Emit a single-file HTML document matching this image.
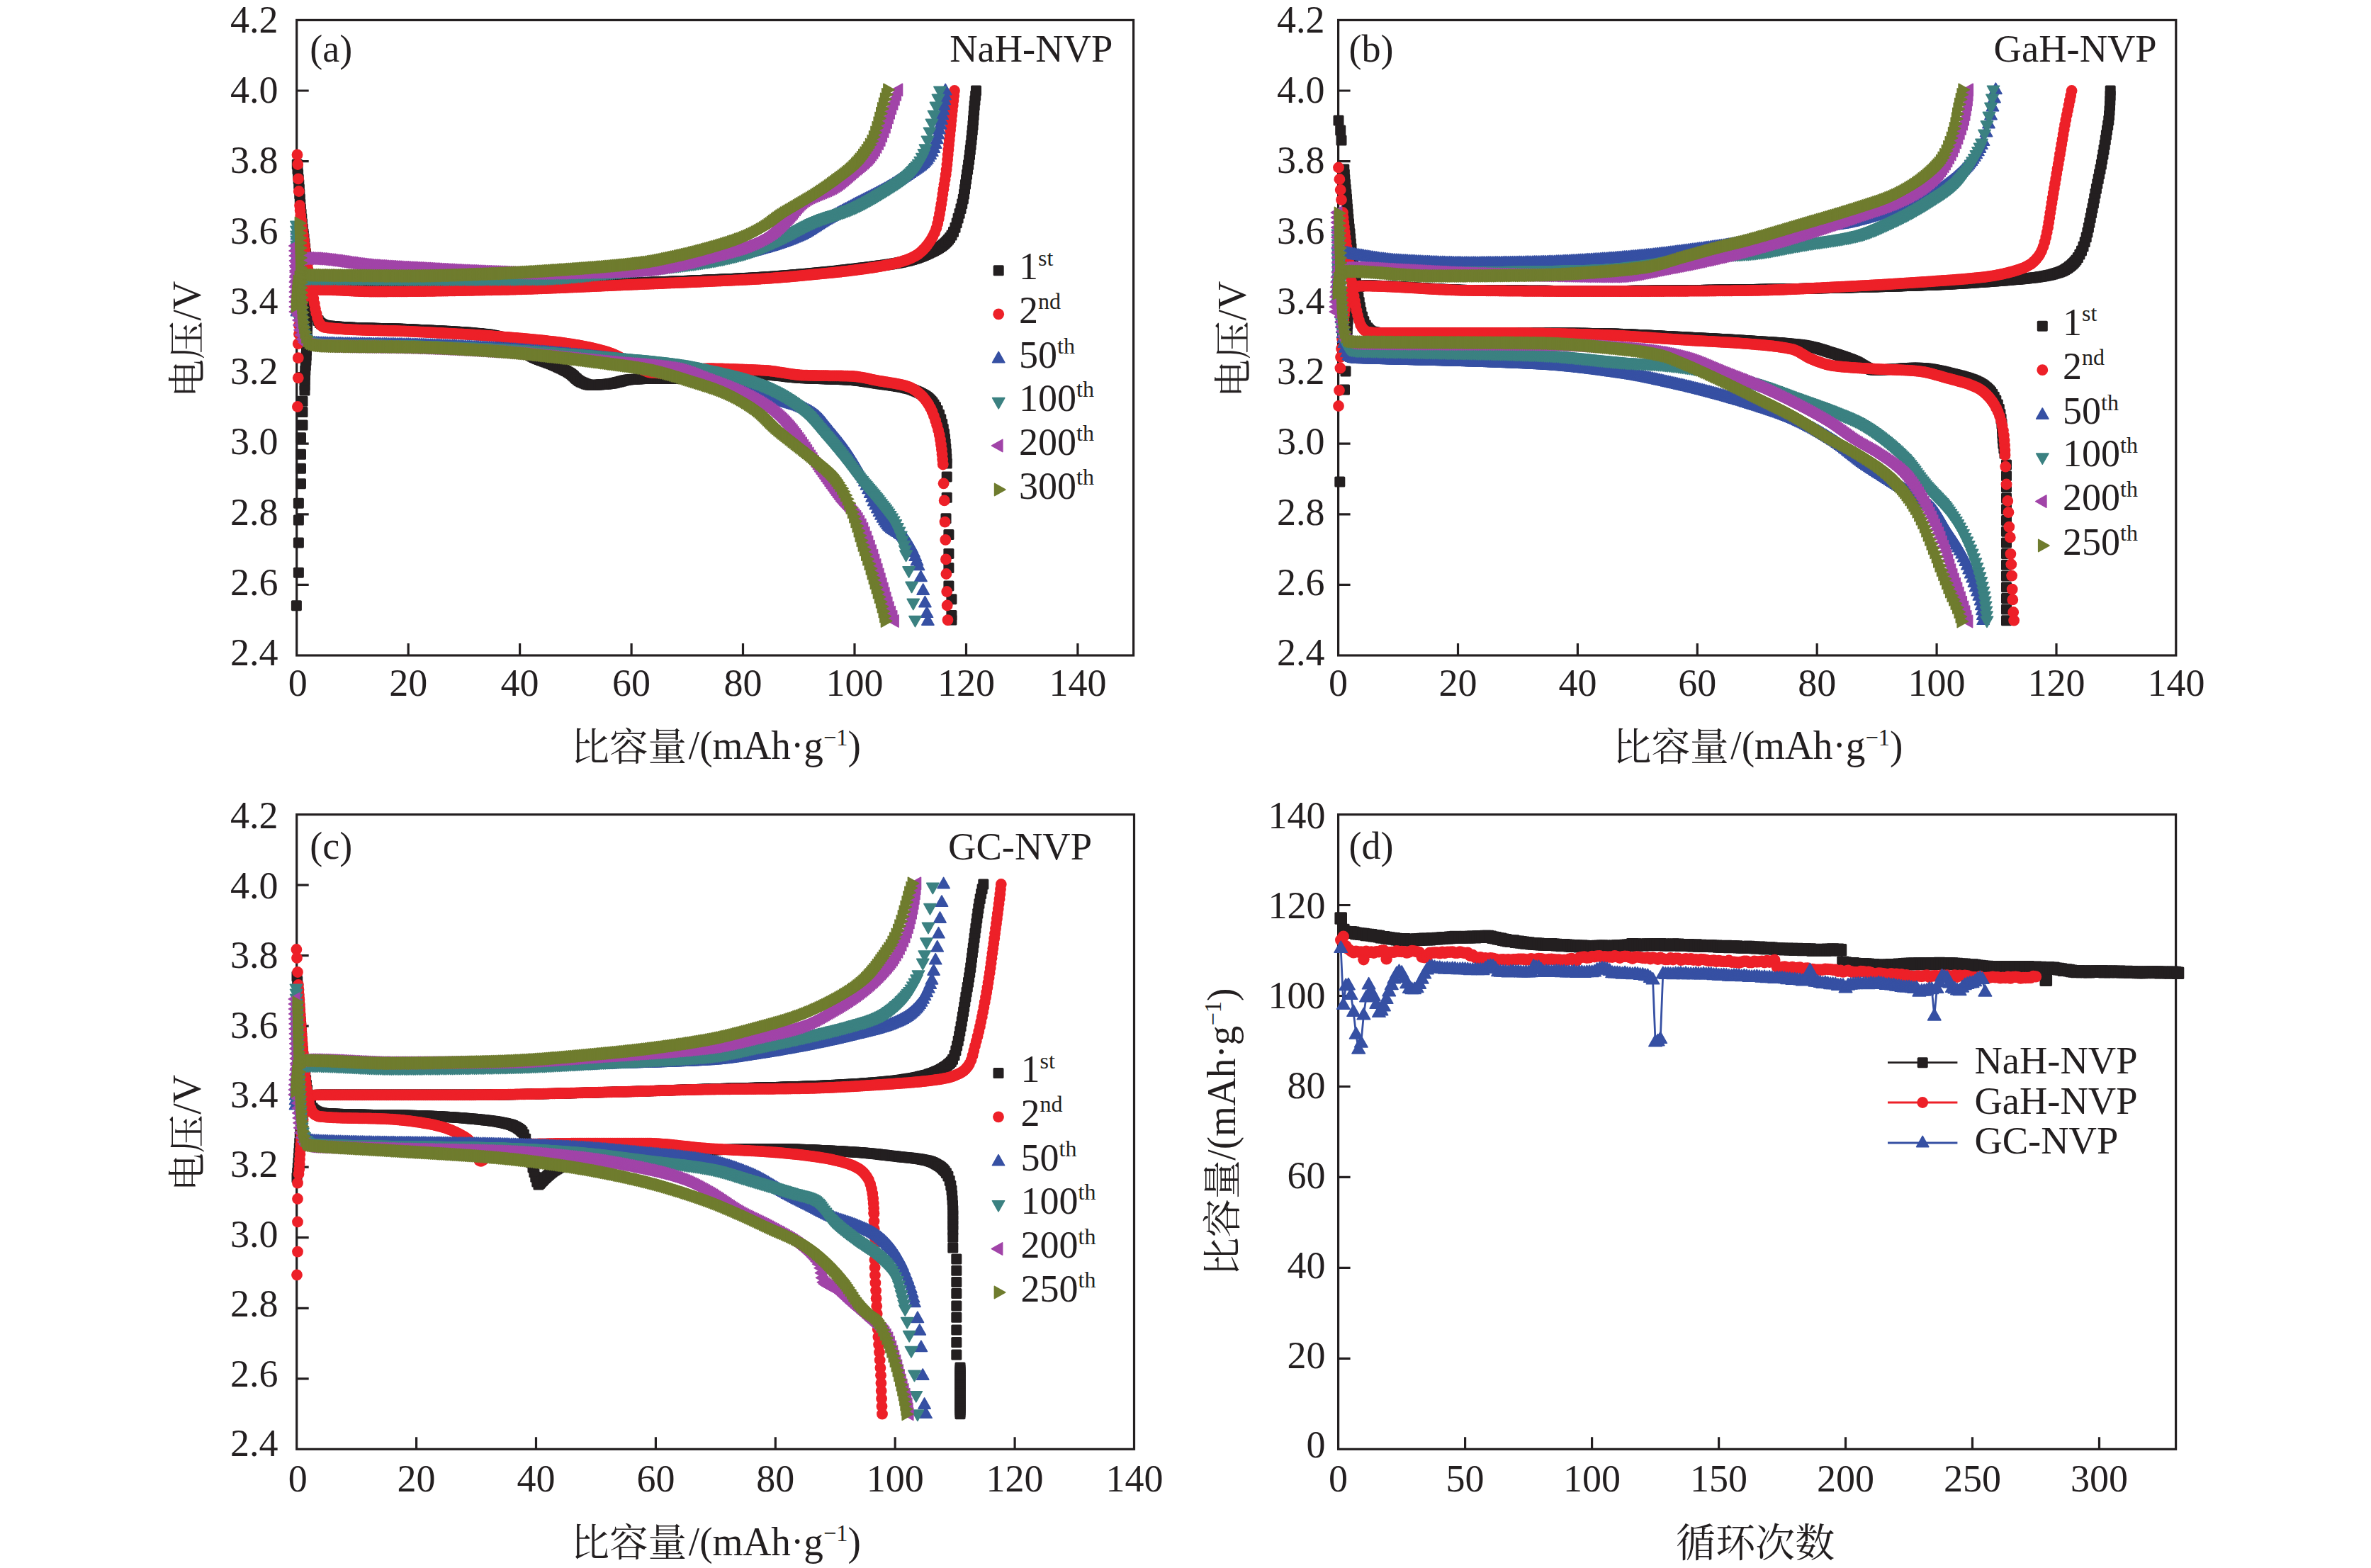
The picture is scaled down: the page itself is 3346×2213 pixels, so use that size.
<!DOCTYPE html>
<html lang="zh"><head><meta charset="utf-8"><title>NVP 充放电曲线与循环性能</title>
<style>
html,body{margin:0;padding:0;background:#fff}
svg{display:block}
.m{fill:none;stroke:none}
.k{marker-start:url(#mk);marker-mid:url(#mk);marker-end:url(#mk)}
.r{marker-start:url(#mr);marker-mid:url(#mr);marker-end:url(#mr)}
.b{marker-start:url(#mb);marker-mid:url(#mb);marker-end:url(#mb)}
.t{marker-start:url(#mt);marker-mid:url(#mt);marker-end:url(#mt)}
.p{marker-start:url(#mp);marker-mid:url(#mp);marker-end:url(#mp)}
.o{marker-start:url(#mo);marker-mid:url(#mo);marker-end:url(#mo)}
.dk{fill:none;stroke:#231f20;stroke-width:2.8;marker-start:url(#dk);marker-mid:url(#dk);marker-end:url(#dk)}
.dr{fill:none;stroke:#ed2028;stroke-width:2.8;marker-start:url(#dr);marker-mid:url(#dr);marker-end:url(#dr)}
.db{fill:none;stroke:#3650a3;stroke-width:2.8;marker-start:url(#db);marker-mid:url(#db);marker-end:url(#db)}
.L{marker-start:none;marker-end:none}
</style></head>
<body>
<svg width="3346" height="2213" viewBox="0 0 3346 2213">
<rect width="3346" height="2213" fill="#fff"/>
<defs>
<marker id="mk" markerUnits="userSpaceOnUse" markerWidth="40" markerHeight="40" refX="0" refY="0" viewBox="-20 -20 40 40" orient="0" overflow="visible"><rect x="-7.5" y="-7.5" width="15" height="15" rx="1.6" fill="#231f20"/></marker>
<marker id="mr" markerUnits="userSpaceOnUse" markerWidth="40" markerHeight="40" refX="0" refY="0" viewBox="-20 -20 40 40" orient="0" overflow="visible"><circle r="7.9" fill="#ed2028"/></marker>
<marker id="mb" markerUnits="userSpaceOnUse" markerWidth="40" markerHeight="40" refX="0" refY="0" viewBox="-20 -20 40 40" orient="0" overflow="visible"><path d="M0,-9.6 L8.6,5.6 L-8.6,5.6Z" fill="#3650a3" stroke="#3650a3" stroke-width="1.6" stroke-linejoin="round"/></marker>
<marker id="mt" markerUnits="userSpaceOnUse" markerWidth="40" markerHeight="40" refX="0" refY="0" viewBox="-20 -20 40 40" orient="0" overflow="visible"><path d="M0,9.6 L8.6,-5.6 L-8.6,-5.6Z" fill="#3b8181" stroke="#3b8181" stroke-width="1.6" stroke-linejoin="round"/></marker>
<marker id="mp" markerUnits="userSpaceOnUse" markerWidth="40" markerHeight="40" refX="0" refY="0" viewBox="-20 -20 40 40" orient="0" overflow="visible"><path d="M-9.6,0 L5.6,8.6 L5.6,-8.6Z" fill="#a144a8" stroke="#a144a8" stroke-width="1.6" stroke-linejoin="round"/></marker>
<marker id="mo" markerUnits="userSpaceOnUse" markerWidth="40" markerHeight="40" refX="0" refY="0" viewBox="-20 -20 40 40" orient="0" overflow="visible"><path d="M9.6,0 L-5.6,8.6 L-5.6,-8.6Z" fill="#6f7c2e" stroke="#6f7c2e" stroke-width="1.6" stroke-linejoin="round"/></marker>
<marker id="dk" markerUnits="userSpaceOnUse" markerWidth="40" markerHeight="40" refX="0" refY="0" viewBox="-20 -20 40 40" orient="0" overflow="visible"><rect x="-8.8" y="-8.8" width="17.6" height="17.6" rx="1.6" fill="#231f20"/></marker>
<marker id="dr" markerUnits="userSpaceOnUse" markerWidth="40" markerHeight="40" refX="0" refY="0" viewBox="-20 -20 40 40" orient="0" overflow="visible"><circle r="8.2" fill="#ed2028"/></marker>
<marker id="db" markerUnits="userSpaceOnUse" markerWidth="40" markerHeight="40" refX="0" refY="0" viewBox="-20 -20 40 40" orient="0" overflow="visible"><path d="M0,-10.2 L9.2,6 L-9.2,6Z" fill="#3650a3" stroke="#3650a3" stroke-width="1.6" stroke-linejoin="round"/></marker>
</defs>
<g font-family="'Liberation Serif','Noto Serif CJK SC',serif" fill="#231f20">
<g fill="none" stroke="#231f20" stroke-width="3.2"><rect x="418.7" y="28.4" width="1180.9" height="896.6"/><path d="M576.2,925v-17M733.6,925v-17M891.1,925v-17M1048.5,925v-17M1206,925v-17M1363.5,925v-17M1520.9,925v-17M418.7,825.4h17M418.7,725.8h17M418.7,626.1h17M418.7,526.5h17M418.7,426.9h17M418.7,327.3h17M418.7,227.6h17M418.7,128h17"/></g>
<text x="420.2" y="982.4" text-anchor="middle" font-size="54">0</text>
<text x="576.2" y="982.4" text-anchor="middle" font-size="54">20</text>
<text x="733.6" y="982.4" text-anchor="middle" font-size="54">40</text>
<text x="891.1" y="982.4" text-anchor="middle" font-size="54">60</text>
<text x="1048.5" y="982.4" text-anchor="middle" font-size="54">80</text>
<text x="1206" y="982.4" text-anchor="middle" font-size="54">100</text>
<text x="1363.5" y="982.4" text-anchor="middle" font-size="54">120</text>
<text x="1520.9" y="982.4" text-anchor="middle" font-size="54">140</text>
<text x="392.6" y="45.7" text-anchor="end" font-size="54">4.2</text>
<text x="392.6" y="145" text-anchor="end" font-size="54">4.0</text>
<text x="392.6" y="244.2" text-anchor="end" font-size="54">3.8</text>
<text x="392.6" y="343.5" text-anchor="end" font-size="54">3.6</text>
<text x="392.6" y="442.7" text-anchor="end" font-size="54">3.4</text>
<text x="392.6" y="542" text-anchor="end" font-size="54">3.2</text>
<text x="392.6" y="641.3" text-anchor="end" font-size="54">3.0</text>
<text x="392.6" y="740.5" text-anchor="end" font-size="54">2.8</text>
<text x="392.6" y="839.8" text-anchor="end" font-size="54">2.6</text>
<text x="392.6" y="939" text-anchor="end" font-size="54">2.4</text>
<g fill="none" stroke="#231f20" stroke-width="3.2"><rect x="1888.6" y="28.4" width="1182.2" height="896.6"/><path d="M2057.5,925v-17M2226.4,925v-17M2395.3,925v-17M2564.2,925v-17M2733.1,925v-17M2902,925v-17M1888.6,825.4h17M1888.6,725.8h17M1888.6,626.1h17M1888.6,526.5h17M1888.6,426.9h17M1888.6,327.3h17M1888.6,227.6h17M1888.6,128h17"/></g>
<text x="1888.6" y="982.4" text-anchor="middle" font-size="54">0</text>
<text x="2057.5" y="982.4" text-anchor="middle" font-size="54">20</text>
<text x="2226.4" y="982.4" text-anchor="middle" font-size="54">40</text>
<text x="2395.3" y="982.4" text-anchor="middle" font-size="54">60</text>
<text x="2564.2" y="982.4" text-anchor="middle" font-size="54">80</text>
<text x="2733.1" y="982.4" text-anchor="middle" font-size="54">100</text>
<text x="2902" y="982.4" text-anchor="middle" font-size="54">120</text>
<text x="3070.9" y="982.4" text-anchor="middle" font-size="54">140</text>
<text x="1869.6" y="45.7" text-anchor="end" font-size="54">4.2</text>
<text x="1869.6" y="145" text-anchor="end" font-size="54">4.0</text>
<text x="1869.6" y="244.2" text-anchor="end" font-size="54">3.8</text>
<text x="1869.6" y="343.5" text-anchor="end" font-size="54">3.6</text>
<text x="1869.6" y="442.7" text-anchor="end" font-size="54">3.4</text>
<text x="1869.6" y="542" text-anchor="end" font-size="54">3.2</text>
<text x="1869.6" y="641.3" text-anchor="end" font-size="54">3.0</text>
<text x="1869.6" y="740.5" text-anchor="end" font-size="54">2.8</text>
<text x="1869.6" y="839.8" text-anchor="end" font-size="54">2.6</text>
<text x="1869.6" y="939" text-anchor="end" font-size="54">2.4</text>
<g fill="none" stroke="#231f20" stroke-width="3.2"><rect x="418.7" y="1149.6" width="1181.8" height="895.7"/><path d="M587.6,2045.3v-17M756.5,2045.3v-17M925.4,2045.3v-17M1094.3,2045.3v-17M1263.2,2045.3v-17M1432.1,2045.3v-17M418.7,1945.8h17M418.7,1846.3h17M418.7,1746.7h17M418.7,1647.2h17M418.7,1547.7h17M418.7,1448.2h17M418.7,1348.6h17M418.7,1249.1h17"/></g>
<text x="420.2" y="2104.9" text-anchor="middle" font-size="54">0</text>
<text x="587.6" y="2104.9" text-anchor="middle" font-size="54">20</text>
<text x="756.5" y="2104.9" text-anchor="middle" font-size="54">40</text>
<text x="925.4" y="2104.9" text-anchor="middle" font-size="54">60</text>
<text x="1094.3" y="2104.9" text-anchor="middle" font-size="54">80</text>
<text x="1263.2" y="2104.9" text-anchor="middle" font-size="54">100</text>
<text x="1432.1" y="2104.9" text-anchor="middle" font-size="54">120</text>
<text x="1601" y="2104.9" text-anchor="middle" font-size="54">140</text>
<text x="392.6" y="1169.2" text-anchor="end" font-size="54">4.2</text>
<text x="392.6" y="1267.6" text-anchor="end" font-size="54">4.0</text>
<text x="392.6" y="1366.1" text-anchor="end" font-size="54">3.8</text>
<text x="392.6" y="1464.5" text-anchor="end" font-size="54">3.6</text>
<text x="392.6" y="1563" text-anchor="end" font-size="54">3.4</text>
<text x="392.6" y="1661.4" text-anchor="end" font-size="54">3.2</text>
<text x="392.6" y="1759.8" text-anchor="end" font-size="54">3.0</text>
<text x="392.6" y="1858.3" text-anchor="end" font-size="54">2.8</text>
<text x="392.6" y="1956.7" text-anchor="end" font-size="54">2.6</text>
<text x="392.6" y="2055.2" text-anchor="end" font-size="54">2.4</text>
<g fill="none" stroke="#231f20" stroke-width="3.2"><rect x="1888.6" y="1149.6" width="1182" height="895.7"/><path d="M2067.6,2045.3v-17M2246.6,2045.3v-17M2425.6,2045.3v-17M2604.5,2045.3v-17M2783.5,2045.3v-17M2962.5,2045.3v-17M1888.6,1917.3h17M1888.6,1789.4h17M1888.6,1661.4h17M1888.6,1533.5h17M1888.6,1405.5h17M1888.6,1277.5h17"/></g>
<text x="1888.6" y="2105.1" text-anchor="middle" font-size="54">0</text>
<text x="2067.6" y="2105.1" text-anchor="middle" font-size="54">50</text>
<text x="2246.6" y="2105.1" text-anchor="middle" font-size="54">100</text>
<text x="2425.6" y="2105.1" text-anchor="middle" font-size="54">150</text>
<text x="2604.5" y="2105.1" text-anchor="middle" font-size="54">200</text>
<text x="2783.5" y="2105.1" text-anchor="middle" font-size="54">250</text>
<text x="2962.5" y="2105.1" text-anchor="middle" font-size="54">300</text>
<text x="1870.6" y="2057.4" text-anchor="end" font-size="54">0</text>
<text x="1870.6" y="1930.5" text-anchor="end" font-size="54">20</text>
<text x="1870.6" y="1803.6" text-anchor="end" font-size="54">40</text>
<text x="1870.6" y="1676.8" text-anchor="end" font-size="54">60</text>
<text x="1870.6" y="1549.9" text-anchor="end" font-size="54">80</text>
<text x="1870.6" y="1423" text-anchor="end" font-size="54">100</text>
<text x="1870.6" y="1296.1" text-anchor="end" font-size="54">120</text>
<text x="1870.6" y="1169.2" text-anchor="end" font-size="54">140</text>
<text x="437.2" y="86.8" text-anchor="start" font-size="54">(a)</text>
<text x="1903.5" y="86.8" text-anchor="start" font-size="54">(b)</text>
<text x="437.2" y="1212.3" text-anchor="start" font-size="54">(c)</text>
<text x="1903.5" y="1212.3" text-anchor="start" font-size="54">(d)</text>
<text x="1570.3" y="87.1" text-anchor="end" font-size="54.5">NaH-NVP</text>
<text x="3043.7" y="87.1" text-anchor="end" font-size="54.5">GaH-NVP</text>
<text x="1541" y="1212.9" text-anchor="end" font-size="54.5">GC-NVP</text>
<text x="805.5" y="1072.8" font-size="54.5">比容量</text><text x="971.8" y="1071.3" font-size="58" textLength="243" lengthAdjust="spacingAndGlyphs"><tspan>/(mAh·g</tspan><tspan font-size="34" dy="-19.5">−1</tspan><tspan dy="19.5">)</tspan></text>
<text x="2276" y="1072.8" font-size="54.5">比容量</text><text x="2442.3" y="1071.3" font-size="58" textLength="243" lengthAdjust="spacingAndGlyphs"><tspan>/(mAh·g</tspan><tspan font-size="34" dy="-19.5">−1</tspan><tspan dy="19.5">)</tspan></text>
<text x="805.5" y="2196.2" font-size="54.5">比容量</text><text x="971.8" y="2194.7" font-size="58" textLength="243" lengthAdjust="spacingAndGlyphs"><tspan>/(mAh·g</tspan><tspan font-size="34" dy="-19.5">−1</tspan><tspan dy="19.5">)</tspan></text>
<text x="2365.3" y="2196.5" font-size="56">循环次数</text>
<g transform="translate(282.6,561) rotate(-90)"><text x="0" y="1.5" font-size="54">电压</text><text x="108.5" y="0" font-size="58" textLength="56" lengthAdjust="spacingAndGlyphs">/V</text></g>
<g transform="translate(1758,561) rotate(-90)"><text x="0" y="1.5" font-size="54">电压</text><text x="108.5" y="0" font-size="58" textLength="56" lengthAdjust="spacingAndGlyphs">/V</text></g>
<g transform="translate(282.6,1681.3) rotate(-90)"><text x="0" y="1.5" font-size="54">电压</text><text x="108.5" y="0" font-size="58" textLength="56" lengthAdjust="spacingAndGlyphs">/V</text></g>
<g transform="translate(1742.8,1801) rotate(-90)"><text x="0" y="1.5" font-size="54.5">比容量</text><text x="163.3" y="0" font-size="58" textLength="243" lengthAdjust="spacingAndGlyphs"><tspan>/(mAh·g</tspan><tspan font-size="34" dy="-19.5">−1</tspan><tspan dy="19.5">)</tspan></text></g>
</g>
<g fill="none" stroke="none">
<polyline class="m k" points="418.4,854.7 421.4,808.2 421.4,765.9 421.4,734 421.4,710.2 424.5,682.7 424.5,661.2 424.5,641.3 424.5,617.8 427,600 427,581.6 427,566.3"/><polyline class="m k" points="430,551 430.1,544 430.2,537 430.5,530 430.8,523 431.3,516 431.9,509 432.2,502 432.5,495.1 432.7,488.1 433,481.1 433.2,474.1 433.4,467.1 433.6,460.1 433.9,453.1 434.2,446.1 434.6,439.1 435.2,432.1 436,425.1 437.4,418.3 439.7,412.4 441.7,410.1 443.8,408.6 446.2,407.5 448.7,406.9 451.3,406.7 453.9,406.5 456.5,406.5 459.1,406.5 461.7,406.5 464.3,406.6 466.9,406.6 469.5,406.7 472.1,406.8 474.7,406.9 477.3,407 479.9,407.1 482.5,407.2 485.1,407.3 487.7,407.4 490.3,407.5 492.9,407.6 495.5,407.7 498.1,407.8 500.7,407.9 503.3,408 505.9,408.1 508.5,408.2 511.1,408.2 513.7,408.3 516.3,408.4 518.9,408.4 521.5,408.5 524.1,408.5 526.7,408.5 529.3,408.5 531.9,408.5 534.5,408.5 537.1,408.5 539.7,408.5 542.3,408.5 544.9,408.5 547.5,408.5 550.1,408.4 552.7,408.4 555.3,408.4 557.9,408.4 560.5,408.4 563.1,408.4 565.7,408.3 568.3,408.3 570.9,408.3 573.5,408.3 576.1,408.2 578.7,408.2 581.3,408.2 583.9,408.2 586.5,408.1 589.1,408.1 591.7,408.1 594.3,408 596.9,408 599.5,408 602.1,407.9 604.7,407.9 607.3,407.9 609.9,407.8 612.5,407.8 615.1,407.7 617.7,407.7 620.3,407.7 622.9,407.6 625.5,407.6 628.1,407.5 630.7,407.5 633.3,407.4 635.9,407.4 638.5,407.4 641.1,407.3 643.7,407.3 646.3,407.2 648.9,407.2 651.5,407.1 654.1,407.1 656.7,407 659.3,407 661.9,406.9 664.5,406.9 667.1,406.8 669.7,406.8 672.3,406.7 674.9,406.7 677.5,406.6 680.1,406.5 682.7,406.5 685.3,406.4 687.9,406.4 690.5,406.3 693.1,406.3 695.7,406.2 698.3,406.2 700.9,406.1 703.5,406.1 706.1,406 708.7,405.9 711.3,405.9 713.9,405.8 716.5,405.7 719.1,405.7 721.7,405.6 724.3,405.5 726.9,405.4 729.5,405.3 732.1,405.2 734.7,405.1 737.3,405 739.9,404.9 742.5,404.8 745.1,404.7 747.7,404.6 750.3,404.5 752.9,404.3 755.5,404.2 758.1,404.1 760.7,404 763.3,403.8 765.9,403.7 768.5,403.6 771.1,403.4 773.7,403.3 776.3,403.2 778.9,403 781.5,402.9 784.1,402.8 786.7,402.6 789.3,402.5 791.9,402.4 794.5,402.2 797.1,402.1 799.7,402 802.3,401.8 804.8,401.7 807.4,401.6 810,401.5 812.6,401.3 815.2,401.2 817.8,401.1 820.4,401 823,400.8 825.6,400.7 828.2,400.6 830.8,400.5 833.4,400.4 836,400.3 838.6,400.2 841.2,400.1 843.8,400 846.4,399.9 849,399.8 851.6,399.7 854.2,399.7 856.8,399.6 859.4,399.5 862,399.4 864.6,399.4 867.2,399.3 869.8,399.3 872.4,399.2 875,399.2 877.6,399.1 880.2,399.1 882.8,399 885.4,399 888,398.9 890.6,398.9 893.2,398.9 895.8,398.8 898.4,398.8 901,398.7 903.6,398.7 906.2,398.6 908.8,398.5 911.4,398.5 914,398.4 916.6,398.3 919.2,398.2 921.8,398.2 924.4,398.1 927,398 929.6,397.9 932.2,397.8 934.8,397.7 937.4,397.6 940,397.5 942.6,397.4 945.2,397.3 947.8,397.2 950.4,397.1 953,397 955.6,396.9 958.2,396.8 960.8,396.7 963.4,396.6 966,396.5 968.6,396.4 971.2,396.3 973.8,396.2 976.4,396 979,395.9 981.6,395.8 984.2,395.7 986.8,395.6 989.4,395.5 992,395.4 994.6,395.2 997.2,395.1 999.8,395 1002.4,394.9 1005,394.8 1007.6,394.7 1010.2,394.6 1012.8,394.4 1015.4,394.3 1018,394.2 1020.6,394.1 1023.2,394 1025.8,393.9 1028.4,393.7 1031,393.6 1033.6,393.5 1036.2,393.4 1038.8,393.2 1041.4,393.1 1044,393 1046.6,392.9 1049.2,392.7 1051.7,392.6 1054.3,392.5 1056.9,392.3 1059.5,392.2 1062.1,392 1064.7,391.9 1067.3,391.7 1069.9,391.6 1072.5,391.4 1075.1,391.3 1077.7,391.1 1080.3,391 1082.9,390.8 1085.5,390.6 1088.1,390.4 1090.7,390.3 1093.3,390.1 1095.9,389.9 1098.5,389.7 1101.1,389.5 1103.7,389.3 1106.3,389.1 1108.8,388.9 1111.4,388.7 1114,388.5 1116.6,388.3 1119.2,388 1121.8,387.8 1124.4,387.6 1127,387.4 1129.6,387.1 1132.2,386.9 1134.8,386.7 1137.4,386.4 1139.9,386.2 1142.5,386 1145.1,385.7 1147.7,385.5 1150.3,385.3 1152.9,385 1155.5,384.8 1158.1,384.5 1160.7,384.3 1163.2,384 1165.8,383.8 1168.4,383.5 1171,383.2 1173.6,383 1176.2,382.7 1178.8,382.4 1181.4,382.2 1183.9,381.9 1186.5,381.6 1189.1,381.3 1191.7,381 1194.3,380.7 1196.9,380.4 1199.5,380.1 1202,379.8 1204.6,379.5 1207.2,379.2 1209.8,378.9 1212.4,378.6 1214.9,378.3 1217.5,378 1220.1,377.7 1222.7,377.4 1225.3,377 1227.9,376.7 1230.4,376.4 1233,376.1 1235.6,375.7 1238.2,375.4 1240.8,375.1 1243.3,374.8 1245.9,374.4 1248.5,374.1 1251.1,373.7 1253.6,373.3 1256.2,373 1258.8,372.6 1261.4,372.1 1263.9,371.7 1266.5,371.3 1269,370.8 1271.6,370.3 1274.1,369.7 1276.7,369.1 1279.2,368.5 1281.7,367.9 1284.2,367.2 1286.7,366.5 1289.2,365.7 1291.7,365 1294.2,364.2 1296.6,363.3 1299.1,362.4 1301.5,361.4 1303.9,360.4 1306.3,359.4 1308.6,358.3 1311,357.2 1313.3,356.1 1315.7,355 1318,353.8 1320.3,352.5 1322.5,351.3 1324.8,349.9 1326.9,348.5 1329.1,347 1331.1,345.4 1333.1,343.7 1335,341.9 1336.8,340.1 1338.6,338.1 1340.6,335.5 1343,332.1 1345.5,327.3 1348,321.3 1350.2,314.7 1352.1,308 1354.1,301.3 1356,294.5 1357.7,287.7 1359.3,280.9 1360.5,274 1361.5,267.1 1362.5,260.2 1363.5,253.2 1364.5,246.3 1365.6,239.4 1366.6,232.5 1367.6,225.5 1368.5,218.6 1369.3,211.6 1370.1,204.7 1370.9,197.7 1371.6,190.7 1372.3,183.8 1373,176.8 1373.5,169.8 1374.1,162.8 1374.6,155.9 1375.2,148.9 1375.9,141.9 1376.7,135 1377.5,128"/><polyline class="m k" points="419.3,232 420,239 420.6,245.9 421.2,252.9 421.8,259.9 422.3,266.9 422.8,273.9 423.3,280.9 423.8,287.9 424.4,294.8 425.1,301.8 425.8,308.8 426.5,315.7 427.3,322.7 428.1,329.7 429,336.6 429.8,343.6 430.6,350.5 431.4,357.5 432.2,364.4 432.9,371.4 433.8,378.4 434.7,385.3 435.6,392.2 436.6,399.2 437.6,406.1 438.8,413 440,419.9 441.3,426.8 442.8,433.6 444.5,440.4 446.7,447 449.2,452.5 451.4,455.5 453.5,457 455.8,458.3 458.2,459.1 460.8,459.6 463.4,459.9 465.9,460.1 468.5,460.4 471.1,460.6 473.7,460.8 476.3,461 478.9,461.2 481.5,461.4 484.1,461.5 486.7,461.7 489.3,461.8 491.9,462 494.5,462.1 497.1,462.2 499.7,462.4 502.3,462.5 504.9,462.6 507.5,462.7 510.1,462.7 512.7,462.8 515.3,462.9 517.9,463 520.5,463.1 523.1,463.1 525.7,463.2 528.3,463.3 530.9,463.3 533.5,463.4 536.1,463.5 538.7,463.5 541.3,463.6 543.9,463.6 546.5,463.7 549.1,463.8 551.7,463.8 554.3,463.9 556.9,464 559.5,464.1 562.1,464.1 564.7,464.2 567.3,464.3 569.9,464.4 572.5,464.5 575.1,464.6 577.7,464.7 580.3,464.9 582.9,465 585.5,465.1 588.1,465.3 590.7,465.4 593.3,465.5 595.9,465.6 598.5,465.8 601.1,465.9 603.7,466 606.3,466.1 608.9,466.3 611.5,466.4 614.1,466.5 616.7,466.7 619.3,466.8 621.9,466.9 624.5,467.1 627.1,467.2 629.7,467.3 632.3,467.5 634.9,467.6 637.5,467.8 640.1,467.9 642.7,468.1 645.2,468.2 647.8,468.4 650.4,468.6 653,468.8 655.6,468.9 658.2,469.1 660.8,469.3 663.4,469.5 666,469.7 668.6,469.9 671.2,470.2 673.8,470.4 676.4,470.6 679,470.9 681.6,471.2 684.1,471.4 686.7,471.8 689.3,472.1 691.9,472.5 694.4,472.9 697,473.4 699.5,473.9 702.1,474.5 704.6,475.2 707,476.1 709.5,477.1 711.8,478.1 714.2,479.2 716.5,480.4 718.8,481.6 721.1,482.9 723.3,484.2 725.6,485.5 727.8,486.8 730.1,488.1 732.3,489.4 734.5,490.9 736.5,492.4 738.6,494 740.6,495.7 742.7,497.3 744.7,498.9 746.8,500.4 749,501.9 751.2,503.2 753.5,504.4 755.9,505.5 758.3,506.5 760.7,507.5 763.1,508.4 765.6,509.3 768,510.2 770.5,511.1 772.9,511.9 775.4,512.8 777.8,513.8 780.2,514.7 782.6,515.8 785,516.8 787.3,517.9 789.7,519 792.1,520.1 794.4,521.2 796.7,522.4 799,523.6 801.3,524.9 803.5,526.2 805.7,527.7 807.7,529.3 809.6,531.1 811.5,532.9 813.4,534.6 815.4,536.3 817.5,537.8 819.8,539 822.2,540.1 824.6,541.1 827.1,542 829.5,542.7 832.1,543.2 834.7,543.4 837.3,543.4 839.9,543.3 842.5,543.2 845.1,543 847.7,542.8 850.3,542.6 852.9,542.4 855.5,542.2 858,541.9 860.6,541.6 863.2,541.3 865.8,540.8 868.3,540.2 870.8,539.6 873.4,539 875.9,538.3 878.4,537.7 880.9,537.1 883.5,536.6 886,536.1 888.6,535.8 891.2,535.6 893.8,535.4 896.4,535.2 899,535 901.6,534.9 904.2,534.7 906.8,534.6 909.4,534.4 912,534.3 914.6,534.3 917.2,534.2 919.8,534.2 922.4,534.2 925,534.2 927.6,534.2 930.2,534.2 932.8,534.2 935.4,534.2 938,534.2 940.6,534.2 943.2,534.2 945.8,534.2 948.4,534.2 951,534.2 953.6,534.2 956.2,534.1 958.8,534 961.4,533.8 964,533.6 966.6,533.3 969.2,533.1 971.8,532.8 974.4,532.5 976.9,532.2 979.5,531.9 982.1,531.6 984.7,531.3 987.3,531 989.9,530.7 992.5,530.5 995.1,530.3 997.6,530.1 1000.2,530 1002.8,529.9 1005.4,529.8 1008,529.7 1010.6,529.6 1013.2,529.5 1015.8,529.4 1018.4,529.3 1021,529.2 1023.6,529.1 1026.2,529 1028.8,528.9 1031.4,528.8 1034,528.7 1036.6,528.7 1039.2,528.6 1041.8,528.5 1044.4,528.5 1047,528.4 1049.7,528.4 1052.3,528.3 1054.9,528.3 1057.5,528.3 1060.1,528.2 1062.7,528.2 1065.3,528.2 1067.9,528.2 1070.5,528.2 1073.1,528.3 1075.7,528.4 1078.3,528.5 1080.9,528.7 1083.5,528.9 1086,529.1 1088.6,529.3 1091.2,529.5 1093.8,529.8 1096.4,530 1099,530.3 1101.6,530.6 1104.2,530.8 1106.8,531.1 1109.3,531.4 1111.9,531.7 1114.5,532 1117.1,532.2 1119.7,532.5 1122.3,532.7 1124.9,533 1127.5,533.2 1130.1,533.4 1132.7,533.5 1135.3,533.7 1137.9,533.8 1140.5,533.9 1143.1,534 1145.7,534.1 1148.3,534.2 1150.9,534.3 1153.5,534.4 1156.1,534.5 1158.7,534.6 1161.3,534.7 1163.9,534.7 1166.5,534.8 1169.1,534.9 1171.7,535 1174.3,535.1 1176.9,535.2 1179.5,535.3 1182.1,535.4 1184.7,535.5 1187.3,535.6 1189.9,535.7 1192.5,535.8 1195.1,535.9 1197.6,536.1 1200.2,536.3 1202.8,536.4 1205.4,536.6 1208,536.9 1210.6,537.2 1213.2,537.5 1215.8,537.8 1218.4,538.2 1220.9,538.5 1223.5,538.9 1226.1,539.3 1228.6,539.7 1231.2,540.1 1233.8,540.5 1236.4,540.9 1238.9,541.3 1241.5,541.7 1244.1,542 1246.7,542.4 1249.2,542.8 1251.8,543.1 1254.4,543.5 1257,543.8 1259.5,544.2 1262.1,544.6 1264.7,545 1267.2,545.4 1269.8,545.8 1272.4,546.3 1274.9,546.8 1277.5,547.4 1280,548 1282.5,548.6 1285,549.3 1287.5,550.1 1289.9,551 1292.4,552 1294.8,553 1297.1,554 1299.5,555.2 1301.8,556.4 1304,557.7 1306.2,559.1 1308.3,560.6 1310.3,562.3 1312.2,564.1 1314,565.9 1315.9,568.1 1318,570.9 1320.5,574.6 1323.1,579.5 1325.5,585.3 1327.8,591.8 1329.7,598.5 1331.2,605.4 1332.5,612.3 1333.5,619.2 1334.2,626.2 1334.8,633.1 1335.4,640.1 1335.8,647.1 1336.2,654.1"/><polyline class="m k" points="1336.2,672.9 1336.2,702.3 1335,731.8 1338.9,754.6 1338.9,781.4 1338.9,801.5 1338.9,826.9 1342.9,845.7 1342.9,868.4 1342.9,875.1"/><polyline class="m r" points="419.9,574 420.8,533.3 420.8,505.1 420.8,485.2 422,471.4 422,459.2"/><polyline class="m r" points="423,450 423.6,443 424.5,436.1 425.8,429.2 427.4,422.4 429.8,416.5 432,413.3 433.9,411.6 436.3,410.5 438.8,409.8 441.4,409.3 444,409 446.6,409 449.2,409 451.8,409 454.4,409 457,409 459.6,409 462.2,409.1 464.8,409.1 467.4,409.2 470,409.3 472.6,409.4 475.2,409.5 477.8,409.6 480.4,409.7 483,409.8 485.6,410 488.2,410.1 490.8,410.2 493.4,410.4 496,410.5 498.6,410.6 501.2,410.8 503.8,410.9 506.4,411 509,411.1 511.6,411.2 514.2,411.3 516.8,411.4 519.4,411.4 522,411.5 524.6,411.5 527.2,411.5 529.8,411.5 532.4,411.5 535,411.5 537.6,411.5 540.2,411.5 542.8,411.5 545.4,411.5 548,411.4 550.6,411.4 553.2,411.4 555.8,411.4 558.4,411.4 561,411.4 563.6,411.4 566.2,411.3 568.8,411.3 571.4,411.3 574,411.3 576.6,411.2 579.2,411.2 581.8,411.2 584.4,411.1 587,411.1 589.6,411.1 592.2,411.1 594.8,411 597.4,411 600,411 602.6,410.9 605.2,410.9 607.8,410.8 610.4,410.8 613,410.8 615.6,410.7 618.2,410.7 620.8,410.6 623.4,410.6 626,410.5 628.6,410.5 631.2,410.5 633.9,410.4 636.5,410.4 639.1,410.3 641.7,410.3 644.3,410.2 646.9,410.2 649.5,410.1 652.1,410.1 654.7,410 657.3,410 659.9,409.9 662.5,409.9 665.1,409.8 667.7,409.8 670.3,409.7 672.9,409.7 675.5,409.6 678.1,409.6 680.7,409.5 683.3,409.5 685.9,409.4 688.5,409.4 691.1,409.3 693.7,409.3 696.3,409.2 698.9,409.1 701.5,409.1 704.1,409 706.7,409 709.3,408.9 711.9,408.9 714.5,408.8 717.1,408.8 719.7,408.7 722.3,408.6 724.9,408.6 727.5,408.5 730.1,408.4 732.7,408.3 735.3,408.3 737.9,408.2 740.5,408.1 743.1,408 745.7,407.9 748.3,407.9 750.9,407.8 753.5,407.7 756.1,407.6 758.7,407.5 761.3,407.4 763.9,407.3 766.5,407.2 769.1,407.1 771.7,407 774.3,406.9 776.9,406.8 779.5,406.7 782.1,406.6 784.7,406.5 787.3,406.4 789.9,406.3 792.5,406.2 795.1,406.1 797.7,406 800.3,405.9 802.9,405.7 805.5,405.6 808.1,405.5 810.7,405.4 813.3,405.3 815.9,405.2 818.5,405.1 821.1,404.9 823.7,404.8 826.3,404.7 828.9,404.6 831.5,404.5 834.1,404.4 836.7,404.2 839.3,404.1 841.9,404 844.5,403.9 847.1,403.8 849.7,403.6 852.3,403.5 854.9,403.4 857.5,403.3 860.1,403.2 862.7,403.1 865.3,402.9 867.9,402.8 870.5,402.7 873.1,402.6 875.7,402.5 878.3,402.4 880.9,402.2 883.5,402.1 886.1,402 888.7,401.9 891.3,401.8 893.9,401.7 896.5,401.6 899.1,401.5 901.7,401.3 904.3,401.2 906.9,401.1 909.5,401 912.1,400.9 914.7,400.8 917.3,400.7 919.9,400.6 922.5,400.5 925.1,400.4 927.7,400.3 930.3,400.2 932.9,400.1 935.5,400 938.1,399.9 940.7,399.7 943.3,399.6 945.9,399.5 948.5,399.4 951.1,399.3 953.7,399.2 956.3,399.1 958.9,399 961.5,398.9 964.1,398.8 966.7,398.7 969.3,398.6 971.9,398.4 974.5,398.3 977.1,398.2 979.7,398.1 982.3,398 984.9,397.9 987.5,397.8 990.1,397.6 992.7,397.5 995.3,397.4 997.9,397.3 1000.5,397.2 1003.1,397.1 1005.7,396.9 1008.3,396.8 1010.9,396.7 1013.5,396.6 1016.1,396.5 1018.7,396.4 1021.3,396.2 1023.9,396.1 1026.5,396 1029.1,395.9 1031.7,395.8 1034.3,395.6 1036.9,395.5 1039.5,395.4 1042.1,395.3 1044.7,395.1 1047.3,395 1049.9,394.9 1052.5,394.8 1055.1,394.6 1057.7,394.5 1060.3,394.3 1062.9,394.2 1065.5,394.1 1068.1,393.9 1070.7,393.8 1073.3,393.6 1075.9,393.4 1078.5,393.3 1081.1,393.1 1083.6,392.9 1086.2,392.8 1088.8,392.6 1091.4,392.4 1094,392.2 1096.6,392 1099.2,391.8 1101.8,391.6 1104.4,391.4 1107,391.2 1109.6,391 1112.2,390.8 1114.8,390.5 1117.4,390.3 1120,390.1 1122.6,389.9 1125.2,389.6 1127.7,389.4 1130.3,389.2 1132.9,388.9 1135.5,388.7 1138.1,388.4 1140.7,388.2 1143.3,387.9 1145.9,387.7 1148.5,387.4 1151.1,387.2 1153.6,386.9 1156.2,386.7 1158.8,386.4 1161.4,386.2 1164,385.9 1166.6,385.7 1169.2,385.4 1171.8,385.1 1174.4,384.9 1176.9,384.6 1179.5,384.3 1182.1,384 1184.7,383.8 1187.3,383.5 1189.9,383.2 1192.5,382.9 1195.1,382.6 1197.6,382.3 1200.2,382 1202.8,381.7 1205.4,381.3 1208,381 1210.5,380.7 1213.1,380.3 1215.7,380 1218.3,379.6 1220.9,379.3 1223.4,378.9 1226,378.5 1228.6,378.2 1231.2,377.8 1233.7,377.4 1236.3,377 1238.9,376.5 1241.4,376.1 1244,375.6 1246.6,375.2 1249.1,374.7 1251.7,374.2 1254.2,373.7 1256.8,373.1 1259.3,372.6 1261.8,372 1264.4,371.3 1266.9,370.7 1269.4,370 1271.9,369.3 1274.4,368.5 1276.8,367.7 1279.3,366.8 1281.7,365.9 1284.1,364.9 1286.5,363.8 1288.9,362.7 1291.2,361.5 1293.4,360.2 1295.6,358.8 1297.7,357.2 1299.6,355.5 1301.6,353.7 1303.4,351.9 1305.2,350 1307,347.9 1309,345.3 1311.3,342.1 1313.8,338.3 1316.4,333.8 1319,328.5 1321.3,322.3 1323.2,315.5 1324.7,308.7 1326,301.8 1327.2,294.9 1328.3,288 1329.4,281.1 1330.4,274.1 1331.4,267.2 1332.5,260.3 1333.6,253.4 1334.7,246.5 1335.6,239.5 1336.4,232.5 1337.1,225.6 1337.7,218.6 1338.4,211.6 1339,204.6 1339.7,197.7 1340.4,190.7 1341.1,183.7 1341.8,176.8 1342.5,169.8 1343.2,162.8 1343.9,155.9 1344.7,148.9 1345.4,141.9 1346.2,135 1347,128"/><polyline class="m r" points="419.5,218.4 420.2,232 421,252.4 421.8,270"/><polyline class="m r" points="423,290 423.6,297 424.3,303.9 425.1,310.9 426,317.9 426.9,324.8 427.9,331.7 428.8,338.7 429.7,345.6 430.6,352.6 431.5,359.5 432.5,366.4 433.5,373.4 434.6,380.3 435.7,387.2 436.9,394.1 438.2,401 439.5,407.9 440.9,414.7 442.3,421.6 443.7,428.5 444.9,435.4 446.3,442.2 448.1,449 450.4,455.3 452.6,458.7 454.6,460.5 456.9,461.7 459.4,462.2 462,462.5 464.6,462.8 467.2,463.1 469.8,463.3 472.4,463.6 474.9,463.8 477.5,464 480.1,464.2 482.7,464.4 485.3,464.6 487.9,464.8 490.5,464.9 493.1,465 495.7,465.2 498.3,465.3 500.9,465.4 503.5,465.5 506.1,465.6 508.7,465.7 511.3,465.8 513.9,465.9 516.5,466 519.1,466.1 521.7,466.1 524.3,466.2 526.9,466.3 529.5,466.3 532.1,466.4 534.7,466.5 537.3,466.5 539.9,466.6 542.5,466.6 545.1,466.7 547.7,466.8 550.3,466.8 552.9,466.9 555.5,467 558.1,467 560.7,467.1 563.3,467.2 565.9,467.3 568.5,467.4 571.1,467.5 573.7,467.6 576.3,467.7 578.9,467.8 581.5,467.9 584.1,468.1 586.7,468.2 589.3,468.3 591.9,468.5 594.5,468.6 597.1,468.7 599.7,468.8 602.3,469 604.9,469.1 607.5,469.2 610.1,469.4 612.7,469.5 615.3,469.6 617.9,469.8 620.5,469.9 623.1,470 625.7,470.1 628.3,470.3 630.9,470.4 633.5,470.6 636.1,470.7 638.7,470.8 641.3,471 643.9,471.1 646.5,471.3 649.1,471.4 651.7,471.5 654.3,471.7 656.9,471.8 659.4,472 662,472.2 664.6,472.3 667.2,472.5 669.8,472.6 672.4,472.8 675,473 677.6,473.1 680.2,473.3 682.8,473.5 685.4,473.7 688,473.8 690.6,474 693.2,474.2 695.8,474.4 698.4,474.6 701,474.8 703.6,475 706.2,475.2 708.8,475.4 711.4,475.6 713.9,475.8 716.5,476 719.1,476.2 721.7,476.4 724.3,476.6 726.9,476.8 729.5,477 732.1,477.3 734.7,477.5 737.3,477.7 739.9,478 742.5,478.2 745.1,478.4 747.6,478.7 750.2,478.9 752.8,479.2 755.4,479.4 758,479.7 760.6,479.9 763.2,480.2 765.8,480.5 768.3,480.7 770.9,481 773.5,481.3 776.1,481.6 778.7,481.9 781.3,482.2 783.9,482.5 786.4,482.8 789,483.2 791.6,483.5 794.2,483.8 796.8,484.2 799.3,484.6 801.9,484.9 804.5,485.3 807,485.7 809.6,486.1 812.2,486.6 814.7,487 817.3,487.4 819.9,487.9 822.4,488.4 825,488.9 827.5,489.4 830.1,489.9 832.6,490.4 835.2,491 837.7,491.6 840.2,492.2 842.8,492.8 845.3,493.4 847.8,494.1 850.3,494.8 852.8,495.5 855.3,496.2 857.8,497 860.3,497.8 862.7,498.7 865.1,499.7 867.5,500.7 869.9,501.8 872.2,502.9 874.5,504.1 876.8,505.3 879.1,506.5 881.5,507.7 883.8,508.9 886.1,510.1 888.4,511.2 890.8,512.4 893.1,513.6 895.3,514.8 897.6,516.2 899.8,517.5 902,518.9 904.3,520.2 906.5,521.5 908.8,522.7 911.2,523.7 913.6,524.7 916.1,525.4 918.7,525.9 921.3,526.1 923.9,526.2 926.5,526.4 929.1,526.5 931.7,526.6 934.3,526.7 936.9,526.8 939.5,526.9 942.1,526.9 944.7,527 947.3,527 949.9,527 952.5,527 955.1,526.8 957.7,526.6 960.2,526.3 962.8,525.9 965.4,525.5 967.9,525 970.5,524.5 973.1,524 975.6,523.5 978.2,523 980.7,522.5 983.3,522 985.8,521.5 988.4,521.1 991,520.8 993.6,520.5 996.2,520.3 998.8,520.2 1001.4,520.2 1004,520.2 1006.6,520.2 1009.2,520.3 1011.8,520.3 1014.4,520.4 1017,520.4 1019.6,520.5 1022.2,520.6 1024.8,520.6 1027.4,520.7 1030,520.8 1032.6,520.9 1035.2,521 1037.8,521.1 1040.4,521.2 1043,521.3 1045.6,521.4 1048.2,521.5 1050.8,521.6 1053.4,521.7 1056,521.8 1058.6,521.9 1061.2,522 1063.8,522.1 1066.4,522.2 1069,522.3 1071.6,522.4 1074.2,522.6 1076.7,522.7 1079.3,522.8 1081.9,523 1084.5,523.2 1087.1,523.5 1089.7,523.8 1092.3,524.1 1094.9,524.5 1097.4,524.9 1100,525.3 1102.6,525.7 1105.1,526.1 1107.7,526.5 1110.3,526.9 1112.8,527.3 1115.4,527.7 1118,528.1 1120.6,528.4 1123.2,528.8 1125.7,529 1128.3,529.3 1130.9,529.5 1133.5,529.6 1136.1,529.7 1138.7,529.7 1141.3,529.8 1143.9,529.9 1146.5,529.9 1149.1,530 1151.7,530 1154.3,530.1 1156.9,530.1 1159.5,530.1 1162.1,530.2 1164.7,530.2 1167.3,530.2 1169.9,530.3 1172.5,530.3 1175.1,530.3 1177.7,530.4 1180.3,530.4 1182.9,530.4 1185.5,530.5 1188.1,530.5 1190.7,530.6 1193.3,530.7 1195.9,530.7 1198.5,530.8 1201.1,530.9 1203.7,531 1206.3,531.3 1208.9,531.5 1211.5,531.9 1214.1,532.3 1216.6,532.7 1219.2,533.2 1221.8,533.7 1224.3,534.2 1226.8,534.7 1229.4,535.3 1231.9,535.8 1234.5,536.3 1237,536.8 1239.6,537.3 1242.1,537.8 1244.7,538.2 1247.3,538.7 1249.8,539.1 1252.4,539.5 1255,539.9 1257.6,540.3 1260.1,540.7 1262.7,541.2 1265.2,541.6 1267.8,542.1 1270.3,542.7 1272.9,543.2 1275.4,543.9 1277.9,544.5 1280.4,545.3 1282.9,546.2 1285.2,547.2 1287.5,548.4 1289.8,549.7 1292,551.2 1294.1,552.7 1296.1,554.3 1298.1,556 1300,557.7 1301.9,559.6 1303.6,561.5 1305.6,564 1307.9,567.1 1310.4,570.9 1313,575.5 1315.5,580.9 1317.9,587 1320.2,593.6 1322.2,600.3 1324.1,607 1325.7,613.8 1327,620.7 1328,627.6 1328.9,634.6 1329.6,641.5 1330.2,648.5 1330.8,655.5"/><polyline class="m r" points="1331.6,682.3 1332.7,706.4 1333.5,736.6 1334.3,761.8 1334.9,789.4 1335.4,810 1336.2,835 1336.7,854.5 1337.5,875.1"/><polyline class="m b" points="419,440 419.3,433 419.7,426 420,419.1 420.3,412.1 420.6,405.1 421.3,398.1 423.4,392.4 425.8,391.5 428.4,391.1 431,390.9 433.5,390.7 436.1,390.6 438.7,390.5 441.3,390.5 443.9,390.5 446.5,390.5 449.1,390.5 451.7,390.5 454.3,390.5 456.9,390.5 459.5,390.5 462.1,390.5 464.7,390.5 467.3,390.5 469.9,390.5 472.5,390.5 475.1,390.5 477.7,390.5 480.3,390.5 482.9,390.5 485.5,390.5 488.1,390.5 490.7,390.5 493.3,390.6 495.9,390.6 498.5,390.6 501.1,390.6 503.7,390.6 506.2,390.6 508.8,390.6 511.4,390.6 514,390.6 516.6,390.6 519.2,390.6 521.8,390.6 524.4,390.6 527,390.6 529.6,390.6 532.2,390.6 534.8,390.6 537.4,390.7 540,390.7 542.6,390.7 545.2,390.7 547.8,390.7 550.4,390.7 553,390.7 555.6,390.7 558.2,390.7 560.8,390.7 563.4,390.7 566,390.7 568.6,390.7 571.2,390.7 573.8,390.8 576.4,390.8 579,390.8 581.5,390.8 584.1,390.8 586.7,390.8 589.3,390.8 591.9,390.8 594.5,390.8 597.1,390.8 599.7,390.8 602.3,390.8 604.9,390.8 607.5,390.8 610.1,390.9 612.7,390.9 615.3,390.9 617.9,390.9 620.5,390.9 623.1,390.9 625.7,390.9 628.3,390.9 630.9,390.9 633.5,390.9 636.1,390.9 638.7,390.9 641.3,390.9 643.9,390.9 646.5,390.9 649.1,390.9 651.7,390.9 654.3,391 656.8,391 659.4,391 662,391 664.6,391 667.2,391 669.8,391 672.4,391 675,391 677.6,391 680.2,391 682.8,391 685.4,391 688,391 690.6,391 693.2,391 695.8,391 698.4,391 701,391 703.6,391 706.2,391 708.8,391 711.4,391 714,391 716.6,391 719.2,391 721.8,390.9 724.4,390.9 727,390.9 729.6,390.8 732.1,390.8 734.7,390.8 737.3,390.7 739.9,390.7 742.5,390.6 745.1,390.6 747.7,390.5 750.3,390.5 752.9,390.4 755.5,390.3 758.1,390.3 760.7,390.2 763.3,390.1 765.9,390.1 768.5,390 771.1,389.9 773.7,389.8 776.3,389.7 778.9,389.7 781.5,389.6 784.1,389.5 786.7,389.4 789.3,389.3 791.8,389.2 794.4,389.1 797,389 799.6,388.9 802.2,388.8 804.8,388.7 807.4,388.5 810,388.4 812.6,388.3 815.2,388.2 817.8,388.1 820.4,388 823,387.8 825.6,387.7 828.2,387.6 830.8,387.5 833.3,387.4 835.9,387.2 838.5,387.1 841.1,387 843.7,386.8 846.3,386.7 848.9,386.6 851.5,386.4 854.1,386.3 856.7,386.2 859.3,386 861.9,385.9 864.5,385.7 867.1,385.6 869.6,385.4 872.2,385.2 874.8,385 877.4,384.8 880,384.6 882.6,384.3 885.2,384.1 887.8,383.8 890.3,383.6 892.9,383.3 895.5,383 898.1,382.7 900.7,382.4 903.2,382.2 905.8,381.9 908.4,381.6 911,381.3 913.6,381 916.1,380.6 918.7,380.3 921.3,380 923.9,379.7 926.5,379.4 929,379.1 931.6,378.8 934.2,378.5 936.8,378.2 939.3,377.9 941.9,377.6 944.5,377.2 947.1,376.9 949.6,376.6 952.2,376.2 954.8,375.9 957.4,375.6 959.9,375.2 962.5,374.9 965.1,374.5 967.7,374.1 970.2,373.8 972.8,373.4 975.4,373 977.9,372.6 980.5,372.2 983.1,371.8 985.6,371.4 988.2,371 990.8,370.6 993.3,370.2 995.9,369.7 998.4,369.3 1001,368.8 1003.5,368.4 1006.1,367.9 1008.7,367.4 1011.2,366.9 1013.8,366.4 1016.3,365.9 1018.8,365.4 1021.4,364.9 1023.9,364.3 1026.5,363.8 1029,363.3 1031.5,362.7 1034.1,362.1 1036.6,361.5 1039.1,361 1041.7,360.4 1044.2,359.8 1046.7,359.2 1049.2,358.5 1051.8,357.9 1054.3,357.3 1056.8,356.6 1059.3,356 1061.8,355.3 1064.3,354.7 1066.8,354 1069.3,353.3 1071.8,352.6 1074.3,351.9 1076.8,351.2 1079.3,350.5 1081.8,349.8 1084.3,349 1086.8,348.3 1089.3,347.5 1091.8,346.8 1094.2,346 1096.7,345.2 1099.2,344.4 1101.6,343.5 1104.1,342.7 1106.5,341.8 1109,340.9 1111.4,340 1113.9,339.1 1116.3,338.2 1118.7,337.2 1121.1,336.2 1123.5,335.2 1125.9,334.2 1128.2,333.1 1130.6,332 1132.9,330.8 1135.2,329.6 1137.4,328.3 1139.6,327 1141.9,325.6 1144.1,324.2 1146.2,322.8 1148.4,321.4 1150.6,320 1152.8,318.6 1155,317.2 1157.1,315.8 1159.3,314.4 1161.5,313 1163.8,311.7 1166,310.4 1168.3,309.1 1170.6,307.8 1172.8,306.6 1175.1,305.3 1177.4,304.1 1179.7,302.9 1182,301.6 1184.3,300.4 1186.5,299.2 1188.8,298 1191.1,296.8 1193.4,295.6 1195.7,294.4 1198,293.2 1200.3,291.9 1202.6,290.7 1204.9,289.5 1207.2,288.3 1209.5,287.1 1211.8,285.9 1214.1,284.7 1216.5,283.6 1218.8,282.4 1221.1,281.2 1223.4,280.1 1225.7,278.9 1228.1,277.7 1230.4,276.6 1232.7,275.4 1235,274.2 1237.3,273 1239.6,271.8 1241.9,270.6 1244.2,269.4 1246.5,268.1 1248.7,266.9 1251,265.6 1253.3,264.3 1255.5,263 1257.7,261.7 1260,260.3 1262.2,259 1264.4,257.6 1266.5,256.2 1268.7,254.8 1270.9,253.3 1273,251.9 1275.2,250.4 1277.3,249 1279.5,247.5 1281.6,246 1283.8,244.5 1285.9,243.1 1288.1,241.7 1290.3,240.3 1292.4,238.8 1294.6,237.3 1296.7,235.8 1298.7,234.3 1300.8,232.6 1302.7,230.9 1304.6,229.1 1306.3,227.2 1308.2,225 1310.4,222.2 1312.7,218.8 1315.3,214.6 1317.8,209.6 1320.2,203.5 1322.2,196.8 1323.9,190 1325.5,183.2 1327.1,176.4 1328.5,169.5 1329.8,162.7 1330.8,155.8 1331.8,148.8 1332.8,141.9 1333.5,135 1334.2,128"/><polyline class="m b" points="419,325 419.1,332 419.3,339 419.5,346 419.8,353 420,360 420.3,367 420.6,374 420.9,381 421.3,388 421.7,395 422.1,402 422.6,409 423,416 423.5,423 424.1,430 424.7,437 425.4,443.9 426.1,450.9 426.9,457.9 427.9,464.8 429.4,471.6 431.7,477.8 434,481.2 436.2,482.6 438.7,483.4 441.2,483.9 443.8,484.3 446.4,484.5 449,484.6 451.6,484.7 454.2,484.8 456.8,484.9 459.4,485 462,485.1 464.6,485.2 467.2,485.3 469.8,485.3 472.4,485.4 475,485.5 477.6,485.5 480.2,485.6 482.8,485.6 485.4,485.7 488,485.7 490.6,485.8 493.2,485.8 495.8,485.8 498.4,485.9 501,485.9 503.6,485.9 506.2,486 508.8,486 511.4,486 514,486.1 516.6,486.1 519.2,486.1 521.8,486.1 524.4,486.2 527,486.2 529.6,486.2 532.2,486.2 534.8,486.3 537.4,486.3 540.1,486.3 542.7,486.3 545.3,486.4 547.9,486.4 550.5,486.4 553.1,486.4 555.7,486.5 558.3,486.5 560.9,486.6 563.5,486.6 566.1,486.6 568.7,486.7 571.3,486.7 573.9,486.8 576.5,486.8 579.1,486.9 581.7,487 584.3,487 586.9,487.1 589.5,487.2 592.1,487.3 594.7,487.3 597.3,487.4 599.9,487.5 602.5,487.6 605.1,487.7 607.7,487.8 610.3,487.8 612.9,487.9 615.5,488 618.1,488.1 620.7,488.2 623.3,488.3 625.9,488.4 628.5,488.6 631.1,488.7 633.7,488.8 636.3,488.9 638.9,489 641.5,489.1 644.1,489.2 646.7,489.4 649.3,489.5 651.9,489.6 654.5,489.7 657.1,489.9 659.7,490 662.3,490.1 664.9,490.2 667.5,490.4 670.1,490.5 672.7,490.6 675.3,490.8 677.9,490.9 680.5,491.1 683.1,491.2 685.7,491.3 688.3,491.5 690.9,491.6 693.5,491.8 696.1,491.9 698.7,492.1 701.3,492.2 703.9,492.4 706.5,492.5 709.1,492.7 711.7,492.8 714.3,493 716.9,493.2 719.5,493.4 722.1,493.5 724.7,493.7 727.3,493.9 729.9,494.1 732.5,494.3 735.1,494.5 737.7,494.7 740.3,494.9 742.9,495.1 745.4,495.3 748,495.6 750.6,495.8 753.2,496 755.8,496.2 758.4,496.4 761,496.7 763.6,496.9 766.2,497.1 768.8,497.4 771.4,497.6 774,497.8 776.6,498.1 779.2,498.3 781.7,498.5 784.3,498.8 786.9,499 789.5,499.2 792.1,499.5 794.7,499.7 797.3,499.9 799.9,500.2 802.5,500.4 805.1,500.6 807.7,500.9 810.3,501.1 812.9,501.3 815.4,501.6 818,501.8 820.6,502.1 823.2,502.3 825.8,502.6 828.4,502.8 831,503.1 833.6,503.3 836.2,503.6 838.8,503.8 841.4,504.1 843.9,504.4 846.5,504.6 849.1,504.9 851.7,505.2 854.3,505.5 856.9,505.8 859.5,506.1 862.1,506.3 864.6,506.6 867.2,506.9 869.8,507.2 872.4,507.6 875,507.9 877.6,508.2 880.1,508.5 882.7,508.8 885.3,509.2 887.9,509.5 890.5,509.8 893.1,510.2 895.6,510.5 898.2,510.9 900.8,511.2 903.4,511.6 905.9,511.9 908.5,512.3 911.1,512.7 913.7,513.1 916.3,513.4 918.8,513.8 921.4,514.2 924,514.6 926.5,515 929.1,515.4 931.7,515.8 934.3,516.3 936.8,516.7 939.4,517.1 941.9,517.6 944.5,518 947.1,518.5 949.6,519 952.2,519.5 954.7,519.9 957.3,520.5 959.8,521 962.4,521.5 964.9,522.1 967.5,522.6 970,523.2 972.6,523.8 975.1,524.4 977.6,525 980.1,525.7 982.7,526.3 985.2,527 987.7,527.6 990.2,528.3 992.7,528.9 995.2,529.6 997.8,530.3 1000.3,531 1002.8,531.7 1005.3,532.3 1007.8,533 1010.3,533.7 1012.8,534.4 1015.3,535.1 1017.8,535.8 1020.3,536.6 1022.8,537.3 1025.3,538 1027.8,538.8 1030.3,539.5 1032.8,540.3 1035.3,541 1037.8,541.8 1040.3,542.6 1042.7,543.4 1045.2,544.2 1047.7,545 1050.2,545.8 1052.6,546.7 1055.1,547.5 1057.5,548.4 1060,549.3 1062.4,550.3 1064.8,551.2 1067.2,552.2 1069.6,553.2 1072,554.2 1074.4,555.2 1076.8,556.2 1079.2,557.2 1081.6,558.2 1084,559.2 1086.4,560.2 1088.9,561.1 1091.3,562.1 1093.7,563 1096.2,563.8 1098.7,564.7 1101.1,565.5 1103.6,566.3 1106.1,567 1108.6,567.8 1111.1,568.5 1113.6,569.3 1116.1,570 1118.6,570.8 1121.1,571.6 1123.5,572.4 1126,573.2 1128.4,574.1 1130.9,575.1 1133.3,576.1 1135.6,577.1 1138,578.2 1140.3,579.4 1142.6,580.6 1144.9,581.9 1147.1,583.3 1149.3,584.7 1151.4,586.2 1153.5,587.8 1155.4,589.5 1157.3,591.3 1159.1,593.1 1160.9,595.1 1162.7,597.1 1164.6,599.4 1166.6,602 1168.7,604.6 1170.8,607.2 1172.9,609.8 1174.8,612.2 1176.8,614.5 1178.7,616.8 1180.7,619.2 1182.6,621.6 1184.6,624.1 1186.7,626.6 1188.8,629.3 1190.9,632 1193.1,634.9 1195.3,637.9 1197.7,641.2 1200.1,644.7 1202.5,648.4 1205,652.4 1207.6,656.6 1210.2,661 1212.7,665.5 1215.3,670.2 1217.9,675.1 1220.5,680.1 1223.1,685.3 1225.7,690.8 1228.2,696.6 1230.7,702.4 1233.2,708 1235.8,713.1 1238.4,718 1241,722.8 1243.5,727.3 1246.1,731.4 1248.5,735 1250.8,738.1 1252.8,740.6 1254.5,742.5 1256.4,744.4 1258.4,746 1260.6,747.5 1262.7,748.9 1264.9,750.3 1267.1,751.7 1269.3,753.1 1271.4,754.6 1273.5,756.3 1275.4,758 1277.2,760 1279.2,762.7 1281.6,766 1284.1,770 1286.7,774.6 1289.2,779.9 1291.7,785.7 1294,792.1 1296,798.8"/><polyline class="m b" points="1299.5,814.9 1302.7,833.6 1305.4,851 1308,865.7 1309.4,876.5"/><polyline class="m t" points="419,445 419.1,438 419.4,431 419.8,424 420.2,417 420.6,410 421.4,403.1 423.3,396.8 425.4,394.3 427.9,393.5 430.4,393.1 433,392.8 435.6,392.6 438.2,392.5 440.8,392.5 443.4,392.5 446,392.5 448.6,392.5 451.2,392.5 453.8,392.5 456.4,392.5 459,392.5 461.6,392.6 464.2,392.6 466.8,392.6 469.4,392.6 472,392.6 474.6,392.6 477.2,392.7 479.8,392.7 482.4,392.7 485,392.7 487.7,392.8 490.3,392.8 492.9,392.8 495.5,392.8 498.1,392.9 500.7,392.9 503.3,392.9 505.9,392.9 508.5,393 511.1,393 513.7,393 516.3,393.1 518.9,393.1 521.5,393.1 524.1,393.1 526.7,393.2 529.3,393.2 531.9,393.2 534.5,393.2 537.1,393.3 539.7,393.3 542.3,393.3 544.9,393.3 547.5,393.3 550.1,393.4 552.7,393.4 555.3,393.4 557.9,393.4 560.5,393.4 563.1,393.4 565.7,393.5 568.3,393.5 570.9,393.5 573.5,393.5 576.1,393.5 578.7,393.5 581.3,393.5 583.9,393.5 586.5,393.5 589.1,393.5 591.7,393.5 594.3,393.5 596.9,393.5 599.5,393.5 602.1,393.5 604.7,393.5 607.3,393.5 609.9,393.5 612.5,393.5 615.1,393.5 617.7,393.5 620.3,393.5 622.9,393.5 625.5,393.5 628.1,393.5 630.7,393.5 633.3,393.5 635.9,393.5 638.5,393.5 641.1,393.4 643.7,393.4 646.3,393.4 648.9,393.4 651.5,393.4 654.1,393.4 656.8,393.4 659.4,393.4 662,393.4 664.6,393.4 667.2,393.4 669.8,393.4 672.4,393.4 675,393.4 677.6,393.4 680.2,393.4 682.8,393.3 685.4,393.3 688,393.3 690.6,393.3 693.2,393.3 695.8,393.3 698.4,393.3 701,393.3 703.6,393.3 706.2,393.3 708.8,393.2 711.4,393.2 714,393.2 716.6,393.2 719.2,393.2 721.8,393.2 724.4,393.2 727,393.2 729.6,393.2 732.2,393.1 734.8,393.1 737.4,393.1 740,393.1 742.6,393.1 745.2,393.1 747.8,393.1 750.4,393 753,393 755.6,393 758.2,393 760.8,393 763.4,392.9 766,392.8 768.6,392.8 771.2,392.7 773.8,392.6 776.4,392.4 779,392.3 781.6,392.2 784.2,392 786.8,391.8 789.4,391.6 792,391.5 794.6,391.3 797.2,391.1 799.8,390.8 802.4,390.6 805,390.4 807.5,390.1 810.1,389.9 812.7,389.7 815.3,389.4 817.9,389.2 820.5,388.9 823.1,388.6 825.7,388.4 828.3,388.1 830.8,387.8 833.4,387.6 836,387.3 838.6,387.1 841.2,386.8 843.8,386.5 846.4,386.3 849,386 851.6,385.8 854.1,385.5 856.7,385.3 859.3,385.1 861.9,384.8 864.5,384.6 867.1,384.4 869.7,384.1 872.3,383.9 874.9,383.7 877.5,383.4 880.1,383.2 882.6,382.9 885.2,382.7 887.8,382.4 890.4,382.2 893,381.9 895.6,381.7 898.2,381.4 900.8,381.1 903.4,380.9 905.9,380.6 908.5,380.3 911.1,380.1 913.7,379.8 916.3,379.5 918.9,379.2 921.5,378.9 924.1,378.7 926.6,378.4 929.2,378.1 931.8,377.8 934.4,377.5 937,377.2 939.6,376.9 942.1,376.6 944.7,376.3 947.3,376 949.9,375.8 952.5,375.5 955.1,375.2 957.7,374.8 960.2,374.5 962.8,374.2 965.4,373.9 968,373.6 970.6,373.3 973.1,372.9 975.7,372.6 978.3,372.2 980.9,371.9 983.5,371.5 986,371.2 988.6,370.8 991.2,370.4 993.8,370 996.3,369.6 998.9,369.2 1001.5,368.8 1004,368.3 1006.6,367.9 1009.1,367.4 1011.7,366.9 1014.3,366.4 1016.8,365.9 1019.4,365.4 1021.9,364.9 1024.5,364.3 1027,363.8 1029.5,363.2 1032.1,362.6 1034.6,362 1037.1,361.4 1039.6,360.8 1042.2,360.1 1044.7,359.5 1047.2,358.8 1049.7,358.1 1052.2,357.4 1054.7,356.6 1057.2,355.8 1059.6,355 1062.1,354.1 1064.5,353.2 1067,352.3 1069.4,351.4 1071.8,350.4 1074.2,349.4 1076.6,348.4 1079,347.4 1081.4,346.4 1083.8,345.3 1086.2,344.3 1088.5,343.2 1090.9,342.2 1093.3,341.1 1095.7,340 1098,339 1100.4,337.9 1102.8,336.8 1105.1,335.8 1107.5,334.6 1109.8,333.5 1112.2,332.3 1114.5,331.1 1116.8,329.9 1119.1,328.7 1121.4,327.5 1123.7,326.3 1126,325 1128.3,323.8 1130.6,322.6 1132.9,321.4 1135.2,320.2 1137.5,319 1139.8,317.8 1142.1,316.6 1144.5,315.5 1146.8,314.4 1149.2,313.3 1151.6,312.3 1154,311.3 1156.4,310.3 1158.8,309.4 1161.3,308.5 1163.7,307.7 1166.2,306.8 1168.7,306 1171.1,305.2 1173.6,304.4 1176.1,303.7 1178.6,302.9 1181.1,302.1 1183.5,301.3 1186,300.5 1188.5,299.7 1191,298.9 1193.4,298 1195.9,297.1 1198.3,296.2 1200.7,295.3 1203.1,294.3 1205.5,293.2 1207.9,292.2 1210.3,291.1 1212.6,290 1214.9,288.8 1217.3,287.7 1219.6,286.5 1221.9,285.3 1224.2,284 1226.5,282.8 1228.7,281.5 1231,280.3 1233.3,279 1235.5,277.7 1237.8,276.3 1240,275 1242.2,273.7 1244.4,272.3 1246.7,271 1248.9,269.6 1251.1,268.2 1253.3,266.9 1255.5,265.5 1257.7,264.1 1259.9,262.7 1262.1,261.3 1264.3,260 1266.5,258.5 1268.7,257.1 1270.8,255.6 1272.9,254.1 1275,252.6 1277.1,251 1279.1,249.3 1281,247.6 1283,245.9 1284.9,244.1 1286.7,242.3 1288.5,240.4 1290.3,238.5 1292.1,236.5 1294,234.1 1296.3,231.1 1298.8,227.1 1301.4,222.1 1303.9,216.3 1306,209.7"/><polyline class="m t" points="1309,198 1312,186 1315,174 1318,162 1321,150 1324,139 1326.5,128"/><polyline class="m t" points="418.5,318 418.6,325 418.7,332 418.8,339 418.9,346 419.1,352.9 419.3,359.9 419.5,366.9 419.8,373.9 420.1,380.9 420.4,387.9 420.7,394.9 421.1,401.8 421.5,408.8 422,415.8 422.5,422.8 423,429.7 423.7,436.7 424.4,443.7 425.1,450.6 426,457.5 427.2,464.4 428.9,471.2 431.2,477.4 433.4,480.5 435.6,481.8 438.1,482.7 440.6,483.3 443.2,483.7 445.7,484 448.3,484.1 450.9,484.3 453.5,484.4 456.1,484.5 458.7,484.6 461.3,484.7 463.9,484.8 466.5,484.9 469.1,485 471.7,485.1 474.3,485.1 476.9,485.2 479.5,485.3 482.1,485.3 484.7,485.4 487.3,485.5 489.9,485.5 492.5,485.6 495.1,485.6 497.7,485.7 500.2,485.7 502.8,485.7 505.4,485.8 508,485.8 510.6,485.9 513.2,485.9 515.8,485.9 518.4,486 521,486 523.6,486 526.2,486 528.8,486.1 531.4,486.1 534,486.1 536.6,486.2 539.2,486.2 541.8,486.2 544.4,486.3 547,486.3 549.6,486.3 552.2,486.4 554.8,486.4 557.4,486.4 560,486.5 562.6,486.5 565.2,486.6 567.8,486.6 570.4,486.7 572.9,486.7 575.5,486.8 578.1,486.9 580.7,486.9 583.3,487 585.9,487.1 588.5,487.2 591.1,487.2 593.7,487.3 596.3,487.4 598.9,487.5 601.5,487.6 604.1,487.6 606.7,487.7 609.3,487.8 611.9,487.9 614.5,488 617.1,488.1 619.7,488.2 622.3,488.3 624.9,488.4 627.4,488.5 630,488.6 632.6,488.7 635.2,488.8 637.8,488.9 640.4,489 643,489.1 645.6,489.2 648.2,489.3 650.8,489.4 653.4,489.5 656,489.6 658.6,489.7 661.2,489.8 663.8,490 666.4,490.1 669,490.2 671.6,490.3 674.1,490.4 676.7,490.5 679.3,490.7 681.9,490.8 684.5,490.9 687.1,491 689.7,491.2 692.3,491.3 694.9,491.4 697.5,491.6 700.1,491.7 702.7,491.8 705.3,492 707.9,492.1 710.5,492.2 713,492.4 715.6,492.5 718.2,492.7 720.8,492.8 723.4,493 726,493.2 728.6,493.3 731.2,493.5 733.8,493.7 736.4,493.9 739,494 741.6,494.2 744.1,494.4 746.7,494.6 749.3,494.8 751.9,495 754.5,495.2 757.1,495.3 759.7,495.5 762.3,495.7 764.9,495.9 767.4,496.1 770,496.3 772.6,496.5 775.2,496.7 777.8,496.9 780.4,497.1 783,497.3 785.6,497.5 788.2,497.7 790.7,497.9 793.3,498.1 795.9,498.3 798.5,498.5 801.1,498.7 803.7,498.9 806.3,499.1 808.9,499.3 811.5,499.6 814,499.8 816.6,500 819.2,500.2 821.8,500.4 824.4,500.6 827,500.8 829.6,501 832.2,501.2 834.7,501.5 837.3,501.7 839.9,501.9 842.5,502.1 845.1,502.4 847.7,502.6 850.3,502.8 852.9,503 855.4,503.3 858,503.5 860.6,503.7 863.2,504 865.8,504.2 868.4,504.4 871,504.7 873.5,504.9 876.1,505.1 878.7,505.4 881.3,505.6 883.9,505.8 886.5,506.1 889.1,506.3 891.7,506.5 894.2,506.8 896.8,507 899.4,507.2 902,507.5 904.6,507.7 907.2,508 909.7,508.2 912.3,508.5 914.9,508.7 917.5,509 920.1,509.3 922.7,509.6 925.2,509.8 927.8,510.1 930.4,510.4 933,510.7 935.6,511 938.1,511.3 940.7,511.6 943.3,512 945.9,512.3 948.4,512.7 951,513 953.6,513.4 956.2,513.8 958.7,514.2 961.3,514.6 963.8,515 966.4,515.5 968.9,516 971.5,516.5 974,517 976.6,517.5 979.1,518 981.7,518.5 984.2,519.1 986.8,519.6 989.3,520.2 991.8,520.7 994.4,521.3 996.9,521.8 999.4,522.4 1002,522.9 1004.5,523.5 1007,524 1009.6,524.6 1012.1,525.2 1014.6,525.8 1017.2,526.3 1019.7,526.9 1022.2,527.5 1024.8,528.1 1027.3,528.7 1029.8,529.4 1032.3,530 1034.8,530.6 1037.4,531.3 1039.9,532 1042.4,532.7 1044.9,533.4 1047.4,534.1 1049.8,534.8 1052.3,535.6 1054.8,536.4 1057.3,537.2 1059.7,538 1062.2,538.9 1064.6,539.7 1067.1,540.6 1069.5,541.5 1071.9,542.5 1074.3,543.5 1076.7,544.4 1079.1,545.4 1081.5,546.5 1083.9,547.5 1086.2,548.6 1088.6,549.7 1090.9,550.9 1093.2,552 1095.6,553.2 1097.9,554.4 1100.1,555.7 1102.4,556.9 1104.6,558.2 1106.9,559.6 1109.1,560.9 1111.3,562.3 1113.5,563.7 1115.6,565.1 1117.8,566.6 1119.9,568.1 1122,569.6 1124.1,571.2 1126.2,572.7 1128.2,574.3 1130.2,576 1132.2,577.6 1134.2,579.3 1136.2,581 1138,582.8 1139.9,584.6 1141.7,586.5 1143.5,588.4 1145.2,590.3 1146.9,592.3 1148.7,594.4 1150.6,596.6 1152.5,598.9 1154.4,601.2 1156.4,603.5 1158.2,605.7 1160.1,607.9 1161.8,609.9 1163.6,612 1165.4,614.1 1167.3,616.2 1169.1,618.4 1171,620.6 1172.9,622.9 1174.8,625.2 1176.7,627.5 1178.7,629.8 1180.6,632.2 1182.6,634.7 1184.6,637.1 1186.6,639.6 1188.7,642.2 1190.8,644.9 1192.9,647.6 1195.1,650.5 1197.3,653.4 1199.5,656.3 1201.7,659.2 1203.9,662.2 1206.1,665.1 1208.3,667.9 1210.4,670.7 1212.5,673.4 1214.6,676 1216.6,678.4 1218.5,680.8 1220.4,683 1222.3,685.2 1224.1,687.4 1225.9,689.5 1227.8,691.6 1229.6,693.7 1231.4,695.9 1233.3,698.1 1235.2,700.4 1237.1,702.7 1239.2,705.2 1241.3,707.9 1243.4,710.6 1245.4,713.2 1247.5,715.8 1249.6,718.4 1251.7,721.2 1253.9,724.1 1256.2,727.3 1258.6,730.8 1261.1,734.8 1263.7,739.4 1266.3,744.5 1268.8,749.9 1271.3,755.9 1273.5,762.4 1275.5,769.1 1277.2,775.8 1278.6,782.7"/><polyline class="m t" points="1282.6,805.5 1286.6,826.9 1288.8,851 1291.5,875.1"/><polyline class="m p" points="418,440 418,433 418,426 418,419 418,412 418,405 418,398 418.3,391.1 418.7,384.1 419.2,377.1 419.6,370.1 421.5,366.7 423.9,365.8 426.4,365.2 429,364.8 431.6,364.6 434.2,364.5 436.8,364.5 439.4,364.6 442,364.7 444.6,364.8 447.2,364.9 449.7,365.1 452.3,365.3 454.9,365.5 457.5,365.8 460.1,366.1 462.7,366.3 465.3,366.7 467.8,367 470.4,367.3 473,367.7 475.6,368 478.1,368.4 480.7,368.7 483.3,369.1 485.8,369.5 488.4,369.9 491,370.3 493.5,370.7 496.1,371 498.7,371.4 501.2,371.8 503.8,372.1 506.4,372.5 509,372.8 511.5,373.1 514.1,373.4 516.7,373.7 519.3,374 521.9,374.3 524.5,374.5 527,374.7 529.6,374.9 532.2,375.1 534.8,375.3 537.4,375.4 540,375.6 542.6,375.8 545.2,376 547.8,376.1 550.4,376.3 553,376.4 555.6,376.6 558.1,376.7 560.7,376.9 563.3,377 565.9,377.2 568.5,377.3 571.1,377.4 573.7,377.6 576.3,377.7 578.9,377.9 581.5,378 584.1,378.1 586.7,378.3 589.3,378.4 591.9,378.5 594.4,378.7 597,378.8 599.6,379 602.2,379.1 604.8,379.3 607.4,379.4 610,379.6 612.6,379.7 615.2,379.9 617.8,380 620.4,380.2 623,380.3 625.6,380.5 628.2,380.6 630.7,380.8 633.3,380.9 635.9,381 638.5,381.2 641.1,381.3 643.7,381.5 646.3,381.6 648.9,381.7 651.5,381.8 654.1,382 656.7,382.1 659.3,382.2 661.9,382.3 664.5,382.4 667.1,382.5 669.7,382.6 672.2,382.7 674.8,382.9 677.4,383 680,383.1 682.6,383.2 685.2,383.3 687.8,383.4 690.4,383.5 693,383.5 695.6,383.6 698.2,383.7 700.8,383.8 703.4,383.9 706,384 708.6,384.1 711.2,384.2 713.8,384.3 716.4,384.4 719,384.5 721.6,384.6 724.2,384.7 726.7,384.8 729.3,384.9 731.9,385 734.5,385.1 737.1,385.2 739.7,385.2 742.3,385.3 744.9,385.4 747.5,385.4 750.1,385.5 752.7,385.5 755.3,385.5 757.9,385.5 760.5,385.5 763.1,385.5 765.7,385.5 768.3,385.5 770.9,385.4 773.5,385.4 776.1,385.4 778.7,385.4 781.3,385.3 783.9,385.3 786.5,385.3 789.1,385.2 791.7,385.2 794.3,385.2 796.8,385.1 799.4,385.1 802,385 804.6,385 807.2,384.9 809.8,384.9 812.4,384.8 815,384.7 817.6,384.7 820.2,384.6 822.8,384.5 825.4,384.5 828,384.4 830.6,384.3 833.2,384.3 835.8,384.2 838.4,384.1 841,384.1 843.6,384 846.2,383.9 848.8,383.8 851.4,383.8 854,383.7 856.6,383.6 859.2,383.5 861.8,383.4 864.3,383.4 866.9,383.3 869.5,383.2 872.1,383.1 874.7,383 877.3,382.9 879.9,382.8 882.5,382.7 885.1,382.5 887.7,382.4 890.3,382.3 892.9,382.1 895.5,382 898.1,381.8 900.7,381.7 903.3,381.5 905.8,381.3 908.4,381.1 911,380.9 913.6,380.7 916.2,380.4 918.8,380.1 921.4,379.8 923.9,379.5 926.5,379.1 929.1,378.7 931.6,378.3 934.2,377.9 936.8,377.5 939.3,377 941.9,376.5 944.4,376.1 947,375.6 949.5,375.1 952.1,374.6 954.6,374.1 957.2,373.6 959.7,373.1 962.3,372.5 964.8,372 967.3,371.4 969.8,370.8 972.4,370.2 974.9,369.6 977.4,368.9 979.9,368.3 982.4,367.6 984.9,366.9 987.4,366.2 989.9,365.5 992.4,364.8 994.9,364.2 997.5,363.5 1000,362.8 1002.5,362.2 1005,361.5 1007.5,360.9 1010,360.2 1012.5,359.6 1015.1,359 1017.6,358.4 1020.1,357.7 1022.6,357.1 1025.1,356.4 1027.7,355.8 1030.2,355.1 1032.7,354.4 1035.2,353.7 1037.7,353 1040.2,352.3 1042.6,351.5 1045.1,350.7 1047.6,349.9 1050,349.1 1052.5,348.2 1054.9,347.2 1057.3,346.3 1059.7,345.3 1062.1,344.3 1064.5,343.2 1066.8,342.2 1069.2,341 1071.5,339.9 1073.8,338.7 1076.1,337.5 1078.4,336.3 1080.7,335 1082.9,333.7 1085.1,332.3 1087.3,330.9 1089.5,329.5 1091.6,328 1093.7,326.4 1095.7,324.8 1097.6,323.1 1099.6,321.3 1101.4,319.5 1103.3,317.7 1105.1,315.9 1107,314 1108.8,312.2 1110.6,310.3 1112.4,308.4 1114.2,306.6 1116,304.7 1117.8,302.8 1119.6,300.6 1121.6,298.2 1123.6,295.8 1125.6,293.3 1127.4,291.2 1129.1,289.3 1131,287.4 1132.9,285.7 1134.9,284.1 1137.1,282.6 1139.3,281.2 1141.5,280 1143.9,278.8 1146.2,277.7 1148.6,276.6 1151,275.6 1153.4,274.6 1155.8,273.7 1158.2,272.7 1160.6,271.8 1163,270.8 1165.4,269.8 1167.8,268.8 1170.2,267.7 1172.5,266.6 1174.9,265.4 1177.1,264.2 1179.3,262.8 1181.5,261.4 1183.6,259.9 1185.7,258.4 1187.8,256.8 1189.8,255.1 1191.8,253.5 1193.8,251.8 1195.7,250.1 1197.7,248.4 1199.6,246.7 1201.6,245 1203.6,243.3 1205.5,241.6 1207.5,239.9 1209.6,238.3 1211.6,236.7 1213.6,235 1215.6,233.4 1217.6,231.7 1219.6,230 1221.5,228.3 1223.4,226.5 1225.3,224.7 1227.1,222.8 1228.8,220.8 1230.8,218.3 1233.1,215.3 1235.5,211.7 1238,207.5 1240.6,202.8 1243.2,197.6 1245.7,191.8 1248.1,185.6 1250.4,179.2 1252.6,172.6 1254.6,166 1256.6,159.3 1258.8,152.7 1261.1,146.3 1263.4,139.9 1265.7,133.4 1267.9,126.8"/><polyline class="m p" points="417.5,347 417.7,354 417.9,361 418.1,368 418.3,375 418.6,382 418.8,389 419,396 419.3,403 419.5,410 419.8,417 420.2,424 420.7,430.9 421.2,437.9 421.9,444.9 422.6,451.9 423.5,458.8 424.5,465.7 426,472.6 428.2,478.9 430.6,483 432.6,484.8 435,485.7 437.5,486.4 440.1,486.9 442.6,487.2 445.2,487.5 447.8,487.6 450.4,487.7 453,487.8 455.6,487.9 458.2,488.1 460.8,488.2 463.4,488.2 466,488.3 468.6,488.4 471.2,488.5 473.8,488.6 476.4,488.6 479,488.7 481.6,488.8 484.2,488.8 486.8,488.9 489.4,488.9 492,489 494.6,489 497.2,489.1 499.8,489.1 502.4,489.2 505,489.2 507.6,489.2 510.2,489.3 512.8,489.3 515.4,489.4 518,489.4 520.6,489.4 523.2,489.4 525.8,489.5 528.4,489.5 531,489.5 533.6,489.6 536.2,489.6 538.8,489.6 541.4,489.7 544,489.7 546.6,489.7 549.2,489.8 551.8,489.8 554.4,489.9 557,489.9 559.6,489.9 562.2,490 564.8,490 567.4,490.1 570,490.2 572.6,490.2 575.2,490.3 577.8,490.4 580.4,490.4 583,490.5 585.6,490.6 588.2,490.7 590.8,490.7 593.4,490.8 596,490.9 598.6,491 601.2,491.1 603.8,491.2 606.4,491.3 609,491.4 611.6,491.5 614.2,491.6 616.8,491.7 619.4,491.8 622,491.9 624.6,492 627.2,492.2 629.8,492.3 632.4,492.4 635,492.5 637.6,492.6 640.2,492.8 642.8,492.9 645.4,493 648,493.1 650.6,493.3 653.2,493.4 655.8,493.5 658.3,493.7 660.9,493.8 663.5,494 666.1,494.1 668.7,494.2 671.3,494.4 673.9,494.5 676.5,494.7 679.1,494.8 681.7,495 684.3,495.1 686.9,495.3 689.5,495.5 692.1,495.6 694.7,495.8 697.3,495.9 699.9,496.1 702.5,496.3 705.1,496.4 707.7,496.6 710.3,496.8 712.9,497 715.5,497.2 718,497.4 720.6,497.6 723.2,497.8 725.8,498 728.4,498.2 731,498.4 733.6,498.7 736.2,498.9 738.8,499.1 741.4,499.4 743.9,499.6 746.5,499.9 749.1,500.1 751.7,500.4 754.3,500.6 756.9,500.9 759.5,501.1 762.1,501.4 764.7,501.7 767.2,501.9 769.8,502.2 772.4,502.5 775,502.7 777.6,503 780.2,503.2 782.8,503.5 785.3,503.8 787.9,504 790.5,504.3 793.1,504.5 795.7,504.8 798.3,505 800.9,505.3 803.5,505.5 806.1,505.8 808.6,506 811.2,506.3 813.8,506.5 816.4,506.8 819,507 821.6,507.3 824.2,507.6 826.8,507.8 829.3,508.1 831.9,508.3 834.5,508.6 837.1,508.8 839.7,509.1 842.3,509.3 844.9,509.6 847.5,509.9 850,510.1 852.6,510.4 855.2,510.6 857.8,510.9 860.4,511.1 863,511.4 865.6,511.6 868.2,511.8 870.8,512.1 873.3,512.3 875.9,512.5 878.5,512.7 881.1,512.9 883.7,513.1 886.3,513.3 888.9,513.5 891.5,513.7 894.1,513.9 896.7,514.1 899.3,514.3 901.9,514.5 904.5,514.7 907,515 909.6,515.2 912.2,515.4 914.8,515.6 917.4,515.9 920,516.1 922.6,516.4 925.2,516.6 927.8,516.9 930.3,517.2 932.9,517.5 935.5,517.8 938.1,518.1 940.7,518.5 943.2,518.8 945.8,519.2 948.4,519.6 951,520 953.5,520.4 956.1,521 958.6,521.6 961.1,522.2 963.6,522.9 966.1,523.7 968.6,524.5 971,525.3 973.5,526.1 975.9,527 978.4,528 980.8,528.9 983.2,529.8 985.6,530.8 988.1,531.7 990.5,532.7 992.9,533.6 995.3,534.6 997.8,535.5 1000.2,536.4 1002.7,537.3 1005.1,538.2 1007.5,539.1 1010,539.9 1012.4,540.8 1014.9,541.8 1017.3,542.7 1019.7,543.6 1022.2,544.5 1024.6,545.4 1027,546.4 1029.4,547.3 1031.8,548.3 1034.2,549.3 1036.6,550.3 1039,551.3 1041.4,552.4 1043.8,553.4 1046.2,554.5 1048.5,555.6 1050.9,556.7 1053.2,557.8 1055.5,559 1057.9,560.1 1060.2,561.3 1062.5,562.6 1064.8,563.8 1067,565 1069.3,566.3 1071.6,567.6 1073.8,568.9 1076,570.3 1078.2,571.7 1080.4,573.1 1082.6,574.5 1084.8,575.9 1086.9,577.4 1089,578.9 1091.1,580.5 1093.2,582 1095.2,583.6 1097.2,585.3 1099.2,587 1101.1,588.7 1103.1,590.5 1104.9,592.3 1106.8,594.1 1108.6,596 1110.4,597.9 1112.1,599.8 1113.9,601.7 1115.6,603.7 1117.4,605.8 1119.4,608.1 1121.4,610.6 1123.5,613.3 1125.7,616.1 1127.9,619.2 1130.2,622.4 1132.6,625.7 1134.9,629.1 1137.4,632.7 1139.8,636.3 1142.3,640 1144.7,643.8 1147.2,647.5 1149.6,651.3 1152.1,654.9 1154.5,658.6 1156.9,662.1 1159.3,665.5 1161.6,668.8 1164,672.2 1166.4,675.6 1168.7,679 1171.1,682.4 1173.5,685.8 1175.8,689.1 1178.2,692.4 1180.5,695.6 1182.8,698.7 1185,701.7 1187.2,704.6 1189.2,707.2 1191.1,709.4 1192.9,711.4 1194.6,713.3 1196.4,715.2 1198.2,717.1 1199.9,719 1201.7,721 1203.5,722.9 1205.2,724.8 1207,727 1209,729.4 1211.3,732.4 1213.7,736.2 1216.3,740.9 1218.9,746.3 1221.3,752.2 1223.7,758.4 1226,764.8 1228.4,771.1 1230.6,777.6 1232.9,784.2 1235,790.8 1237.1,797.5 1239.2,804.2 1241.3,810.9 1243.3,817.6 1245.3,824.3 1247.3,831 1249.3,837.7 1251.2,844.4 1253.2,851.1 1255.4,857.7 1257.7,864.2 1260.1,870.4 1262.5,876.5"/><polyline class="m o" points="417.2,432 417.7,425 418.1,418 418.5,411.1 419.1,404.1 420,397.2 421.9,391.3 423.9,389.5 426.4,388.8 428.9,388.5 431.5,388.4 434.1,388.3 436.7,388.3 439.3,388.3 441.9,388.3 444.5,388.3 447.1,388.4 449.7,388.4 452.3,388.4 454.9,388.4 457.5,388.5 460.1,388.5 462.7,388.5 465.3,388.5 467.9,388.6 470.5,388.6 473.1,388.6 475.7,388.6 478.3,388.7 480.9,388.7 483.5,388.7 486.1,388.7 488.7,388.8 491.3,388.8 493.9,388.8 496.5,388.8 499.1,388.9 501.6,388.9 504.2,388.9 506.8,389 509.4,389 512,389 514.6,389 517.2,389.1 519.8,389.1 522.4,389.1 525,389.1 527.6,389.2 530.2,389.2 532.8,389.2 535.4,389.2 538,389.3 540.6,389.3 543.2,389.3 545.8,389.3 548.4,389.4 551,389.4 553.6,389.4 556.2,389.4 558.8,389.4 561.4,389.4 564,389.5 566.6,389.5 569.2,389.5 571.8,389.5 574.4,389.5 577,389.5 579.6,389.5 582.2,389.5 584.7,389.5 587.3,389.5 589.9,389.5 592.5,389.5 595.1,389.4 597.7,389.4 600.3,389.4 602.9,389.4 605.5,389.3 608.1,389.3 610.7,389.2 613.3,389.2 615.9,389.1 618.5,389.1 621.1,389 623.7,389 626.3,388.9 628.9,388.8 631.5,388.7 634.1,388.7 636.7,388.6 639.3,388.5 641.9,388.4 644.5,388.3 647.1,388.3 649.7,388.2 652.3,388.1 654.8,388 657.4,387.9 660,387.8 662.6,387.7 665.2,387.6 667.8,387.5 670.4,387.4 673,387.3 675.6,387.2 678.2,387.1 680.8,387 683.4,386.9 686,386.8 688.6,386.7 691.2,386.6 693.8,386.5 696.4,386.4 699,386.3 701.6,386.2 704.2,386.1 706.7,386 709.3,385.9 711.9,385.8 714.5,385.7 717.1,385.5 719.7,385.4 722.3,385.3 724.9,385.2 727.5,385 730.1,384.9 732.7,384.8 735.3,384.7 737.9,384.5 740.5,384.4 743.1,384.2 745.7,384.1 748.2,383.9 750.8,383.8 753.4,383.6 756,383.5 758.6,383.3 761.2,383.2 763.8,383 766.4,382.8 769,382.7 771.6,382.5 774.2,382.3 776.8,382.2 779.4,382 781.9,381.8 784.5,381.6 787.1,381.5 789.7,381.3 792.3,381.1 794.9,380.9 797.5,380.7 800.1,380.6 802.7,380.4 805.3,380.2 807.8,380 810.4,379.8 813,379.6 815.6,379.5 818.2,379.3 820.8,379.1 823.4,378.9 826,378.7 828.6,378.5 831.2,378.3 833.7,378.1 836.3,377.9 838.9,377.7 841.5,377.5 844.1,377.3 846.7,377.1 849.3,376.9 851.9,376.7 854.5,376.5 857,376.3 859.6,376 862.2,375.8 864.8,375.6 867.4,375.3 870,375.1 872.6,374.9 875.2,374.6 877.7,374.4 880.3,374.1 882.9,373.8 885.5,373.6 888.1,373.3 890.7,373 893.2,372.7 895.8,372.4 898.4,372.1 901,371.8 903.5,371.5 906.1,371.2 908.7,370.9 911.3,370.5 913.8,370.2 916.4,369.8 919,369.4 921.5,369 924.1,368.5 926.7,368 929.2,367.6 931.8,367.1 934.3,366.6 936.8,366 939.4,365.5 941.9,365 944.5,364.4 947,363.9 949.5,363.3 952.1,362.7 954.6,362.2 957.2,361.6 959.7,361.1 962.2,360.5 964.8,359.9 967.3,359.4 969.8,358.8 972.3,358.2 974.9,357.6 977.4,356.9 979.9,356.3 982.4,355.7 984.9,355 987.5,354.4 990,353.7 992.5,353.1 995,352.4 997.5,351.7 1000,351 1002.5,350.3 1005,349.6 1007.5,348.9 1010,348.2 1012.5,347.5 1015,346.8 1017.5,346 1020,345.3 1022.5,344.5 1024.9,343.8 1027.4,343 1029.9,342.2 1032.4,341.4 1034.8,340.6 1037.3,339.8 1039.7,338.9 1042.2,338 1044.6,337.2 1047.1,336.2 1049.5,335.3 1051.9,334.3 1054.3,333.3 1056.7,332.3 1059,331.2 1061.4,330.1 1063.7,329 1066,327.8 1068.3,326.6 1070.6,325.3 1072.9,324.1 1075.1,322.8 1077.4,321.5 1079.6,320.1 1081.7,318.7 1083.9,317.2 1086,315.7 1088.1,314.1 1090.1,312.5 1092.2,311 1094.3,309.4 1096.4,307.9 1098.5,306.4 1100.6,304.9 1102.8,303.5 1105,302.1 1107.2,300.7 1109.4,299.4 1111.7,298.1 1113.9,296.8 1116.2,295.5 1118.4,294.2 1120.7,292.9 1122.9,291.6 1125.1,290.3 1127.4,288.9 1129.6,287.6 1131.8,286.3 1134.1,285 1136.3,283.6 1138.6,282.3 1140.8,281 1143,279.7 1145.3,278.3 1147.5,277 1149.7,275.6 1151.9,274.2 1154,272.8 1156.2,271.4 1158.4,270 1160.5,268.5 1162.7,267 1164.8,265.6 1166.9,264.1 1169.1,262.6 1171.2,261.1 1173.3,259.5 1175.4,258 1177.5,256.5 1179.5,254.9 1181.6,253.4 1183.7,251.8 1185.8,250.3 1187.9,248.7 1190,247.1 1192,245.6 1194,243.9 1196.1,242.3 1198.1,240.6 1200,238.9 1201.9,237.2 1203.8,235.4 1205.6,233.5 1207.4,231.6 1209.1,229.7 1211,227.5 1213,225 1215.2,222.2 1217.4,219.1 1219.7,215.9 1222.1,212.4 1224.6,208.6 1227.2,204.2 1229.8,199.2 1232.2,193.3 1234.6,187 1236.8,180.4 1238.8,173.7 1240.6,167 1242.4,160.2 1244.3,153.5 1246.2,146.7 1248.2,140 1250.3,133.4 1252.5,126.8"/><polyline class="m o" points="422,315 422.2,322 422.4,329 422.6,336 422.8,343 423,350 423.2,357 423.3,364 423.4,371 423.5,378 423.6,385 423.8,392 424,399 424.2,406 424.5,413 424.8,420 425.1,427 425.6,434 426.1,441 426.7,448 427.4,454.9 428.4,461.9 429.7,468.7 431.6,475.5 434.1,480.8 436.1,483.1 438.4,484.4 440.8,485.4 443.3,486.1 445.8,486.7 448.4,487.1 451,487.5 453.5,487.8 456.1,488 458.7,488.2 461.3,488.3 463.9,488.4 466.5,488.4 469.1,488.5 471.7,488.6 474.3,488.6 476.9,488.7 479.5,488.7 482.1,488.8 484.7,488.8 487.3,488.8 489.9,488.9 492.5,488.9 495.1,488.9 497.7,489 500.3,489 502.9,489 505.5,489 508.1,489.1 510.7,489.1 513.3,489.1 515.9,489.1 518.5,489.1 521.1,489.2 523.7,489.2 526.3,489.2 528.9,489.2 531.5,489.2 534.1,489.2 536.7,489.3 539.3,489.3 542,489.3 544.6,489.3 547.2,489.3 549.8,489.4 552.4,489.4 555,489.4 557.6,489.4 560.2,489.5 562.8,489.5 565.4,489.5 568,489.5 570.6,489.6 573.2,489.6 575.8,489.7 578.4,489.7 581,489.7 583.6,489.8 586.2,489.9 588.8,489.9 591.4,490 594,490 596.6,490.1 599.2,490.2 601.8,490.3 604.4,490.3 607,490.4 609.6,490.5 612.2,490.6 614.8,490.7 617.4,490.8 620,490.9 622.6,491 625.2,491.2 627.8,491.3 630.4,491.4 633,491.5 635.6,491.6 638.2,491.8 640.8,491.9 643.4,492 646,492.2 648.5,492.3 651.1,492.5 653.7,492.6 656.3,492.7 658.9,492.9 661.5,493.1 664.1,493.2 666.7,493.4 669.3,493.5 671.9,493.7 674.5,493.8 677.1,494 679.7,494.2 682.3,494.3 684.9,494.5 687.5,494.7 690.1,494.8 692.7,495 695.3,495.2 697.9,495.4 700.5,495.5 703.1,495.7 705.7,495.9 708.3,496.1 710.9,496.2 713.5,496.4 716,496.6 718.6,496.8 721.2,497.1 723.8,497.3 726.4,497.5 729,497.7 731.6,498 734.2,498.2 736.8,498.5 739.4,498.7 742,499 744.5,499.2 747.1,499.5 749.7,499.7 752.3,500 754.9,500.3 757.5,500.6 760.1,500.8 762.6,501.1 765.2,501.4 767.8,501.7 770.4,502 773,502.3 775.6,502.6 778.2,502.9 780.7,503.1 783.3,503.4 785.9,503.7 788.5,504 791.1,504.3 793.7,504.6 796.3,504.9 798.8,505.2 801.4,505.5 804,505.8 806.6,506.1 809.2,506.4 811.8,506.7 814.3,507 816.9,507.3 819.5,507.6 822.1,508 824.7,508.3 827.2,508.6 829.8,508.9 832.4,509.3 835,509.6 837.6,509.9 840.1,510.3 842.7,510.6 845.3,511 847.9,511.3 850.5,511.6 853,512 855.6,512.3 858.2,512.7 860.8,513 863.4,513.4 865.9,513.7 868.5,514.1 871.1,514.4 873.7,514.8 876.2,515.1 878.8,515.4 881.4,515.8 884,516.1 886.6,516.5 889.1,516.8 891.7,517.2 894.3,517.6 896.9,517.9 899.4,518.3 902,518.7 904.6,519.1 907.1,519.5 909.7,520 912.3,520.4 914.8,520.9 917.4,521.3 919.9,521.8 922.5,522.3 925,522.8 927.6,523.4 930.1,524 932.7,524.6 935.2,525.2 937.7,525.9 940.2,526.5 942.7,527.2 945.2,527.9 947.7,528.6 950.2,529.3 952.7,530.1 955.2,530.8 957.7,531.5 960.2,532.3 962.7,533.1 965.2,533.8 967.7,534.6 970.1,535.4 972.6,536.2 975.1,537 977.6,537.7 980.1,538.5 982.5,539.3 985,540.1 987.5,540.8 990,541.6 992.5,542.4 995,543.2 997.4,543.9 999.9,544.7 1002.4,545.5 1004.9,546.4 1007.3,547.2 1009.8,548 1012.2,548.9 1014.7,549.8 1017.1,550.7 1019.5,551.7 1022,552.6 1024.4,553.6 1026.8,554.6 1029.1,555.7 1031.5,556.8 1033.8,557.9 1036.2,559.1 1038.5,560.2 1040.8,561.4 1043.1,562.7 1045.4,564 1047.6,565.2 1049.9,566.6 1052.1,567.9 1054.3,569.3 1056.5,570.7 1058.6,572.1 1060.8,573.6 1062.9,575.1 1065.1,576.6 1067.2,578.1 1069.2,579.7 1071.2,581.4 1073.2,583.1 1075.1,584.9 1076.9,586.7 1078.8,588.5 1080.6,590.3 1082.4,592.2 1084.3,594.1 1086.1,595.9 1087.9,597.7 1089.8,599.6 1091.7,601.3 1093.6,603.1 1095.6,604.8 1097.6,606.4 1099.6,608.1 1101.6,609.7 1103.6,611.4 1105.7,613 1107.7,614.6 1109.8,616.2 1111.8,617.8 1113.9,619.4 1115.9,621 1117.9,622.7 1120,624.3 1122,625.9 1124,627.5 1126.1,629.1 1128.1,630.7 1130.2,632.3 1132.2,633.9 1134.3,635.6 1136.3,637.2 1138.4,638.8 1140.4,640.4 1142.4,642 1144.4,643.7 1146.4,645.4 1148.4,647 1150.4,648.7 1152.4,650.3 1154.4,652 1156.5,653.6 1158.5,655.3 1160.5,657 1162.4,658.6 1164.4,660.4 1166.3,662.1 1168.2,663.9 1170,665.7 1171.8,667.6 1173.6,669.6 1175.5,672 1177.7,674.7 1179.9,677.8 1182.3,681.2 1184.8,685.1 1187.4,689.3 1189.9,693.9 1192.5,699 1195.1,704.4 1197.6,710.3 1200,716.4 1202.3,722.8 1204.5,729.3 1206.8,735.9 1208.9,742.5 1211,749.2 1212.9,756 1214.9,762.7 1217,769.4 1219.2,776 1221.4,782.6 1223.6,789.2 1225.9,795.8 1228,802.4 1230,809.1 1232,815.8 1234,822.6 1236,829.3 1238.1,836 1240.2,842.6 1242.2,849.4 1244.1,856.1 1245.9,862.9 1247.5,869.7 1249.1,876.5"/>
<polyline class="m k" points="1890.8,680 1897.5,550 1899,524"/><polyline class="m k" points="1900,500 1900.2,493 1900.4,486 1900.6,479 1900.9,472 1901.2,465 1901.6,458 1902.1,451.1 1902.6,444.1 1903.3,437.1 1904.1,430.2 1905.3,423.3 1907.1,416.5 1909.6,411.1 1911.7,408.3 1913.7,406.7 1916,405.5 1918.4,404.4 1920.8,403.6 1923.4,403.1 1926,403 1928.6,403 1931.2,403 1933.8,403.1 1936.4,403.1 1939,403.2 1941.6,403.2 1944.2,403.3 1946.8,403.4 1949.4,403.5 1952,403.5 1954.6,403.7 1957.2,403.8 1959.7,403.9 1962.3,404 1964.9,404.1 1967.5,404.2 1970.1,404.4 1972.7,404.5 1975.3,404.7 1977.9,404.8 1980.5,405 1983.1,405.1 1985.7,405.3 1988.3,405.4 1990.9,405.6 1993.5,405.7 1996.1,405.9 1998.7,406.1 2001.3,406.2 2003.9,406.4 2006.5,406.5 2009.1,406.7 2011.6,406.9 2014.2,407 2016.8,407.2 2019.4,407.3 2022,407.5 2024.6,407.6 2027.2,407.8 2029.8,407.9 2032.4,408.1 2035,408.2 2037.6,408.3 2040.2,408.5 2042.8,408.6 2045.4,408.7 2048,408.8 2050.6,408.9 2053.2,409 2055.8,409.1 2058.4,409.2 2061,409.3 2063.6,409.3 2066.2,409.4 2068.8,409.4 2071.4,409.5 2074,409.5 2076.6,409.5 2079.2,409.6 2081.8,409.6 2084.4,409.6 2087,409.6 2089.6,409.7 2092.2,409.7 2094.8,409.7 2097.4,409.7 2100,409.7 2102.6,409.8 2105.2,409.8 2107.8,409.8 2110.4,409.8 2113,409.9 2115.6,409.9 2118.1,409.9 2120.7,409.9 2123.3,409.9 2125.9,410 2128.5,410 2131.1,410 2133.7,410 2136.3,410 2138.9,410.1 2141.5,410.1 2144.1,410.1 2146.7,410.1 2149.3,410.1 2151.9,410.2 2154.5,410.2 2157.1,410.2 2159.7,410.2 2162.3,410.2 2164.9,410.2 2167.5,410.3 2170.1,410.3 2172.7,410.3 2175.3,410.3 2177.9,410.3 2180.5,410.3 2183.1,410.3 2185.7,410.3 2188.3,410.4 2190.9,410.4 2193.5,410.4 2196.1,410.4 2198.7,410.4 2201.3,410.4 2203.9,410.4 2206.5,410.4 2209.1,410.4 2211.7,410.4 2214.3,410.4 2216.9,410.5 2219.5,410.5 2222.1,410.5 2224.7,410.5 2227.3,410.5 2229.9,410.5 2232.5,410.5 2235.1,410.5 2237.7,410.5 2240.3,410.5 2242.9,410.5 2245.5,410.5 2248.1,410.5 2250.7,410.5 2253.3,410.5 2255.9,410.5 2258.5,410.5 2261.1,410.5 2263.7,410.5 2266.3,410.5 2268.9,410.5 2271.5,410.5 2274.1,410.5 2276.7,410.5 2279.3,410.5 2281.9,410.4 2284.5,410.4 2287.1,410.4 2289.7,410.4 2292.3,410.4 2294.9,410.4 2297.5,410.4 2300.1,410.4 2302.7,410.3 2305.3,410.3 2307.9,410.3 2310.5,410.3 2313.1,410.3 2315.7,410.3 2318.3,410.2 2320.9,410.2 2323.5,410.2 2326.1,410.2 2328.7,410.2 2331.3,410.1 2333.9,410.1 2336.5,410.1 2339.1,410.1 2341.7,410.1 2344.3,410 2346.9,410 2349.5,410 2352.1,410 2354.7,409.9 2357.3,409.9 2359.9,409.9 2362.5,409.8 2365.1,409.8 2367.7,409.8 2370.3,409.8 2372.9,409.7 2375.5,409.7 2378.1,409.7 2380.7,409.6 2383.3,409.6 2385.9,409.6 2388.5,409.6 2391.1,409.5 2393.7,409.5 2396.3,409.5 2398.9,409.4 2401.5,409.4 2404.1,409.4 2406.7,409.3 2409.3,409.3 2411.9,409.3 2414.5,409.2 2417.1,409.2 2419.7,409.2 2422.3,409.1 2424.9,409.1 2427.4,409.1 2430,409 2432.6,409 2435.2,409 2437.8,408.9 2440.4,408.9 2443,408.9 2445.6,408.8 2448.2,408.8 2450.8,408.8 2453.4,408.7 2456,408.7 2458.6,408.7 2461.2,408.6 2463.8,408.6 2466.4,408.5 2469,408.5 2471.6,408.5 2474.2,408.4 2476.8,408.4 2479.4,408.4 2482,408.3 2484.6,408.3 2487.2,408.3 2489.8,408.2 2492.4,408.2 2495,408.1 2497.6,408.1 2500.2,408.1 2502.8,408 2505.4,408 2508,407.9 2510.6,407.9 2513.2,407.9 2515.8,407.8 2518.4,407.8 2521,407.7 2523.6,407.7 2526.2,407.6 2528.8,407.6 2531.4,407.5 2534,407.5 2536.6,407.5 2539.2,407.4 2541.8,407.4 2544.4,407.3 2547,407.3 2549.6,407.2 2552.2,407.2 2554.8,407.1 2557.4,407.1 2560,407 2562.6,406.9 2565.2,406.9 2567.8,406.8 2570.4,406.8 2573,406.7 2575.6,406.7 2578.2,406.6 2580.8,406.6 2583.4,406.5 2586,406.4 2588.6,406.4 2591.2,406.3 2593.8,406.3 2596.4,406.2 2599,406.1 2601.6,406.1 2604.2,406 2606.8,405.9 2609.4,405.9 2612,405.8 2614.6,405.8 2617.2,405.7 2619.8,405.6 2622.4,405.5 2625,405.5 2627.6,405.4 2630.2,405.3 2632.8,405.3 2635.4,405.2 2637.9,405.1 2640.5,405.1 2643.1,405 2645.7,404.9 2648.3,404.8 2650.9,404.8 2653.5,404.7 2656.1,404.6 2658.7,404.5 2661.3,404.5 2663.9,404.4 2666.5,404.3 2669.1,404.2 2671.7,404.1 2674.3,404 2676.9,404 2679.5,403.9 2682.1,403.8 2684.7,403.7 2687.3,403.6 2689.9,403.5 2692.5,403.5 2695.1,403.4 2697.7,403.3 2700.3,403.2 2702.9,403.1 2705.5,403 2708.1,402.9 2710.7,402.8 2713.3,402.7 2715.9,402.6 2718.5,402.5 2721.1,402.4 2723.7,402.3 2726.3,402.3 2728.9,402.2 2731.5,402 2734.1,401.9 2736.7,401.8 2739.3,401.7 2741.9,401.6 2744.5,401.5 2747,401.3 2749.6,401.2 2752.2,401 2754.8,400.9 2757.4,400.8 2760,400.6 2762.6,400.5 2765.2,400.3 2767.8,400.1 2770.4,400 2773,399.8 2775.6,399.7 2778.2,399.5 2780.8,399.3 2783.4,399.1 2786,399 2788.6,398.8 2791.2,398.6 2793.7,398.4 2796.3,398.2 2798.9,398 2801.5,397.9 2804.1,397.7 2806.7,397.5 2809.3,397.3 2811.9,397.1 2814.5,396.9 2817.1,396.7 2819.7,396.5 2822.3,396.3 2824.8,396.1 2827.4,395.9 2830,395.7 2832.6,395.5 2835.2,395.3 2837.8,395 2840.4,394.8 2843,394.6 2845.6,394.4 2848.2,394.2 2850.8,393.9 2853.3,393.7 2855.9,393.5 2858.5,393.2 2861.1,392.9 2863.7,392.6 2866.3,392.3 2868.8,392 2871.4,391.7 2874,391.4 2876.6,391 2879.1,390.6 2881.7,390.2 2884.3,389.8 2886.8,389.3 2889.4,388.8 2891.9,388.2 2894.4,387.7 2897,387 2899.5,386.3 2902,385.6 2904.4,384.8 2906.9,383.9 2909.3,383 2911.7,381.9 2914,380.7 2916.2,379.3 2918.4,377.9 2920.4,376.3 2922.5,374.7 2924.4,373 2926.3,371.2 2928,369.3 2930,366.9 2932.4,363.5 2934.9,359.1 2937.5,353.9 2940,348 2942.2,341.5 2944.2,334.8 2945.9,328 2947.4,321.2 2948.8,314.3 2950.2,307.5 2951.6,300.6 2953,293.8 2954.4,286.9 2955.7,280 2957,273.2 2958.4,266.3 2959.8,259.4 2961.2,252.6 2962.6,245.7 2964,238.9 2965.4,232 2966.6,225.1 2967.9,218.2 2969,211.3 2970.2,204.4 2971.3,197.5 2972.4,190.6 2973.5,183.7 2974.7,176.8 2975.8,169.9 2976.5,162.9 2977,156 2977.5,149 2977.8,142 2978.1,135 2978.2,128"/><polyline class="m k" points="1889,170 1891.7,184 1893,198"/><polyline class="m k" points="1896.8,239 1897.3,246 1897.8,253 1898.5,259.9 1899.2,266.9 1899.9,273.8 1900.5,280.8 1901,287.8 1901.6,294.7 1902.2,301.7 1902.8,308.7 1903.5,315.6 1904.2,322.6 1905,329.6 1905.6,336.5 1906.3,343.5 1907,350.4 1907.7,357.4 1908.5,364.3 1909.4,371.3 1910.3,378.2 1911.3,385.1 1912.3,392.1 1913.4,399 1914.5,405.9 1915.7,412.8 1916.9,419.7 1918.2,426.5 1919.4,433.4 1920.8,440.3 1922.6,447 1924.8,453.5 1927.3,458.9 1929.8,462.7 1931.7,465 1933.7,466.8 1935.9,468 1938.5,468.6 1941,469.1 1943.6,469.4 1946.2,469.5 1948.8,469.5 1951.4,469.5 1954,469.5 1956.6,469.5 1959.2,469.5 1961.8,469.5 1964.4,469.5 1967,469.5 1969.6,469.5 1972.2,469.5 1974.8,469.5 1977.4,469.5 1980,469.5 1982.6,469.5 1985.2,469.5 1987.8,469.5 1990.4,469.5 1993,469.5 1995.5,469.5 1998.1,469.5 2000.7,469.5 2003.3,469.5 2005.9,469.5 2008.5,469.5 2011.1,469.5 2013.7,469.5 2016.3,469.5 2018.9,469.5 2021.5,469.5 2024.1,469.5 2026.7,469.5 2029.3,469.5 2031.9,469.5 2034.5,469.5 2037.1,469.5 2039.7,469.5 2042.3,469.5 2044.9,469.5 2047.5,469.5 2050.1,469.5 2052.7,469.5 2055.3,469.5 2057.9,469.5 2060.5,469.5 2063.1,469.5 2065.7,469.5 2068.3,469.5 2070.9,469.5 2073.5,469.5 2076.1,469.5 2078.7,469.5 2081.3,469.5 2083.9,469.5 2086.5,469.5 2089.1,469.5 2091.7,469.5 2094.3,469.5 2096.9,469.5 2099.5,469.5 2102.1,469.5 2104.7,469.5 2107.3,469.5 2109.9,469.5 2112.5,469.5 2115.1,469.5 2117.7,469.5 2120.3,469.5 2122.9,469.5 2125.4,469.5 2128,469.5 2130.6,469.5 2133.2,469.5 2135.8,469.5 2138.4,469.5 2141,469.5 2143.6,469.5 2146.2,469.5 2148.8,469.5 2151.4,469.6 2154,469.6 2156.6,469.6 2159.2,469.6 2161.8,469.6 2164.4,469.6 2167,469.6 2169.6,469.6 2172.2,469.7 2174.8,469.7 2177.4,469.7 2180,469.7 2182.6,469.7 2185.2,469.8 2187.8,469.8 2190.4,469.8 2193,469.8 2195.6,469.8 2198.2,469.9 2200.8,469.9 2203.4,469.9 2206,469.9 2208.6,470 2211.2,470 2213.8,470 2216.4,470.1 2219,470.1 2221.6,470.1 2224.2,470.1 2226.8,470.2 2229.4,470.2 2232,470.2 2234.6,470.3 2237.2,470.3 2239.8,470.3 2242.4,470.4 2245,470.4 2247.6,470.4 2250.1,470.5 2252.7,470.5 2255.3,470.5 2257.9,470.6 2260.5,470.6 2263.1,470.7 2265.7,470.7 2268.3,470.8 2270.9,470.9 2273.5,470.9 2276.1,471 2278.7,471.1 2281.3,471.2 2283.9,471.3 2286.5,471.4 2289.1,471.5 2291.7,471.6 2294.3,471.7 2296.9,471.8 2299.5,471.9 2302.1,472 2304.7,472.1 2307.3,472.2 2309.9,472.4 2312.5,472.5 2315.1,472.6 2317.7,472.7 2320.2,472.9 2322.8,473 2325.4,473.1 2328,473.3 2330.6,473.4 2333.2,473.5 2335.8,473.7 2338.4,473.8 2341,474 2343.6,474.1 2346.2,474.2 2348.8,474.4 2351.4,474.5 2354,474.7 2356.6,474.8 2359.2,474.9 2361.8,475.1 2364.4,475.2 2366.9,475.3 2369.5,475.5 2372.1,475.6 2374.7,475.7 2377.3,475.9 2379.9,476 2382.5,476.1 2385.1,476.3 2387.7,476.4 2390.3,476.5 2392.9,476.6 2395.5,476.8 2398.1,476.9 2400.7,477 2403.3,477.2 2405.9,477.3 2408.5,477.4 2411.1,477.6 2413.7,477.7 2416.2,477.8 2418.8,478 2421.4,478.1 2424,478.2 2426.6,478.4 2429.2,478.5 2431.8,478.7 2434.4,478.8 2437,479 2439.6,479.1 2442.2,479.3 2444.8,479.4 2447.4,479.6 2450,479.7 2452.6,479.9 2455.2,480 2457.7,480.2 2460.3,480.4 2462.9,480.5 2465.5,480.7 2468.1,480.9 2470.7,481 2473.3,481.2 2475.9,481.4 2478.5,481.6 2481.1,481.7 2483.7,481.9 2486.3,482 2488.9,482.2 2491.5,482.4 2494,482.5 2496.6,482.7 2499.2,482.9 2501.8,483.1 2504.4,483.2 2507,483.4 2509.6,483.6 2512.2,483.8 2514.8,484 2517.4,484.2 2520,484.5 2522.5,484.7 2525.1,484.9 2527.7,485.2 2530.3,485.5 2532.9,485.7 2535.5,486 2538,486.3 2540.6,486.6 2543.2,487 2545.8,487.3 2548.3,487.8 2550.9,488.3 2553.4,488.8 2556,489.4 2558.5,490 2561,490.6 2563.5,491.3 2566,492.1 2568.5,492.8 2571,493.5 2573.5,494.3 2575.9,495.1 2578.4,495.9 2580.9,496.7 2583.4,497.4 2585.8,498.2 2588.3,499 2590.8,499.8 2593.3,500.6 2595.7,501.4 2598.2,502.2 2600.7,503 2603.1,503.9 2605.6,504.8 2608,505.7 2610.4,506.6 2612.9,507.5 2615.3,508.4 2617.7,509.4 2620,510.5 2622.3,511.7 2624.6,513 2626.8,514.4 2629,515.7 2631.3,517.1 2633.5,518.3 2635.8,519.5 2638.2,520.6 2640.7,521.4 2643.2,522 2645.8,522.2 2648.4,522.2 2651,522.1 2653.6,522.1 2656.2,521.9 2658.8,521.8 2661.4,521.7 2664,521.5 2666.6,521.3 2669.1,521.1 2671.7,520.9 2674.3,520.8 2676.9,520.6 2679.5,520.4 2682.1,520.2 2684.7,520 2687.3,519.8 2689.9,519.7 2692.5,519.5 2695.1,519.4 2697.7,519.3 2700.3,519.2 2702.9,519.2 2705.5,519.2 2708.1,519.3 2710.7,519.4 2713.2,519.5 2715.8,519.8 2718.4,520 2721,520.3 2723.6,520.7 2726.1,521.1 2728.7,521.5 2731.3,522 2733.8,522.5 2736.3,523 2738.9,523.6 2741.4,524.1 2744,524.7 2746.5,525.3 2749,525.9 2751.5,526.6 2754.1,527.2 2756.6,527.8 2759.1,528.4 2761.6,529.1 2764.1,529.7 2766.7,530.3 2769.2,531 2771.7,531.7 2774.2,532.4 2776.6,533.2 2779.1,534 2781.6,534.9 2784,535.8 2786.4,536.8 2788.8,537.8 2791.1,538.9 2793.4,540.1 2795.7,541.4 2797.9,542.8 2800,544.3 2802,545.9 2804,547.6 2805.9,549.4 2807.7,551.2 2809.5,553.3 2811.8,556.3 2814.2,560.2 2816.8,565.1 2819.3,571 2821.3,577.6 2822.9,584.4 2824.1,591.3 2825,598.3 2825.5,605.2 2825.9,612.2 2826.3,619.2 2826.9,626.2 2827.9,633.1 2829,640"/><polyline class="m k" points="2831.5,656 2831.5,671.7 2831.5,687.4 2831.5,703.1 2831.5,718.8 2831.5,734.5 2831.5,750.2 2831.5,765.9 2831.5,781.6 2831.5,797.3 2831.5,813 2831.5,828.7 2831.5,844.4 2831.5,860.1 2831.5,875.8"/><polyline class="m r" points="1889,573 1890,551 1891.4,519.5 1892,504 1893,492 1894,478"/><polyline class="m r" points="1895,465 1895.6,458 1896.3,451.1 1897.1,444.1 1898,437.2 1899,430.2 1900.4,423.4 1902.4,416.8 1905,411.5 1907.1,408.8 1909,407.1 1911.2,405.6 1913.6,404.6 1916.1,404.1 1918.7,403.7 1921.3,403.6 1923.9,403.6 1926.5,403.6 1929.1,403.6 1931.7,403.7 1934.3,403.7 1936.9,403.8 1939.5,403.8 1942.1,403.9 1944.7,404 1947.3,404.1 1949.9,404.1 1952.5,404.2 1955.1,404.3 1957.7,404.5 1960.3,404.6 1962.9,404.7 1965.5,404.8 1968,404.9 1970.6,405.1 1973.2,405.2 1975.8,405.3 1978.4,405.5 1981,405.6 1983.6,405.8 1986.2,405.9 1988.8,406.1 1991.4,406.2 1994,406.4 1996.6,406.5 1999.2,406.7 2001.8,406.8 2004.4,407 2007,407.1 2009.6,407.3 2012.2,407.5 2014.8,407.6 2017.4,407.8 2020,407.9 2022.6,408.1 2025.2,408.2 2027.8,408.3 2030.4,408.5 2032.9,408.6 2035.5,408.7 2038.1,408.9 2040.7,409 2043.3,409.1 2045.9,409.2 2048.5,409.3 2051.1,409.4 2053.7,409.5 2056.3,409.6 2058.9,409.7 2061.5,409.8 2064.1,409.8 2066.7,409.9 2069.3,409.9 2071.9,410 2074.5,410 2077.1,410 2079.7,410.1 2082.3,410.1 2084.9,410.1 2087.5,410.2 2090.1,410.2 2092.7,410.2 2095.3,410.2 2097.9,410.3 2100.5,410.3 2103.1,410.3 2105.7,410.4 2108.3,410.4 2110.9,410.4 2113.5,410.4 2116.1,410.5 2118.7,410.5 2121.3,410.5 2123.9,410.5 2126.5,410.6 2129.1,410.6 2131.7,410.6 2134.3,410.6 2136.9,410.7 2139.5,410.7 2142.1,410.7 2144.7,410.7 2147.3,410.7 2149.9,410.8 2152.5,410.8 2155.1,410.8 2157.7,410.8 2160.3,410.8 2162.9,410.9 2165.5,410.9 2168.1,410.9 2170.7,410.9 2173.3,410.9 2175.9,410.9 2178.5,411 2181.1,411 2183.7,411 2186.3,411 2188.9,411 2191.5,411 2194.1,411 2196.7,411.1 2199.3,411.1 2201.9,411.1 2204.5,411.1 2207.1,411.1 2209.7,411.1 2212.3,411.1 2214.9,411.1 2217.5,411.1 2220.1,411.2 2222.7,411.2 2225.3,411.2 2227.9,411.2 2230.5,411.2 2233.1,411.2 2235.7,411.2 2238.3,411.2 2240.9,411.2 2243.5,411.2 2246.1,411.2 2248.7,411.2 2251.3,411.2 2253.9,411.2 2256.5,411.2 2259.1,411.2 2261.7,411.2 2264.3,411.2 2266.9,411.2 2269.5,411.2 2272.1,411.2 2274.7,411.2 2277.3,411.2 2279.9,411.2 2282.5,411.2 2285.1,411.2 2287.7,411.2 2290.3,411.2 2292.9,411.2 2295.5,411.1 2298.1,411.1 2300.7,411.1 2303.3,411.1 2305.9,411.1 2308.5,411.1 2311.1,411.1 2313.7,411.1 2316.3,411.1 2318.9,411.1 2321.5,411.1 2324.1,411.1 2326.7,411.1 2329.3,411 2331.9,411 2334.5,411 2337.1,411 2339.7,411 2342.3,411 2344.9,411 2347.5,411 2350.1,410.9 2352.7,410.9 2355.3,410.9 2357.9,410.9 2360.5,410.9 2363.1,410.9 2365.7,410.9 2368.3,410.8 2370.9,410.8 2373.5,410.8 2376.1,410.8 2378.7,410.8 2381.3,410.8 2383.9,410.7 2386.5,410.7 2389.1,410.7 2391.7,410.7 2394.3,410.7 2396.9,410.7 2399.5,410.6 2402.1,410.6 2404.7,410.6 2407.3,410.6 2409.9,410.6 2412.5,410.5 2415.1,410.5 2417.7,410.5 2420.3,410.5 2422.9,410.4 2425.5,410.4 2428.1,410.4 2430.7,410.4 2433.3,410.4 2435.9,410.3 2438.5,410.3 2441.1,410.3 2443.7,410.3 2446.3,410.2 2448.9,410.2 2451.5,410.2 2454.1,410.2 2456.7,410.1 2459.3,410.1 2461.9,410.1 2464.5,410.1 2467.1,410 2469.7,410 2472.3,410 2474.9,409.9 2477.5,409.9 2480.1,409.9 2482.7,409.8 2485.3,409.7 2487.9,409.7 2490.5,409.6 2493.1,409.6 2495.7,409.5 2498.3,409.4 2500.9,409.3 2503.5,409.2 2506.1,409.1 2508.7,409.1 2511.3,409 2513.9,408.9 2516.5,408.8 2519.1,408.7 2521.7,408.5 2524.3,408.4 2526.9,408.3 2529.5,408.2 2532.1,408.1 2534.7,408 2537.3,407.8 2539.9,407.7 2542.5,407.6 2545.1,407.5 2547.7,407.3 2550.3,407.2 2552.9,407.1 2555.5,406.9 2558.1,406.8 2560.7,406.7 2563.3,406.5 2565.9,406.4 2568.5,406.3 2571.1,406.1 2573.7,406 2576.3,405.9 2578.9,405.7 2581.5,405.6 2584,405.5 2586.6,405.3 2589.2,405.2 2591.8,405.1 2594.4,405 2597,404.8 2599.6,404.7 2602.2,404.6 2604.8,404.4 2607.4,404.3 2610,404.2 2612.6,404.1 2615.2,403.9 2617.8,403.8 2620.4,403.6 2623,403.5 2625.6,403.4 2628.2,403.2 2630.8,403.1 2633.4,403 2636,402.8 2638.6,402.7 2641.2,402.5 2643.8,402.4 2646.4,402.2 2649,402.1 2651.6,401.9 2654.2,401.8 2656.8,401.6 2659.3,401.5 2661.9,401.3 2664.5,401.2 2667.1,401 2669.7,400.8 2672.3,400.7 2674.9,400.5 2677.5,400.4 2680.1,400.2 2682.7,400 2685.3,399.9 2687.9,399.7 2690.5,399.5 2693.1,399.4 2695.7,399.2 2698.3,399 2700.9,398.9 2703.5,398.7 2706.1,398.5 2708.6,398.3 2711.2,398.2 2713.8,398 2716.4,397.8 2719,397.6 2721.6,397.4 2724.2,397.3 2726.8,397.1 2729.4,396.9 2732,396.7 2734.6,396.5 2737.2,396.4 2739.8,396.2 2742.4,396 2745,395.8 2747.6,395.6 2750.2,395.5 2752.7,395.3 2755.3,395.1 2757.9,394.9 2760.5,394.7 2763.1,394.5 2765.7,394.3 2768.3,394.1 2770.9,393.9 2773.5,393.7 2776.1,393.5 2778.7,393.2 2781.3,393 2783.8,392.7 2786.4,392.5 2789,392.2 2791.6,391.9 2794.2,391.7 2796.8,391.4 2799.4,391.1 2801.9,390.8 2804.5,390.4 2807.1,390.1 2809.7,389.7 2812.2,389.3 2814.8,388.8 2817.4,388.4 2819.9,387.9 2822.5,387.4 2825,386.8 2827.5,386.3 2830.1,385.7 2832.6,385.1 2835.1,384.5 2837.6,383.8 2840.2,383.2 2842.7,382.5 2845.2,381.7 2847.6,380.9 2850.1,380.1 2852.6,379.2 2855,378.3 2857.4,377.3 2859.7,376.2 2862,375 2864.3,373.7 2866.5,372.3 2868.5,370.7 2870.4,368.9 2872.3,367.1 2874,365.1 2876.1,362.5 2878.5,359.1 2881,354.3 2883.4,348.3 2885.5,341.6 2887.2,334.8 2888.7,328 2890.1,321.1 2891.2,314.2 2892.3,307.3 2893.3,300.3 2894.4,293.4 2895.5,286.5 2896.6,279.6 2897.7,272.7 2898.9,265.8 2900,258.9 2901.2,252 2902.3,245.1 2903.5,238.2 2904.7,231.3 2905.9,224.4 2907,217.5 2908.2,210.6 2909.3,203.7 2910.5,196.8 2911.6,189.8 2912.8,182.9 2914,176 2915.3,169.2 2916.7,162.3 2918.1,155.5 2919.5,148.6 2920.9,141.7 2922.2,134.9 2923.6,128"/><polyline class="m r" points="1889,236.5 1890.4,253 1891.7,268 1893,282"/><polyline class="m r" points="1895,300 1895.6,307 1896.3,313.9 1897,320.9 1897.8,327.8 1898.6,334.8 1899.5,341.7 1900.4,348.7 1901.4,355.6 1902.3,362.5 1903.2,369.5 1904.1,376.4 1905.1,383.3 1906,390.3 1907.1,397.2 1908.2,404.1 1909.4,411 1910.6,417.9 1911.9,424.8 1913.1,431.6 1914.5,438.5 1916.1,445.3 1917.9,452.1 1920.1,458.5 1922.6,462.9 1924.5,465.1 1926.5,466.8 1928.7,468.1 1931.2,468.7 1933.8,469.1 1936.4,469.4 1938.9,469.7 1941.5,469.9 1944.1,470 1946.7,470 1949.3,470 1951.9,470 1954.5,470 1957.1,470 1959.7,470 1962.3,470 1964.9,470 1967.5,470 1970.1,470 1972.7,470 1975.3,470 1977.9,470 1980.5,470 1983.1,470 1985.7,470 1988.3,470 1990.9,470 1993.5,470 1996.1,470 1998.7,470 2001.3,470 2003.9,470 2006.5,470 2009.1,470 2011.7,470 2014.3,470 2016.9,470 2019.5,470 2022.1,470 2024.7,470 2027.3,470 2029.9,470 2032.5,470 2035.1,470 2037.7,470 2040.3,470 2042.9,470 2045.5,470 2048.1,470 2050.7,470 2053.3,470 2055.9,470 2058.5,470 2061.1,470 2063.7,470 2066.3,470 2068.9,470 2071.5,470 2074.1,470 2076.7,470 2079.3,470 2081.9,470 2084.5,470 2087.1,470 2089.7,470 2092.3,470 2094.8,470 2097.4,470 2100,470 2102.6,470 2105.2,470 2107.8,470 2110.4,470 2113,470 2115.6,470 2118.2,470 2120.8,470 2123.4,470 2126,470 2128.6,470 2131.2,470 2133.8,470 2136.4,470 2139,470 2141.6,470.1 2144.2,470.1 2146.8,470.1 2149.4,470.1 2152,470.1 2154.6,470.2 2157.2,470.2 2159.8,470.2 2162.4,470.3 2165,470.3 2167.6,470.4 2170.2,470.4 2172.8,470.4 2175.4,470.5 2178,470.5 2180.6,470.6 2183.2,470.6 2185.8,470.7 2188.4,470.7 2191,470.8 2193.6,470.8 2196.2,470.9 2198.8,471 2201.4,471 2204,471.1 2206.6,471.1 2209.2,471.2 2211.8,471.3 2214.4,471.3 2217,471.4 2219.6,471.5 2222.2,471.5 2224.8,471.6 2227.4,471.7 2230,471.8 2232.6,471.8 2235.2,471.9 2237.8,472 2240.4,472 2242.9,472.1 2245.5,472.2 2248.1,472.3 2250.7,472.3 2253.3,472.4 2255.9,472.5 2258.5,472.6 2261.1,472.7 2263.7,472.8 2266.3,472.9 2268.9,473 2271.5,473.1 2274.1,473.2 2276.7,473.3 2279.3,473.5 2281.9,473.6 2284.5,473.7 2287.1,473.9 2289.7,474 2292.3,474.2 2294.9,474.3 2297.5,474.5 2300.1,474.6 2302.7,474.8 2305.2,475 2307.8,475.1 2310.4,475.3 2313,475.5 2315.6,475.6 2318.2,475.8 2320.8,476 2323.4,476.2 2326,476.4 2328.6,476.5 2331.2,476.7 2333.8,476.9 2336.4,477.1 2339,477.3 2341.5,477.4 2344.1,477.6 2346.7,477.8 2349.3,478 2351.9,478.2 2354.5,478.3 2357.1,478.5 2359.7,478.7 2362.3,478.9 2364.9,479 2367.5,479.2 2370.1,479.4 2372.7,479.5 2375.3,479.7 2377.8,479.9 2380.4,480 2383,480.2 2385.6,480.3 2388.2,480.5 2390.8,480.6 2393.4,480.8 2396,480.9 2398.6,481.1 2401.2,481.2 2403.8,481.3 2406.4,481.5 2409,481.6 2411.6,481.8 2414.2,481.9 2416.8,482 2419.4,482.2 2422,482.3 2424.5,482.5 2427.1,482.6 2429.7,482.8 2432.3,482.9 2434.9,483.1 2437.5,483.2 2440.1,483.4 2442.7,483.5 2445.3,483.7 2447.9,483.9 2450.5,484 2453.1,484.2 2455.7,484.4 2458.3,484.6 2460.9,484.8 2463.4,485 2466,485.2 2468.6,485.4 2471.2,485.6 2473.8,485.8 2476.4,486 2479,486.3 2481.6,486.5 2484.2,486.7 2486.8,486.9 2489.3,487.2 2491.9,487.4 2494.5,487.7 2497.1,488 2499.7,488.2 2502.3,488.5 2504.8,488.9 2507.4,489.2 2510,489.5 2512.6,489.9 2515.1,490.3 2517.7,490.7 2520.3,491.1 2522.8,491.6 2525.4,492.1 2527.9,492.6 2530.4,493.2 2532.9,494.1 2535.3,495.1 2537.6,496.2 2539.9,497.5 2542.1,498.8 2544.4,500.2 2546.6,501.5 2548.8,502.9 2551,504.2 2553.3,505.4 2555.7,506.5 2558.1,507.5 2560.5,508.4 2562.9,509.4 2565.4,510.3 2567.8,511.2 2570.3,512 2572.7,512.8 2575.2,513.6 2577.7,514.3 2580.2,515 2582.8,515.5 2585.3,516 2587.9,516.4 2590.5,516.7 2593.1,517 2595.6,517.3 2598.2,517.5 2600.8,517.8 2603.4,518 2606,518.2 2608.6,518.4 2611.2,518.6 2613.8,518.8 2616.4,519 2618.9,519.1 2621.5,519.3 2624.1,519.5 2626.7,519.6 2629.3,519.8 2631.9,519.9 2634.5,520 2637.1,520.2 2639.7,520.3 2642.3,520.5 2644.9,520.6 2647.5,520.8 2650.1,520.9 2652.7,521.1 2655.3,521.2 2657.9,521.3 2660.5,521.4 2663.1,521.5 2665.7,521.6 2668.3,521.7 2670.9,521.8 2673.4,521.9 2676,522 2678.6,522.1 2681.2,522.2 2683.8,522.3 2686.4,522.4 2689,522.6 2691.6,522.7 2694.2,522.9 2696.8,523 2699.4,523.2 2702,523.4 2704.6,523.6 2707.2,523.8 2709.7,524.2 2712.3,524.6 2714.9,525 2717.4,525.5 2720,526 2722.5,526.6 2725,527.2 2727.5,527.9 2730.1,528.6 2732.6,529.3 2735.1,530 2737.6,530.7 2740.1,531.4 2742.5,532.1 2745,532.8 2747.5,533.6 2750.1,534.2 2752.6,534.9 2755.1,535.6 2757.6,536.2 2760.1,536.9 2762.6,537.6 2765.1,538.3 2767.6,539 2770.1,539.7 2772.6,540.4 2775.1,541.2 2777.6,542 2780,542.9 2782.4,543.8 2784.8,544.8 2787.2,545.8 2789.6,546.9 2791.9,548.1 2794.1,549.4 2796.3,550.8 2798.4,552.4 2800.4,554.1 2802.3,555.8 2804.2,557.6 2805.9,559.5 2807.7,561.5 2809.7,564 2812,567.1 2814.5,571 2817,575.7 2819.6,581.1 2822,587.3 2824,594 2825.6,600.8 2826.9,607.6 2827.9,614.6 2828.5,621.5 2829,628.5 2829.4,635.5 2829.5,642.5"/><polyline class="m r" points="2830.3,658.6 2831.5,683.5 2833.3,707 2834.4,723.2 2835.3,743.7 2836.8,758.4 2837.4,781.8 2838.3,796.5 2839.1,812.6 2839.7,831.7 2840.3,846.4 2841.2,864 2842.1,875.7"/><polyline class="m b" points="1887,420 1887.2,413 1887.4,406 1887.7,399 1887.9,392 1888.2,385 1888.3,378 1888.6,371 1889.1,364.1 1891,357.8 1893.4,357 1896,357.2 1898.6,357.4 1901.2,357.6 1903.7,358.1 1906.3,358.7 1908.8,359.1 1911.4,359.6 1914,360 1916.5,360.4 1919.1,360.9 1921.7,361.3 1924.2,361.7 1926.8,362.2 1929.3,362.6 1931.9,363 1934.5,363.4 1937,363.8 1939.6,364.2 1942.2,364.6 1944.8,365 1947.3,365.4 1949.9,365.7 1952.5,366 1955.1,366.3 1957.7,366.6 1960.2,366.9 1962.8,367.2 1965.4,367.4 1968,367.6 1970.6,367.8 1973.2,368 1975.8,368.1 1978.4,368.3 1981,368.4 1983.6,368.6 1986.2,368.7 1988.8,368.9 1991.4,369 1994,369.2 1996.5,369.3 1999.1,369.5 2001.7,369.6 2004.3,369.7 2006.9,369.9 2009.5,370 2012.1,370.1 2014.7,370.2 2017.3,370.3 2019.9,370.5 2022.5,370.6 2025.1,370.7 2027.7,370.8 2030.3,370.9 2032.9,371 2035.5,371 2038.1,371.1 2040.7,371.2 2043.3,371.3 2045.9,371.3 2048.5,371.4 2051.1,371.5 2053.7,371.5 2056.3,371.6 2058.9,371.6 2061.5,371.6 2064.1,371.7 2066.7,371.7 2069.3,371.7 2071.9,371.7 2074.5,371.7 2077.1,371.7 2079.7,371.7 2082.3,371.7 2084.9,371.7 2087.5,371.7 2090.1,371.7 2092.7,371.6 2095.3,371.6 2097.9,371.6 2100.5,371.6 2103.1,371.6 2105.7,371.5 2108.3,371.5 2110.9,371.5 2113.5,371.5 2116.1,371.4 2118.7,371.4 2121.3,371.4 2123.9,371.3 2126.5,371.3 2129.1,371.3 2131.7,371.2 2134.3,371.2 2136.9,371.1 2139.5,371.1 2142.1,371.1 2144.7,371 2147.3,371 2149.9,370.9 2152.5,370.9 2155.1,370.8 2157.7,370.8 2160.3,370.7 2162.9,370.7 2165.5,370.6 2168.1,370.6 2170.7,370.5 2173.3,370.5 2175.9,370.4 2178.5,370.3 2181.1,370.3 2183.7,370.2 2186.3,370.1 2188.8,370 2191.4,369.9 2194,369.9 2196.6,369.7 2199.2,369.6 2201.8,369.5 2204.4,369.4 2207,369.3 2209.6,369.1 2212.2,369 2214.8,368.9 2217.4,368.7 2220,368.6 2222.6,368.4 2225.2,368.3 2227.8,368.1 2230.4,368 2233,367.8 2235.6,367.7 2238.2,367.5 2240.8,367.3 2243.4,367.2 2246,367 2248.6,366.9 2251.1,366.7 2253.7,366.5 2256.3,366.4 2258.9,366.2 2261.5,366 2264.1,365.8 2266.7,365.7 2269.3,365.5 2271.9,365.3 2274.5,365.1 2277.1,364.9 2279.7,364.7 2282.3,364.5 2284.9,364.3 2287.4,364.1 2290,363.8 2292.6,363.6 2295.2,363.4 2297.8,363.2 2300.4,362.9 2303,362.7 2305.6,362.5 2308.2,362.2 2310.7,362 2313.3,361.7 2315.9,361.5 2318.5,361.2 2321.1,361 2323.7,360.7 2326.3,360.5 2328.9,360.2 2331.4,360 2334,359.7 2336.6,359.4 2339.2,359.1 2341.8,358.8 2344.4,358.5 2346.9,358.2 2349.5,357.9 2352.1,357.6 2354.7,357.3 2357.3,356.9 2359.8,356.6 2362.4,356.3 2365,355.9 2367.6,355.6 2370.2,355.3 2372.7,354.9 2375.3,354.6 2377.9,354.3 2380.5,353.9 2383,353.6 2385.6,353.3 2388.2,352.9 2390.8,352.6 2393.4,352.2 2395.9,351.9 2398.5,351.6 2401.1,351.2 2403.7,350.9 2406.2,350.5 2408.8,350.1 2411.4,349.8 2414,349.4 2416.5,349.1 2419.1,348.7 2421.7,348.3 2424.3,348 2426.8,347.6 2429.4,347.2 2432,346.9 2434.5,346.5 2437.1,346.1 2439.7,345.7 2442.3,345.4 2444.8,345 2447.4,344.6 2450,344.3 2452.6,343.9 2455.1,343.5 2457.7,343.1 2460.3,342.7 2462.8,342.2 2465.4,341.8 2467.9,341.4 2470.5,340.9 2473.1,340.4 2475.6,339.9 2478.1,339.4 2480.7,338.8 2483.2,338.2 2485.7,337.6 2488.3,337 2490.8,336.4 2493.3,335.7 2495.8,335.1 2498.3,334.4 2500.9,333.7 2503.4,333.1 2505.9,332.4 2508.4,331.7 2510.9,331 2513.4,330.4 2515.9,329.7 2518.4,329.1 2521,328.4 2523.5,327.8 2526,327.2 2528.5,326.6 2531.1,326 2533.6,325.4 2536.1,324.9 2538.7,324.4 2541.3,323.9 2543.8,323.4 2546.4,323 2548.9,322.6 2551.5,322.3 2554.1,321.9 2556.7,321.6 2559.3,321.3 2561.8,321 2564.4,320.7 2567,320.5 2569.6,320.2 2572.2,319.9 2574.8,319.7 2577.4,319.4 2579.9,319.1 2582.5,318.8 2585.1,318.5 2587.7,318.2 2590.3,317.9 2592.8,317.5 2595.4,317.1 2598,316.7 2600.5,316.3 2603.1,315.8 2605.6,315.3 2608.2,314.8 2610.7,314.2 2613.3,313.6 2615.8,313 2618.3,312.4 2620.8,311.7 2623.3,311 2625.8,310.4 2628.3,309.7 2630.9,309 2633.4,308.3 2635.9,307.6 2638.4,306.9 2640.9,306.2 2643.4,305.4 2645.9,304.8 2648.4,304.1 2650.9,303.4 2653.4,302.7 2655.9,302 2658.4,301.4 2660.9,300.7 2663.4,300.1 2666,299.4 2668.5,298.7 2671,298 2673.5,297.4 2676,296.7 2678.5,295.9 2681,295.2 2683.5,294.5 2686,293.7 2688.4,292.9 2690.9,292 2693.3,291.2 2695.8,290.3 2698.2,289.4 2700.6,288.4 2703,287.4 2705.4,286.3 2707.7,285.2 2710.1,284.1 2712.4,282.9 2714.7,281.7 2717,280.5 2719.3,279.2 2721.5,278 2723.8,276.6 2726,275.3 2728.2,273.9 2730.4,272.5 2732.6,271.1 2734.8,269.7 2736.9,268.2 2739,266.7 2741.2,265.2 2743.3,263.7 2745.4,262.2 2747.4,260.6 2749.5,259 2751.6,257.4 2753.6,255.8 2755.6,254.2 2757.6,252.5 2759.6,250.8 2761.5,249.1 2763.4,247.3 2765.3,245.5 2767.2,243.7 2769,241.9 2770.9,240.1 2772.7,238.2 2774.4,236.3 2776.2,234.3 2777.9,232.3 2779.8,230 2781.9,227.5 2784,224.7 2786.3,221.5 2788.7,217.9 2791.3,213.9 2793.8,209.5 2796.4,204.7 2799,199.5"/><polyline class="m b" points="2803,187 2806.5,175 2809.5,163 2812,151 2814.5,139 2816.4,126.8"/><polyline class="m b" points="1888,345 1888.1,352 1888.3,359 1888.5,366 1888.8,373 1889,380 1889.3,387 1889.6,394 1889.9,400.9 1890.3,407.9 1890.7,414.9 1891.1,421.9 1891.6,428.9 1892,435.9 1892.5,442.8 1893.1,449.8 1893.7,456.8 1894.4,463.8 1895.1,470.7 1895.9,477.7 1896.9,484.6 1898.3,491.4 1900.5,497.9 1903,502 1905,503.6 1907.3,504.7 1909.8,505.6 1912.3,506.2 1914.9,506.5 1917.5,506.6 1920.1,506.7 1922.7,506.8 1925.3,506.9 1927.9,506.9 1930.5,507 1933.1,507.1 1935.7,507.1 1938.3,507.2 1940.9,507.3 1943.5,507.4 1946.1,507.5 1948.6,507.5 1951.2,507.6 1953.8,507.7 1956.4,507.8 1959,507.8 1961.6,507.9 1964.2,508 1966.8,508.1 1969.4,508.1 1972,508.2 1974.6,508.3 1977.2,508.3 1979.8,508.4 1982.4,508.5 1985,508.5 1987.6,508.6 1990.2,508.7 1992.8,508.7 1995.4,508.8 1998,508.9 2000.6,508.9 2003.2,509 2005.8,509.1 2008.4,509.1 2011,509.2 2013.6,509.3 2016.2,509.3 2018.8,509.4 2021.4,509.5 2024,509.5 2026.6,509.6 2029.2,509.7 2031.8,509.7 2034.4,509.8 2037,509.9 2039.6,509.9 2042.2,510 2044.8,510.1 2047.4,510.2 2050,510.2 2052.6,510.3 2055.2,510.4 2057.8,510.4 2060.4,510.5 2063,510.6 2065.6,510.7 2068.2,510.7 2070.8,510.8 2073.4,510.9 2075.9,511 2078.5,511 2081.1,511.1 2083.7,511.2 2086.3,511.3 2088.9,511.4 2091.5,511.5 2094.1,511.5 2096.7,511.6 2099.3,511.7 2101.9,511.8 2104.5,511.9 2107.1,512 2109.7,512.1 2112.3,512.2 2114.9,512.3 2117.5,512.4 2120.1,512.5 2122.7,512.6 2125.3,512.7 2127.9,512.8 2130.5,512.9 2133.1,513 2135.7,513.1 2138.3,513.2 2140.9,513.3 2143.5,513.4 2146.1,513.5 2148.7,513.6 2151.3,513.8 2153.9,513.9 2156.5,514 2159.1,514.1 2161.6,514.3 2164.2,514.4 2166.8,514.5 2169.4,514.7 2172,514.8 2174.6,514.9 2177.2,515.1 2179.8,515.2 2182.4,515.4 2185,515.5 2187.6,515.7 2190.2,515.9 2192.8,516.1 2195.4,516.3 2198,516.5 2200.6,516.7 2203.1,516.9 2205.7,517.1 2208.3,517.4 2210.9,517.6 2213.5,517.9 2216.1,518.1 2218.7,518.4 2221.3,518.6 2223.8,518.9 2226.4,519.2 2229,519.5 2231.6,519.7 2234.2,520 2236.8,520.3 2239.3,520.6 2241.9,520.9 2244.5,521.3 2247.1,521.6 2249.7,521.9 2252.2,522.2 2254.8,522.6 2257.4,522.9 2260,523.2 2262.5,523.6 2265.1,523.9 2267.7,524.3 2270.3,524.6 2272.8,525 2275.4,525.3 2278,525.7 2280.6,526.1 2283.1,526.4 2285.7,526.8 2288.3,527.2 2290.8,527.6 2293.4,527.9 2296,528.3 2298.6,528.7 2301.1,529.1 2303.7,529.5 2306.3,529.9 2308.8,530.4 2311.4,530.8 2313.9,531.3 2316.5,531.8 2319,532.2 2321.6,532.7 2324.1,533.3 2326.7,533.8 2329.2,534.3 2331.8,534.8 2334.3,535.4 2336.9,535.9 2339.4,536.5 2341.9,537 2344.5,537.6 2347,538.2 2349.6,538.7 2352.1,539.3 2354.6,539.9 2357.2,540.4 2359.7,541 2362.2,541.5 2364.8,542.1 2367.3,542.7 2369.8,543.3 2372.4,543.8 2374.9,544.4 2377.4,545 2380,545.6 2382.5,546.2 2385,546.8 2387.5,547.4 2390.1,548.1 2392.6,548.7 2395.1,549.3 2397.6,549.9 2400.2,550.6 2402.7,551.2 2405.2,551.9 2407.7,552.5 2410.2,553.2 2412.7,553.8 2415.3,554.5 2417.8,555.1 2420.3,555.8 2422.8,556.5 2425.3,557.2 2427.8,557.8 2430.3,558.5 2432.8,559.2 2435.3,559.9 2437.8,560.6 2440.3,561.3 2442.8,562.1 2445.3,562.8 2447.8,563.5 2450.3,564.2 2452.8,565 2455.3,565.7 2457.8,566.4 2460.3,567.2 2462.8,568 2465.2,568.7 2467.7,569.5 2470.2,570.3 2472.7,571 2475.2,571.8 2477.6,572.6 2480.1,573.4 2482.6,574.2 2485.1,575 2487.5,575.8 2490,576.6 2492.5,577.4 2495,578.2 2497.4,579 2499.9,579.8 2502.4,580.7 2504.8,581.5 2507.3,582.3 2509.7,583.2 2512.2,584.1 2514.6,584.9 2517.1,585.8 2519.5,586.8 2521.9,587.7 2524.3,588.7 2526.7,589.6 2529.1,590.6 2531.5,591.7 2533.9,592.7 2536.3,593.8 2538.6,594.9 2541,596 2543.3,597.1 2545.7,598.2 2548,599.4 2550.3,600.6 2552.6,601.8 2554.9,603 2557.2,604.2 2559.5,605.4 2561.8,606.7 2564,608 2566.3,609.2 2568.5,610.5 2570.8,611.8 2573,613.2 2575.3,614.5 2577.5,615.8 2579.7,617.2 2581.9,618.6 2584.1,619.9 2586.3,621.3 2588.5,622.7 2590.7,624.1 2592.8,625.6 2595,627.1 2597.1,628.6 2599.1,630.2 2601.2,631.7 2603.3,633.3 2605.3,634.9 2607.4,636.5 2609.4,638.2 2611.4,639.8 2613.5,641.4 2615.5,643 2617.5,644.6 2619.6,646.2 2621.6,647.8 2623.7,649.4 2625.8,651 2627.9,652.5 2630,654 2632.1,655.5 2634.3,657 2636.4,658.4 2638.6,659.9 2640.7,661.3 2642.9,662.7 2645.1,664.1 2647.3,665.6 2649.5,667 2651.7,668.4 2653.9,669.7 2656.1,671.1 2658.3,672.5 2660.5,673.9 2662.6,675.3 2664.8,676.7 2667,678.1 2669.2,679.5 2671.4,680.9 2673.6,682.3 2675.8,683.7 2677.9,685.1 2680.1,686.5 2682.4,687.9 2684.6,689.2 2686.8,690.5 2689.1,691.8 2691.3,693.1 2693.6,694.4 2695.8,695.7 2698.1,697 2700.3,698.3 2702.6,699.7 2704.8,701 2707,702.4 2709.2,703.7 2711.4,705.2 2713.5,706.6 2715.7,708.1 2717.8,709.6 2719.8,711.2 2721.9,712.9 2723.8,714.6 2725.7,716.3 2727.6,718.1 2729.3,720.1 2731.3,722.4 2733.5,725.4 2735.9,729.1 2738.5,733.2 2741.1,737.7 2743.6,742.3 2746.2,746.8 2748.8,750.9 2751.2,754.8 2753.7,758.4 2756.1,762 2758.5,765.6 2761,769.4 2763.5,773.2 2766,777.4 2768.6,782 2771.2,787.1 2773.8,792.5 2776.3,798.2 2778.7,804.1 2781.2,810.1 2783.6,816.2 2785.9,822.5 2788.2,828.8 2790.5,835.2 2792.9,841.4 2795.1,848 2796.4,854.8 2797.5,861.8 2798.3,868.7 2798.6,875.7"/><polyline class="m t" points="1887,430 1887.1,423 1887.3,416 1887.5,409 1887.9,402 1888.3,395 1888.9,388.1 1890.3,381.3 1892.3,378.8 1894.5,377.4 1897,377 1899.6,377.2 1902.2,377.5 1904.8,377.7 1907.4,378 1909.9,378.1 1912.5,378.2 1915.1,378.3 1917.7,378.5 1920.3,378.6 1922.9,378.7 1925.5,378.8 1928.1,378.9 1930.7,379 1933.3,379.2 1935.9,379.3 1938.5,379.4 1941.1,379.5 1943.7,379.6 1946.3,379.7 1948.9,379.8 1951.5,379.9 1954.1,380 1956.7,380.1 1959.3,380.2 1961.9,380.3 1964.5,380.4 1967.1,380.5 1969.7,380.6 1972.3,380.7 1974.9,380.7 1977.5,380.8 1980.1,380.9 1982.7,381 1985.3,381.1 1987.9,381.2 1990.5,381.2 1993.1,381.3 1995.7,381.4 1998.3,381.4 2000.9,381.5 2003.5,381.6 2006.1,381.6 2008.7,381.7 2011.3,381.8 2013.9,381.8 2016.5,381.9 2019,381.9 2021.6,382 2024.2,382 2026.8,382.1 2029.4,382.1 2032,382.2 2034.6,382.2 2037.2,382.2 2039.8,382.3 2042.4,382.3 2045,382.3 2047.6,382.4 2050.2,382.4 2052.8,382.4 2055.4,382.4 2058,382.4 2060.6,382.5 2063.2,382.5 2065.8,382.5 2068.4,382.5 2071,382.5 2073.6,382.5 2076.2,382.5 2078.8,382.5 2081.4,382.5 2084,382.5 2086.6,382.5 2089.2,382.5 2091.8,382.5 2094.4,382.5 2097,382.5 2099.6,382.4 2102.2,382.4 2104.8,382.4 2107.4,382.4 2110,382.4 2112.6,382.4 2115.2,382.4 2117.8,382.3 2120.4,382.3 2123,382.3 2125.6,382.3 2128.2,382.3 2130.8,382.2 2133.4,382.2 2136,382.2 2138.6,382.2 2141.2,382.1 2143.8,382.1 2146.4,382.1 2149,382 2151.6,382 2154.2,382 2156.8,381.9 2159.4,381.9 2162,381.9 2164.6,381.8 2167.2,381.8 2169.8,381.8 2172.4,381.7 2175,381.7 2177.6,381.6 2180.2,381.6 2182.8,381.5 2185.4,381.5 2188,381.5 2190.6,381.4 2193.2,381.4 2195.8,381.3 2198.4,381.3 2201,381.2 2203.6,381.2 2206.2,381.1 2208.8,381.1 2211.4,381 2214,380.9 2216.6,380.9 2219.2,380.8 2221.8,380.8 2224.4,380.7 2227,380.6 2229.6,380.6 2232.2,380.5 2234.8,380.5 2237.4,380.4 2240,380.3 2242.6,380.3 2245.2,380.2 2247.8,380.1 2250.4,380.1 2253,380 2255.6,379.9 2258.2,379.8 2260.8,379.7 2263.3,379.6 2265.9,379.4 2268.5,379.3 2271.1,379.1 2273.7,378.9 2276.3,378.7 2278.9,378.5 2281.5,378.3 2284.1,378.1 2286.7,377.8 2289.3,377.6 2291.8,377.3 2294.4,377.1 2297,376.8 2299.6,376.5 2302.2,376.2 2304.8,375.9 2307.4,375.6 2309.9,375.3 2312.5,375 2315.1,374.7 2317.7,374.4 2320.3,374.1 2322.8,373.8 2325.4,373.4 2328,373.1 2330.6,372.8 2333.1,372.4 2335.7,372 2338.3,371.6 2340.8,371.1 2343.4,370.7 2345.9,370.2 2348.5,369.6 2351,369.1 2353.6,368.6 2356.1,368.1 2358.7,367.5 2361.2,367 2363.8,366.5 2366.3,366.1 2368.9,365.6 2371.4,365.2 2374,364.8 2376.6,364.4 2379.2,364.1 2381.8,363.8 2384.3,363.5 2386.9,363.3 2389.5,363 2392.1,362.8 2394.7,362.6 2397.3,362.4 2399.9,362.2 2402.5,362 2405.1,361.8 2407.7,361.6 2410.2,361.4 2412.8,361.2 2415.4,361 2418,360.9 2420.6,360.7 2423.2,360.5 2425.8,360.3 2428.4,360.2 2431,360 2433.6,359.8 2436.2,359.7 2438.8,359.5 2441.4,359.4 2444,359.3 2446.6,359.1 2449.2,359 2451.8,358.9 2454.4,358.7 2456.9,358.6 2459.5,358.4 2462.1,358.3 2464.7,358.1 2467.3,357.9 2469.9,357.7 2472.5,357.5 2475.1,357.2 2477.7,356.9 2480.3,356.6 2482.8,356.3 2485.4,356 2488,355.6 2490.6,355.2 2493.1,354.8 2495.7,354.4 2498.2,353.9 2500.8,353.5 2503.4,353 2505.9,352.6 2508.5,352.1 2511,351.6 2513.6,351.1 2516.1,350.6 2518.7,350.1 2521.2,349.6 2523.8,349.1 2526.3,348.6 2528.9,348.1 2531.4,347.6 2534,347.1 2536.6,346.7 2539.1,346.2 2541.7,345.7 2544.2,345.3 2546.8,344.9 2549.4,344.4 2551.9,344 2554.5,343.6 2557.1,343.2 2559.6,342.8 2562.2,342.4 2564.8,342.1 2567.3,341.7 2569.9,341.3 2572.5,341 2575.1,340.6 2577.6,340.2 2580.2,339.8 2582.8,339.5 2585.3,339.1 2587.9,338.7 2590.5,338.3 2593.1,337.9 2595.6,337.5 2598.2,337 2600.7,336.6 2603.3,336.1 2605.9,335.7 2608.4,335.2 2611,334.7 2613.5,334.2 2616.1,333.6 2618.6,333 2621.1,332.5 2623.6,331.8 2626.2,331.2 2628.7,330.5 2631.1,329.7 2633.6,328.9 2636.1,328.1 2638.5,327.2 2641,326.3 2643.4,325.3 2645.8,324.4 2648.2,323.4 2650.6,322.4 2653,321.3 2655.4,320.3 2657.7,319.2 2660.1,318.1 2662.5,317.1 2664.8,316 2667.2,314.9 2669.5,313.8 2671.9,312.7 2674.2,311.6 2676.6,310.5 2678.9,309.4 2681.3,308.2 2683.6,307.1 2685.9,305.9 2688.3,304.7 2690.6,303.6 2692.9,302.4 2695.2,301.1 2697.5,299.9 2699.7,298.7 2702,297.4 2704.3,296.1 2706.5,294.8 2708.8,293.5 2711,292.2 2713.3,290.9 2715.5,289.6 2717.7,288.2 2719.9,286.9 2722.1,285.5 2724.3,284.1 2726.5,282.7 2728.7,281.3 2730.9,279.9 2733.1,278.5 2735.3,277.1 2737.5,275.7 2739.7,274.3 2741.8,272.9 2744,271.4 2746.1,269.9 2748.2,268.4 2750.3,266.9 2752.4,265.3 2754.4,263.7 2756.4,262 2758.4,260.3 2760.3,258.6 2762.2,256.8 2764,254.9 2765.8,253 2767.6,251 2769.5,248.7 2771.6,246 2773.9,243 2776.2,239.6 2778.7,235.9 2781.2,231.9 2783.7,227.7 2786.3,223.3 2788.9,218.5 2791.5,213.3 2794,207.8 2796.5,202"/><polyline class="m t" points="2800.5,189 2804,176.5 2807,164 2809.5,151 2811.5,139 2813,126.8"/><polyline class="m t" points="1888,330 1888.1,337 1888.3,344 1888.5,351 1888.6,358 1888.8,365 1889.1,371.9 1889.3,378.9 1889.5,385.9 1889.8,392.9 1890.1,399.9 1890.4,406.9 1890.7,413.9 1891,420.8 1891.4,427.8 1891.9,434.8 1892.4,441.8 1892.9,448.7 1893.6,455.7 1894.3,462.7 1895.2,469.6 1896.4,476.5 1898.1,483.3 1900.6,488.8 1902.7,491.6 1904.9,492.8 1907.4,493.5 1910,494 1912.5,494.3 1915.1,494.5 1917.7,494.6 1920.3,494.7 1922.9,494.8 1925.5,494.9 1928.1,494.9 1930.7,495 1933.3,495.1 1935.9,495.1 1938.5,495.2 1941.1,495.3 1943.7,495.3 1946.3,495.4 1948.9,495.5 1951.5,495.5 1954.1,495.6 1956.7,495.7 1959.3,495.7 1961.9,495.8 1964.5,495.9 1967.1,495.9 1969.6,496 1972.2,496 1974.8,496.1 1977.4,496.1 1980,496.2 1982.6,496.3 1985.2,496.3 1987.8,496.4 1990.4,496.4 1993,496.5 1995.6,496.5 1998.2,496.6 2000.8,496.6 2003.4,496.7 2006,496.7 2008.6,496.8 2011.2,496.8 2013.8,496.9 2016.4,496.9 2019,497 2021.6,497 2024.2,497.1 2026.8,497.1 2029.4,497.2 2032,497.2 2034.6,497.3 2037.2,497.3 2039.8,497.4 2042.4,497.4 2044.9,497.5 2047.5,497.5 2050.1,497.6 2052.7,497.6 2055.3,497.7 2057.9,497.7 2060.5,497.8 2063.1,497.8 2065.7,497.9 2068.3,497.9 2070.9,498 2073.5,498 2076.1,498.1 2078.7,498.1 2081.3,498.2 2083.9,498.2 2086.5,498.3 2089.1,498.4 2091.7,498.4 2094.3,498.5 2096.9,498.5 2099.5,498.6 2102.1,498.7 2104.7,498.7 2107.3,498.8 2109.9,498.9 2112.5,498.9 2115.1,499 2117.6,499.1 2120.2,499.1 2122.8,499.2 2125.4,499.3 2128,499.3 2130.6,499.4 2133.2,499.5 2135.8,499.6 2138.4,499.7 2141,499.7 2143.6,499.8 2146.2,499.9 2148.8,500 2151.4,500.1 2154,500.2 2156.6,500.3 2159.2,500.4 2161.8,500.4 2164.4,500.5 2167,500.6 2169.6,500.7 2172.2,500.8 2174.8,500.9 2177.3,501.1 2179.9,501.2 2182.5,501.3 2185.1,501.5 2187.7,501.6 2190.3,501.8 2192.9,501.9 2195.5,502.1 2198.1,502.3 2200.7,502.5 2203.3,502.7 2205.8,503 2208.4,503.2 2211,503.4 2213.6,503.7 2216.2,503.9 2218.8,504.1 2221.4,504.4 2223.9,504.7 2226.5,504.9 2229.1,505.2 2231.7,505.5 2234.3,505.7 2236.9,506 2239.4,506.3 2242,506.6 2244.6,506.8 2247.2,507.1 2249.8,507.4 2252.4,507.7 2254.9,507.9 2257.5,508.2 2260.1,508.5 2262.7,508.7 2265.3,509 2267.9,509.2 2270.4,509.5 2273,509.7 2275.6,510 2278.2,510.2 2280.8,510.4 2283.4,510.7 2286,510.9 2288.6,511.1 2291.1,511.3 2293.7,511.5 2296.3,511.7 2298.9,511.8 2301.5,512 2304.1,512.1 2306.7,512.3 2309.3,512.4 2311.9,512.5 2314.5,512.6 2317.1,512.8 2319.7,512.9 2322.3,513 2324.9,513.1 2327.4,513.2 2330,513.4 2332.6,513.5 2335.2,513.7 2337.8,513.8 2340.4,514 2343,514.2 2345.6,514.4 2348.2,514.7 2350.8,514.9 2353.3,515.2 2355.9,515.4 2358.5,515.7 2361.1,516 2363.7,516.3 2366.2,516.6 2368.8,517 2371.4,517.3 2374,517.7 2376.5,518 2379.1,518.4 2381.7,518.7 2384.3,519.1 2386.8,519.6 2389.4,520 2391.9,520.5 2394.5,520.9 2397,521.4 2399.6,521.9 2402.1,522.5 2404.7,523 2407.2,523.5 2409.7,524.1 2412.3,524.7 2414.8,525.2 2417.3,525.8 2419.9,526.4 2422.4,527 2424.9,527.6 2427.5,528.2 2430,528.8 2432.5,529.4 2435,530 2437.6,530.6 2440.1,531.2 2442.6,531.8 2445.1,532.4 2447.6,533.1 2450.2,533.7 2452.7,534.4 2455.2,535.1 2457.7,535.8 2460.2,536.4 2462.7,537.1 2465.2,537.8 2467.7,538.5 2470.2,539.3 2472.7,540 2475.2,540.7 2477.7,541.5 2480.1,542.2 2482.6,543 2485.1,543.8 2487.6,544.6 2490,545.4 2492.5,546.2 2495,547.1 2497.4,547.9 2499.9,548.8 2502.3,549.7 2504.7,550.6 2507.2,551.4 2509.6,552.3 2512.1,553.3 2514.5,554.2 2516.9,555.1 2519.3,556 2521.8,556.9 2524.2,557.8 2526.7,558.7 2529.1,559.6 2531.5,560.5 2534,561.4 2536.4,562.2 2538.9,563.1 2541.3,564 2543.8,564.8 2546.2,565.7 2548.7,566.6 2551.1,567.4 2553.6,568.3 2556,569.2 2558.5,570 2560.9,570.9 2563.3,571.8 2565.8,572.7 2568.2,573.5 2570.7,574.4 2573.1,575.3 2575.5,576.2 2578,577.2 2580.4,578.1 2582.8,579 2585.2,580 2587.6,580.9 2590.1,581.9 2592.5,582.8 2594.9,583.8 2597.3,584.7 2599.7,585.7 2602.1,586.7 2604.5,587.7 2606.9,588.7 2609.3,589.7 2611.7,590.8 2614,591.9 2616.4,593 2618.7,594.1 2621,595.3 2623.3,596.5 2625.6,597.8 2627.8,599.1 2630.1,600.4 2632.3,601.8 2634.5,603.2 2636.7,604.6 2638.8,606 2641,607.5 2643.1,608.9 2645.2,610.4 2647.3,612 2649.4,613.5 2651.5,615 2653.6,616.6 2655.6,618.2 2657.7,619.8 2659.7,621.4 2661.8,623 2663.8,624.7 2665.8,626.3 2667.8,628 2669.7,629.7 2671.7,631.4 2673.6,633.1 2675.6,634.9 2677.5,636.6 2679.4,638.4 2681.2,640.2 2683.1,642 2685,643.8 2686.8,645.7 2688.6,647.5 2690.4,649.4 2692.1,651.3 2693.9,653.3 2695.8,655.6 2697.8,658.1 2699.9,660.8 2702.1,663.7 2704.4,666.8 2706.6,669.9 2708.9,673 2711.2,676 2713.4,679 2715.5,681.7 2717.6,684.3 2719.5,686.6 2721.3,688.7 2723,690.6 2724.8,692.5 2726.6,694.4 2728.4,696.3 2730.2,698.2 2732,700 2733.8,701.9 2735.6,703.8 2737.4,705.6 2739.2,707.5 2740.9,709.4 2742.7,711.4 2744.4,713.4 2746.3,715.7 2748.4,718.3 2750.6,721.3 2752.9,724.5 2755.3,727.9 2757.8,731.5 2760.2,735.4 2762.8,739.5 2765.3,743.9 2767.9,748.4 2770.5,753.3 2773.1,758.4 2775.7,763.7 2778.2,769.3 2780.7,775 2783.1,781 2785.5,787.3 2787.8,793.7 2790,800.3 2792,807 2793.9,813.7 2795.7,820.5 2797.3,827.3 2798.8,834.1 2800.1,841 2801.2,847.9 2802.1,854.8 2802.9,861.8 2803.5,868.7 2804,875.7"/><polyline class="m p" points="1886,440 1886.1,433 1886.3,426 1886.6,419 1886.9,412 1887.2,405.1 1887.6,398.1 1888.1,391.1 1889.2,384.2 1891.5,380.7 1893.5,379.1 1896.1,378.7 1898.7,378.4 1901.3,378.2 1903.8,378.1 1906.4,378 1909,378 1911.6,378 1914.2,378.1 1916.8,378.1 1919.4,378.2 1922,378.3 1924.6,378.3 1927.2,378.5 1929.8,378.6 1932.4,378.7 1935,378.8 1937.6,379 1940.2,379.1 1942.8,379.3 1945.4,379.4 1948,379.6 1950.5,379.8 1953.1,379.9 1955.7,380.1 1958.3,380.2 1960.9,380.4 1963.5,380.5 1966.1,380.7 1968.7,380.8 1971.3,381 1973.9,381.1 1976.5,381.2 1979.1,381.3 1981.7,381.5 1984.3,381.6 1986.8,381.7 1989.4,381.9 1992,382 1994.6,382.2 1997.2,382.3 1999.8,382.4 2002.4,382.6 2005,382.7 2007.6,382.9 2010.2,383 2012.8,383.1 2015.4,383.3 2018,383.4 2020.6,383.6 2023.2,383.7 2025.7,383.8 2028.3,384 2030.9,384.1 2033.5,384.2 2036.1,384.4 2038.7,384.5 2041.3,384.6 2043.9,384.8 2046.5,384.9 2049.1,385 2051.7,385.1 2054.3,385.2 2056.9,385.4 2059.5,385.5 2062.1,385.6 2064.7,385.7 2067.3,385.8 2069.8,385.9 2072.4,385.9 2075,386 2077.6,386.1 2080.2,386.2 2082.8,386.3 2085.4,386.4 2088,386.4 2090.6,386.5 2093.2,386.6 2095.8,386.7 2098.4,386.7 2101,386.8 2103.6,386.9 2106.2,387 2108.8,387 2111.4,387.1 2114,387.2 2116.6,387.2 2119.2,387.3 2121.8,387.4 2124.4,387.4 2127,387.5 2129.6,387.5 2132.1,387.6 2134.7,387.7 2137.3,387.7 2139.9,387.8 2142.5,387.8 2145.1,387.9 2147.7,387.9 2150.3,388 2152.9,388.1 2155.5,388.1 2158.1,388.2 2160.7,388.2 2163.3,388.3 2165.9,388.3 2168.5,388.4 2171.1,388.4 2173.7,388.5 2176.3,388.5 2178.9,388.6 2181.5,388.6 2184.1,388.7 2186.7,388.7 2189.3,388.8 2191.9,388.8 2194.5,388.9 2197.1,388.9 2199.7,389 2202.2,389 2204.8,389.1 2207.4,389.1 2210,389.2 2212.6,389.2 2215.2,389.3 2217.8,389.3 2220.4,389.4 2223,389.4 2225.6,389.5 2228.2,389.5 2230.8,389.5 2233.4,389.6 2236,389.6 2238.6,389.7 2241.2,389.7 2243.8,389.7 2246.4,389.8 2249,389.8 2251.6,389.8 2254.2,389.9 2256.8,389.9 2259.4,389.9 2262,389.9 2264.6,390 2267.2,390 2269.8,390 2272.4,390 2275,390 2277.6,390 2280.1,390 2282.7,389.9 2285.3,389.8 2287.9,389.7 2290.5,389.5 2293.1,389.2 2295.7,389 2298.3,388.7 2300.8,388.3 2303.4,388 2306,387.6 2308.5,387.2 2311.1,386.7 2313.7,386.3 2316.2,385.8 2318.8,385.3 2321.3,384.8 2323.9,384.3 2326.4,383.8 2328.9,383.2 2331.5,382.7 2334,382.2 2336.6,381.6 2339.1,381.1 2341.7,380.6 2344.2,380.1 2346.8,379.6 2349.3,379.1 2351.8,378.6 2354.4,378.1 2357,377.6 2359.5,377.2 2362.1,376.7 2364.6,376.2 2367.2,375.7 2369.7,375.3 2372.3,374.8 2374.8,374.3 2377.4,373.7 2379.9,373.2 2382.5,372.7 2385,372.2 2387.5,371.7 2390.1,371.1 2392.6,370.6 2395.2,370.1 2397.7,369.5 2400.2,369 2402.8,368.4 2405.3,367.8 2407.9,367.3 2410.4,366.7 2412.9,366.2 2415.5,365.6 2418,365 2420.5,364.4 2423,363.8 2425.6,363.3 2428.1,362.7 2430.6,362.1 2433.2,361.5 2435.7,360.9 2438.2,360.3 2440.7,359.7 2443.3,359 2445.8,358.4 2448.3,357.8 2450.8,357.1 2453.3,356.5 2455.8,355.8 2458.3,355.1 2460.9,354.5 2463.4,353.8 2465.9,353.1 2468.4,352.4 2470.9,351.8 2473.4,351.1 2475.9,350.4 2478.4,349.7 2480.9,349 2483.4,348.3 2485.9,347.6 2488.4,346.9 2490.9,346.2 2493.4,345.5 2495.9,344.8 2498.4,344.1 2500.9,343.3 2503.4,342.6 2505.9,341.9 2508.4,341.2 2510.9,340.4 2513.3,339.7 2515.8,339 2518.3,338.2 2520.8,337.5 2523.3,336.7 2525.8,336 2528.3,335.2 2530.8,334.5 2533.2,333.7 2535.7,332.9 2538.2,332.2 2540.7,331.4 2543.2,330.6 2545.6,329.9 2548.1,329.1 2550.6,328.3 2553.1,327.5 2555.5,326.7 2558,325.9 2560.5,325.1 2563,324.3 2565.4,323.5 2567.9,322.7 2570.4,321.9 2572.8,321.1 2575.3,320.3 2577.8,319.4 2580.2,318.6 2582.7,317.8 2585.1,317 2587.6,316.1 2590.1,315.3 2592.5,314.4 2595,313.6 2597.4,312.8 2599.9,311.9 2602.3,311.1 2604.8,310.2 2607.3,309.4 2609.7,308.6 2612.2,307.7 2614.6,306.9 2617.1,306 2619.5,305.2 2622,304.3 2624.4,303.5 2626.9,302.7 2629.4,301.9 2631.8,301.1 2634.3,300.2 2636.8,299.4 2639.3,298.6 2641.7,297.8 2644.2,297 2646.7,296.2 2649.1,295.4 2651.6,294.6 2654,293.8 2656.5,292.9 2659,292 2661.4,291.2 2663.8,290.3 2666.3,289.3 2668.7,288.4 2671.1,287.4 2673.5,286.4 2675.9,285.4 2678.2,284.3 2680.6,283.3 2683,282.2 2685.3,281.1 2687.7,280 2690,278.8 2692.3,277.6 2694.6,276.4 2696.9,275.2 2699.2,273.9 2701.4,272.7 2703.7,271.3 2705.9,270 2708.1,268.6 2710.2,267.2 2712.4,265.7 2714.5,264.2 2716.6,262.7 2718.7,261.1 2720.7,259.5 2722.7,257.9 2724.7,256.2 2726.7,254.5 2728.6,252.7 2730.4,250.9 2732.3,249.1 2734.1,247.2 2735.8,245.3 2737.6,243.2 2739.6,240.8 2741.8,238 2744.1,234.7 2746.5,231.1 2749,227.1 2751.6,222.6 2754.2,217.8 2756.8,212.6 2759.3,206.9 2761.7,200.9 2764,194.6 2766.3,188.1 2768.6,181.6 2770.7,175 2772.6,168.3 2774.1,161.4 2775.3,154.5 2776.5,147.6 2777.5,140.7 2778.2,133.8 2778.7,126.8"/><polyline class="m p" points="1888,300 1888.1,307 1888.2,314 1888.4,321 1888.5,328 1888.6,335 1888.8,342 1889,349 1889.2,356 1889.3,363 1889.5,370 1889.8,377 1890,384 1890.2,391 1890.5,398 1890.8,405 1891.1,412 1891.4,419 1891.8,426 1892.2,433 1892.7,440 1893.2,447 1893.9,453.9 1894.7,460.9 1895.8,467.8 1897.5,474.6 1900,479.5 1901.9,481.7 1904.1,483 1906.6,483.6 1909.2,484 1911.8,484.3 1914.4,484.5 1917,484.5 1919.6,484.6 1922.2,484.6 1924.8,484.6 1927.4,484.7 1930,484.7 1932.6,484.7 1935.2,484.8 1937.8,484.8 1940.4,484.8 1943,484.9 1945.6,484.9 1948.2,484.9 1950.8,484.9 1953.4,485 1956,485 1958.6,485 1961.2,485 1963.8,485 1966.4,485.1 1969,485.1 1971.6,485.1 1974.2,485.1 1976.8,485.1 1979.4,485.2 1982,485.2 1984.6,485.2 1987.2,485.2 1989.8,485.2 1992.4,485.2 1995,485.2 1997.6,485.2 2000.2,485.3 2002.8,485.3 2005.4,485.3 2008,485.3 2010.6,485.3 2013.2,485.3 2015.8,485.3 2018.4,485.3 2021,485.3 2023.6,485.3 2026.2,485.3 2028.8,485.3 2031.4,485.4 2034,485.4 2036.6,485.4 2039.2,485.4 2041.8,485.4 2044.4,485.4 2047,485.4 2049.6,485.4 2052.2,485.4 2054.8,485.4 2057.4,485.4 2060,485.4 2062.6,485.4 2065.2,485.4 2067.8,485.4 2070.4,485.4 2073,485.4 2075.6,485.4 2078.2,485.4 2080.8,485.4 2083.4,485.5 2086,485.5 2088.6,485.5 2091.3,485.5 2093.9,485.5 2096.5,485.5 2099.1,485.5 2101.7,485.5 2104.3,485.5 2106.9,485.5 2109.5,485.5 2112.1,485.5 2114.7,485.6 2117.3,485.6 2119.9,485.6 2122.5,485.6 2125.1,485.6 2127.7,485.6 2130.3,485.6 2132.9,485.6 2135.5,485.7 2138.1,485.7 2140.7,485.7 2143.3,485.7 2145.9,485.7 2148.5,485.7 2151.1,485.8 2153.7,485.8 2156.3,485.8 2158.9,485.8 2161.5,485.9 2164.1,485.9 2166.7,485.9 2169.3,485.9 2171.9,486 2174.5,486 2177.1,486 2179.7,486 2182.3,486.1 2184.9,486.1 2187.5,486.2 2190.1,486.2 2192.7,486.3 2195.3,486.4 2197.9,486.4 2200.5,486.5 2203.1,486.6 2205.7,486.7 2208.3,486.8 2210.9,486.9 2213.5,487 2216.1,487.1 2218.7,487.2 2221.3,487.3 2223.9,487.4 2226.5,487.5 2229.1,487.6 2231.7,487.7 2234.3,487.9 2236.9,488 2239.5,488.1 2242.1,488.3 2244.7,488.4 2247.3,488.6 2249.9,488.7 2252.5,488.9 2255.1,489 2257.7,489.2 2260.3,489.3 2262.9,489.5 2265.5,489.7 2268.1,489.8 2270.7,490 2273.2,490.2 2275.8,490.4 2278.4,490.5 2281,490.7 2283.6,490.9 2286.2,491.1 2288.8,491.3 2291.4,491.5 2294,491.7 2296.6,491.9 2299.2,492 2301.8,492.3 2304.4,492.5 2307,492.7 2309.6,493 2312.1,493.2 2314.7,493.5 2317.3,493.8 2319.9,494.2 2322.5,494.5 2325.1,494.8 2327.6,495.2 2330.2,495.5 2332.8,495.9 2335.4,496.3 2337.9,496.7 2340.5,497.1 2343.1,497.5 2345.6,497.9 2348.2,498.4 2350.8,498.9 2353.3,499.4 2355.9,499.9 2358.4,500.4 2360.9,501 2363.5,501.6 2366,502.2 2368.5,502.8 2371.1,503.4 2373.6,504.1 2376.1,504.7 2378.6,505.4 2381.1,506.1 2383.6,506.9 2386.1,507.6 2388.5,508.5 2391,509.3 2393.4,510.2 2395.9,511.1 2398.3,512.1 2400.7,513 2403.1,514 2405.5,515 2407.9,516 2410.3,517 2412.7,518.1 2415.1,519.1 2417.5,520.1 2419.9,521.1 2422.3,522.1 2424.7,523.1 2427.1,524.1 2429.5,525.1 2431.9,526.1 2434.4,527 2436.8,528 2439.2,528.9 2441.6,529.8 2444.1,530.8 2446.5,531.7 2448.9,532.6 2451.3,533.6 2453.8,534.5 2456.2,535.5 2458.6,536.4 2461,537.4 2463.5,538.3 2465.9,539.3 2468.3,540.3 2470.7,541.2 2473.1,542.2 2475.5,543.2 2477.9,544.2 2480.3,545.3 2482.7,546.3 2485.1,547.3 2487.4,548.4 2489.8,549.5 2492.2,550.6 2494.5,551.6 2496.9,552.7 2499.2,553.8 2501.6,555 2503.9,556.1 2506.3,557.2 2508.6,558.3 2511,559.5 2513.3,560.6 2515.6,561.8 2518,562.9 2520.3,564.1 2522.6,565.3 2524.9,566.5 2527.2,567.6 2529.6,568.8 2531.9,570 2534.2,571.2 2536.5,572.4 2538.8,573.6 2541.1,574.8 2543.4,576 2545.7,577.2 2548,578.5 2550.3,579.7 2552.6,580.9 2554.9,582.2 2557.2,583.4 2559.4,584.7 2561.7,585.9 2564,587.2 2566.2,588.5 2568.5,589.8 2570.8,591.1 2573,592.4 2575.3,593.7 2577.5,595 2579.7,596.4 2581.9,597.7 2584.2,599.1 2586.4,600.5 2588.5,601.9 2590.7,603.4 2592.8,604.8 2595,606.3 2597.1,607.8 2599.2,609.3 2601.3,610.8 2603.4,612.4 2605.6,613.9 2607.7,615.4 2609.8,616.9 2611.9,618.4 2614.1,619.8 2616.2,621.3 2618.4,622.7 2620.6,624.1 2622.8,625.4 2625.1,626.8 2627.4,628 2629.6,629.3 2631.9,630.6 2634.2,631.8 2636.5,633.1 2638.7,634.3 2641,635.6 2643.3,636.9 2645.5,638.2 2647.7,639.6 2649.9,641 2652.1,642.4 2654.3,643.8 2656.5,645.2 2658.7,646.6 2660.8,648.1 2663,649.5 2665.2,651 2667.3,652.4 2669.4,653.9 2671.5,655.4 2673.7,657 2675.7,658.5 2677.8,660.1 2679.8,661.7 2681.8,663.4 2683.8,665.1 2685.7,666.8 2687.6,668.6 2689.5,670.4 2691.3,672.3 2693,674.3 2694.8,676.4 2696.8,678.9 2699,681.7 2701.3,684.8 2703.7,688.3 2706.1,692 2708.6,695.9 2711.2,700.1 2713.7,704.4 2716.3,709 2718.9,713.9 2721.5,719 2724.1,724.4 2726.6,729.9 2729.1,735.5 2731.7,741.1 2734.2,746.8 2736.7,752.6 2739.1,758.6 2741.5,764.8 2743.8,771.2 2746,777.9 2748,784.6 2749.9,791.3 2751.9,798 2753.9,804.7 2756.1,811.3 2758.4,817.8 2760.7,824.2 2763,830.6 2765.3,837.1 2767.5,843.7 2769.7,850.2 2771.9,856.9 2774,863.6 2776.1,870.3 2778,877"/><polyline class="m o" points="1887,414 1887.4,407 1888,400 1888.8,393.1 1890.6,386.9 1892.5,385.1 1894.8,383.8 1897.4,383.4 1900,383.2 1902.6,383.1 1905.2,383 1907.8,383 1910.4,383 1913,383 1915.6,383.1 1918.2,383.1 1920.8,383.2 1923.4,383.3 1926,383.4 1928.6,383.5 1931.1,383.7 1933.7,383.8 1936.3,384 1938.9,384.2 1941.5,384.3 1944.1,384.5 1946.7,384.7 1949.3,384.9 1951.9,385.1 1954.5,385.3 1957.1,385.5 1959.7,385.8 1962.3,386 1964.9,386.2 1967.5,386.4 1970.1,386.6 1972.6,386.9 1975.2,387.1 1977.8,387.3 1980.4,387.5 1983,387.7 1985.6,387.9 1988.2,388.1 1990.8,388.3 1993.4,388.4 1996,388.6 1998.6,388.7 2001.2,388.9 2003.8,389 2006.4,389.1 2009,389.2 2011.6,389.3 2014.2,389.4 2016.8,389.4 2019.4,389.5 2022,389.5 2024.6,389.5 2027.2,389.5 2029.8,389.5 2032.4,389.5 2035,389.5 2037.6,389.5 2040.2,389.5 2042.8,389.5 2045.4,389.5 2048,389.5 2050.6,389.5 2053.2,389.4 2055.8,389.4 2058.4,389.4 2061,389.4 2063.6,389.4 2066.2,389.4 2068.8,389.4 2071.4,389.4 2074,389.4 2076.6,389.3 2079.2,389.3 2081.8,389.3 2084.4,389.3 2087,389.3 2089.6,389.3 2092.2,389.2 2094.8,389.2 2097.4,389.2 2100,389.2 2102.6,389.2 2105.2,389.1 2107.8,389.1 2110.4,389.1 2113,389.1 2115.6,389 2118.2,389 2120.8,389 2123.4,389 2126,388.9 2128.6,388.9 2131.2,388.9 2133.8,388.9 2136.4,388.8 2139,388.8 2141.6,388.8 2144.2,388.7 2146.8,388.7 2149.4,388.7 2152,388.6 2154.6,388.6 2157.2,388.6 2159.8,388.5 2162.4,388.5 2165,388.5 2167.6,388.4 2170.2,388.4 2172.8,388.3 2175.4,388.3 2178,388.3 2180.6,388.2 2183.2,388.2 2185.8,388.1 2188.4,388 2191,387.9 2193.6,387.8 2196.2,387.7 2198.8,387.6 2201.4,387.5 2204,387.4 2206.6,387.3 2209.2,387.1 2211.8,387 2214.4,386.8 2217,386.7 2219.6,386.6 2222.2,386.4 2224.8,386.2 2227.4,386.1 2230,385.9 2232.6,385.7 2235.2,385.6 2237.8,385.4 2240.4,385.2 2243,385.1 2245.6,384.9 2248.2,384.7 2250.8,384.5 2253.4,384.4 2256,384.2 2258.6,384 2261.1,383.8 2263.7,383.6 2266.3,383.4 2268.9,383.2 2271.5,383 2274.1,382.8 2276.7,382.6 2279.3,382.4 2281.9,382.2 2284.5,382 2287.1,381.7 2289.7,381.5 2292.3,381.3 2294.8,381 2297.4,380.7 2300,380.5 2302.6,380.2 2305.2,379.9 2307.8,379.6 2310.4,379.3 2312.9,379 2315.5,378.7 2318.1,378.3 2320.7,378 2323.3,377.6 2325.8,377.3 2328.4,376.9 2331,376.5 2333.5,376 2336.1,375.5 2338.6,374.9 2341.2,374.3 2343.7,373.7 2346.2,373 2348.7,372.3 2351.2,371.6 2353.7,370.9 2356.2,370.1 2358.7,369.3 2361.1,368.5 2363.6,367.8 2366.1,367 2368.6,366.2 2371.1,365.4 2373.5,364.7 2376,363.9 2378.5,363.2 2381,362.5 2383.6,361.8 2386.1,361.1 2388.6,360.4 2391.1,359.7 2393.6,359 2396.1,358.3 2398.6,357.6 2401.1,356.9 2403.6,356.2 2406.1,355.5 2408.6,354.8 2411.1,354.1 2413.6,353.4 2416.1,352.7 2418.6,352 2421.1,351.3 2423.6,350.7 2426.2,350 2428.7,349.3 2431.2,348.7 2433.7,348 2436.2,347.4 2438.8,346.7 2441.3,346.1 2443.8,345.5 2446.3,344.9 2448.9,344.3 2451.4,343.7 2453.9,343 2456.4,342.4 2459,341.8 2461.5,341.2 2464,340.6 2466.5,339.9 2469.1,339.3 2471.6,338.6 2474.1,337.9 2476.6,337.2 2479.1,336.5 2481.6,335.8 2484.1,335.1 2486.6,334.4 2489.1,333.7 2491.6,333 2494.1,332.3 2496.6,331.6 2499.1,330.9 2501.6,330.1 2504.1,329.4 2506.6,328.7 2509.1,327.9 2511.6,327.2 2514.1,326.4 2516.6,325.7 2519.1,325 2521.6,324.2 2524.1,323.5 2526.6,322.7 2529,322 2531.5,321.2 2534,320.5 2536.5,319.8 2539,319 2541.5,318.3 2544,317.5 2546.5,316.8 2549,316.1 2551.5,315.3 2554,314.6 2556.5,313.9 2559,313.1 2561.5,312.4 2564,311.7 2566.5,311 2569,310.2 2571.5,309.5 2574,308.8 2576.5,308.1 2579,307.3 2581.5,306.6 2584,305.9 2586.4,305.1 2588.9,304.4 2591.4,303.7 2593.9,302.9 2596.4,302.2 2598.9,301.4 2601.4,300.7 2603.9,299.9 2606.4,299.1 2608.9,298.4 2611.3,297.6 2613.8,296.8 2616.3,296 2618.8,295.3 2621.3,294.5 2623.7,293.7 2626.2,292.9 2628.7,292.1 2631.2,291.3 2633.7,290.5 2636.1,289.7 2638.6,288.9 2641.1,288.1 2643.6,287.3 2646,286.5 2648.5,285.7 2651,284.9 2653.4,284.1 2655.9,283.2 2658.3,282.3 2660.8,281.4 2663.2,280.5 2665.6,279.5 2668,278.6 2670.4,277.6 2672.8,276.5 2675.2,275.5 2677.6,274.3 2679.9,273.2 2682.2,272 2684.5,270.8 2686.8,269.6 2689.1,268.3 2691.3,267 2693.6,265.7 2695.8,264.4 2698,263 2700.2,261.6 2702.4,260.2 2704.5,258.7 2706.6,257.2 2708.8,255.7 2710.8,254.1 2712.9,252.5 2714.9,250.9 2717,249.3 2719,247.6 2720.9,245.9 2722.9,244.2 2724.8,242.4 2726.7,240.7 2728.5,238.8 2730.3,236.9 2732.1,235 2733.9,232.9 2736,230.3 2738.3,227 2740.8,223 2743.4,218.4 2746,213.1 2748.5,207.4 2750.9,201.3 2753.1,194.8 2755.2,188.1 2757.1,181.4 2758.8,174.6 2760.2,167.7 2761.4,160.8 2762.8,153.9 2764.3,147.1 2766,140.3 2767.8,133.5 2769.7,126.8"/><polyline class="m o" points="1889,301 1889.1,308 1889.2,315 1889.4,322 1889.5,329 1889.7,336 1889.8,343 1890,350 1890.2,357 1890.4,364 1890.6,371 1890.8,378 1891,385 1891.3,392 1891.5,399 1891.8,406 1892.1,413 1892.5,420 1892.8,427 1893.2,434 1893.7,441 1894.3,447.9 1895,454.9 1895.9,461.9 1897.1,468.8 1899.1,475.3 1901.5,479 1903.4,480.7 1905.8,481.7 1908.4,482 1910.9,482.3 1913.5,482.4 1916.1,482.5 1918.7,482.6 1921.3,482.7 1923.9,482.7 1926.5,482.7 1929.1,482.8 1931.7,482.8 1934.3,482.8 1936.9,482.9 1939.5,482.9 1942.1,482.9 1944.7,482.9 1947.3,483 1950,483 1952.6,483 1955.2,483 1957.8,483 1960.4,483.1 1963,483.1 1965.6,483.1 1968.2,483.1 1970.8,483.1 1973.4,483.2 1976,483.2 1978.6,483.2 1981.2,483.2 1983.8,483.2 1986.4,483.2 1989,483.2 1991.6,483.3 1994.2,483.3 1996.8,483.3 1999.4,483.3 2002,483.3 2004.6,483.3 2007.2,483.3 2009.8,483.3 2012.4,483.4 2015,483.4 2017.6,483.4 2020.2,483.4 2022.8,483.4 2025.4,483.4 2028,483.4 2030.6,483.4 2033.2,483.4 2035.8,483.4 2038.4,483.4 2041,483.5 2043.6,483.5 2046.2,483.5 2048.8,483.5 2051.4,483.5 2054,483.5 2056.6,483.5 2059.2,483.5 2061.8,483.5 2064.4,483.5 2067,483.5 2069.6,483.6 2072.2,483.6 2074.8,483.6 2077.4,483.6 2080,483.6 2082.6,483.6 2085.2,483.6 2087.8,483.6 2090.4,483.6 2093,483.6 2095.6,483.7 2098.2,483.7 2100.8,483.7 2103.4,483.7 2106,483.7 2108.6,483.7 2111.2,483.7 2113.8,483.8 2116.4,483.8 2119,483.8 2121.6,483.8 2124.2,483.8 2126.8,483.8 2129.4,483.9 2132,483.9 2134.6,483.9 2137.2,483.9 2139.8,483.9 2142.4,484 2145,484 2147.6,484 2150.2,484 2152.8,484 2155.4,484.1 2158,484.1 2160.6,484.1 2163.2,484.2 2165.8,484.2 2168.4,484.2 2171,484.2 2173.6,484.3 2176.2,484.3 2178.8,484.3 2181.4,484.4 2184,484.4 2186.6,484.5 2189.2,484.6 2191.8,484.7 2194.4,484.8 2197,484.9 2199.6,485 2202.2,485.1 2204.8,485.2 2207.4,485.4 2210,485.5 2212.6,485.7 2215.2,485.8 2217.8,486 2220.4,486.2 2223,486.3 2225.6,486.5 2228.2,486.7 2230.8,486.9 2233.4,487.1 2236,487.3 2238.6,487.5 2241.2,487.7 2243.8,488 2246.4,488.2 2248.9,488.4 2251.5,488.7 2254.1,488.9 2256.7,489.2 2259.3,489.4 2261.9,489.7 2264.5,489.9 2267.1,490.2 2269.7,490.4 2272.2,490.7 2274.8,491 2277.4,491.2 2280,491.5 2282.6,491.8 2285.2,492 2287.8,492.3 2290.3,492.6 2292.9,492.9 2295.5,493.2 2298.1,493.4 2300.7,493.7 2303.3,494 2305.9,494.3 2308.4,494.7 2311,495 2313.6,495.3 2316.2,495.7 2318.8,496.1 2321.3,496.5 2323.9,496.9 2326.5,497.3 2329,497.7 2331.6,498.2 2334.1,498.6 2336.7,499.1 2339.2,499.6 2341.8,500.2 2344.3,500.7 2346.9,501.3 2349.4,501.9 2351.9,502.5 2354.4,503.2 2356.9,504 2359.4,504.9 2361.8,505.8 2364.2,506.7 2366.6,507.7 2369,508.7 2371.4,509.8 2373.8,510.8 2376.2,511.8 2378.6,512.8 2381,513.8 2383.4,514.8 2385.8,515.8 2388.2,516.8 2390.6,517.9 2393,518.9 2395.4,519.9 2397.7,521 2400.1,522 2402.5,523.1 2404.9,524.2 2407.2,525.2 2409.6,526.3 2412,527.4 2414.3,528.5 2416.7,529.6 2419,530.7 2421.4,531.8 2423.7,532.9 2426.1,534 2428.5,535.1 2430.8,536.2 2433.2,537.3 2435.5,538.4 2437.9,539.6 2440.2,540.7 2442.6,541.8 2444.9,542.9 2447.2,544.1 2449.6,545.2 2451.9,546.4 2454.2,547.5 2456.6,548.7 2458.9,549.8 2461.2,551 2463.6,552.1 2465.9,553.3 2468.2,554.4 2470.5,555.6 2472.9,556.8 2475.2,557.9 2477.5,559.1 2479.9,560.2 2482.2,561.4 2484.5,562.5 2486.9,563.7 2489.2,564.8 2491.5,566 2493.9,567.1 2496.2,568.2 2498.6,569.4 2500.9,570.5 2503.2,571.6 2505.6,572.8 2507.9,573.9 2510.3,575.1 2512.6,576.2 2514.9,577.4 2517.2,578.5 2519.6,579.7 2521.9,580.9 2524.2,582.1 2526.5,583.3 2528.8,584.5 2531.1,585.8 2533.4,587 2535.6,588.3 2537.9,589.6 2540.1,590.9 2542.4,592.2 2544.6,593.5 2546.8,594.9 2549,596.3 2551.3,597.6 2553.5,599 2555.7,600.4 2557.9,601.8 2560,603.2 2562.2,604.6 2564.4,606 2566.6,607.4 2568.8,608.8 2571,610.1 2573.2,611.5 2575.5,612.9 2577.7,614.2 2579.9,615.6 2582.1,616.9 2584.4,618.2 2586.6,619.5 2588.9,620.8 2591.2,622 2593.5,623.3 2595.8,624.5 2598.1,625.7 2600.4,627 2602.6,628.2 2604.9,629.4 2607.2,630.7 2609.5,631.9 2611.8,633.2 2614,634.5 2616.3,635.8 2618.5,637.1 2620.7,638.5 2623,639.8 2625.2,641.2 2627.4,642.6 2629.6,643.9 2631.8,645.3 2634,646.7 2636.2,648.1 2638.4,649.5 2640.6,650.9 2642.7,652.4 2644.9,653.8 2647,655.3 2649.1,656.9 2651.2,658.4 2653.3,660 2655.3,661.6 2657.4,663.2 2659.4,664.9 2661.3,666.6 2663.3,668.3 2665.2,670 2667.1,671.8 2668.9,673.6 2670.8,675.5 2672.6,677.4 2674.4,679.2 2676.1,681.2 2677.9,683.1 2679.6,685.1 2681.5,687.3 2683.4,689.6 2685.5,692.2 2687.6,695 2689.9,698.1 2692.2,701.4 2694.7,705 2697.2,708.9 2699.7,713.1 2702.3,717.6 2704.9,722.3 2707.5,727.2 2710.1,732.3 2712.6,737.7 2715.2,743.4 2717.6,749.3 2720.1,755.3 2722.5,761.4 2724.9,767.5 2727.3,773.6 2729.7,779.8 2732.1,786 2734.4,792.3 2736.8,798.5 2739.2,804.7 2741.6,810.8 2744,816.9 2746.4,823 2748.8,829.1 2751.3,835 2753.8,840.8 2756.4,846.2 2758.9,851.7 2761.4,857.4 2763.8,863.6 2765.9,870.3 2767.8,877"/>
<polyline class="m k" points="419,1662 419.7,1655 420.3,1648.1 420.9,1641.1 421.4,1634.1 421.9,1627.1 422.3,1620.1 422.8,1613.1 423.3,1606.2 423.9,1599.2 424.6,1592.2 425.4,1585.2 426.2,1578.3 427,1571.3 427.9,1564.4 429.3,1557.5 431.5,1551.5 433.8,1548.1 435.8,1546.4 438.3,1545.9 440.9,1545.6 443.5,1545.5 446.1,1545.4 448.7,1545.3 451.3,1545.3 453.9,1545.3 456.5,1545.3 459.1,1545.3 461.7,1545.3 464.3,1545.3 466.9,1545.3 469.5,1545.3 472.1,1545.3 474.7,1545.3 477.3,1545.3 479.9,1545.3 482.5,1545.3 485.1,1545.3 487.7,1545.3 490.3,1545.3 492.9,1545.3 495.5,1545.3 498.1,1545.3 500.7,1545.3 503.3,1545.3 505.9,1545.3 508.5,1545.3 511.1,1545.3 513.7,1545.3 516.3,1545.3 518.9,1545.3 521.5,1545.3 524.1,1545.3 526.7,1545.3 529.3,1545.3 531.9,1545.3 534.5,1545.3 537.1,1545.3 539.7,1545.3 542.3,1545.3 544.9,1545.3 547.5,1545.3 550.1,1545.3 552.7,1545.3 555.3,1545.3 557.9,1545.3 560.5,1545.3 563.1,1545.3 565.7,1545.3 568.3,1545.3 570.9,1545.3 573.5,1545.3 576.1,1545.3 578.7,1545.3 581.3,1545.3 583.9,1545.3 586.6,1545.3 589.2,1545.3 591.8,1545.3 594.4,1545.3 597,1545.3 599.6,1545.3 602.2,1545.3 604.8,1545.3 607.4,1545.3 610,1545.3 612.6,1545.3 615.2,1545.3 617.8,1545.3 620.4,1545.3 623,1545.3 625.6,1545.3 628.2,1545.3 630.8,1545.3 633.4,1545.3 636,1545.3 638.6,1545.3 641.2,1545.3 643.8,1545.3 646.4,1545.3 649,1545.3 651.6,1545.3 654.2,1545.3 656.8,1545.3 659.4,1545.3 662,1545.3 664.6,1545.3 667.2,1545.3 669.8,1545.3 672.4,1545.3 675,1545.2 677.6,1545.2 680.2,1545.2 682.8,1545.2 685.4,1545.2 688,1545.1 690.6,1545.1 693.2,1545.1 695.8,1545.1 698.4,1545 701,1545 703.6,1545 706.2,1544.9 708.8,1544.9 711.4,1544.8 714,1544.8 716.6,1544.8 719.2,1544.7 721.8,1544.7 724.4,1544.6 727,1544.6 729.6,1544.5 732.2,1544.5 734.8,1544.4 737.4,1544.4 740,1544.3 742.6,1544.3 745.2,1544.2 747.8,1544.2 750.4,1544.1 753,1544.1 755.6,1544 758.2,1543.9 760.8,1543.9 763.4,1543.8 766,1543.8 768.6,1543.7 771.2,1543.6 773.8,1543.6 776.4,1543.5 779,1543.4 781.6,1543.4 784.2,1543.3 786.8,1543.2 789.4,1543.2 792,1543.1 794.6,1543 797.2,1543 799.8,1542.9 802.4,1542.8 805,1542.8 807.6,1542.7 810.2,1542.6 812.8,1542.6 815.4,1542.5 818,1542.4 820.6,1542.4 823.2,1542.3 825.8,1542.2 828.4,1542.2 831,1542.1 833.6,1542 836.2,1542 838.8,1541.9 841.4,1541.8 844,1541.8 846.6,1541.7 849.2,1541.6 851.8,1541.6 854.4,1541.5 857,1541.4 859.6,1541.4 862.2,1541.3 864.8,1541.3 867.4,1541.2 870,1541.1 872.6,1541.1 875.2,1541 877.8,1540.9 880.4,1540.8 883,1540.8 885.6,1540.7 888.2,1540.6 890.8,1540.5 893.4,1540.5 896,1540.4 898.6,1540.3 901.2,1540.2 903.8,1540.1 906.4,1540.1 909,1540 911.6,1539.9 914.2,1539.8 916.8,1539.7 919.4,1539.6 922,1539.6 924.6,1539.5 927.2,1539.4 929.8,1539.3 932.4,1539.2 935,1539.1 937.6,1539 940.2,1539 942.8,1538.9 945.4,1538.8 948,1538.7 950.6,1538.6 953.2,1538.5 955.8,1538.4 958.4,1538.3 961,1538.3 963.6,1538.2 966.2,1538.1 968.8,1538 971.4,1537.9 974,1537.8 976.6,1537.7 979.2,1537.7 981.8,1537.6 984.4,1537.5 987,1537.4 989.6,1537.3 992.2,1537.2 994.8,1537.2 997.4,1537.1 1000,1537 1002.6,1536.9 1005.2,1536.8 1007.8,1536.8 1010.4,1536.7 1013,1536.6 1015.6,1536.5 1018.2,1536.5 1020.8,1536.4 1023.4,1536.3 1026,1536.3 1028.6,1536.2 1031.2,1536.1 1033.8,1536.1 1036.4,1536 1039,1535.9 1041.6,1535.9 1044.2,1535.8 1046.8,1535.7 1049.4,1535.7 1052,1535.6 1054.6,1535.5 1057.2,1535.5 1059.8,1535.4 1062.4,1535.3 1065,1535.3 1067.6,1535.2 1070.2,1535.1 1072.8,1535.1 1075.4,1535 1078,1534.9 1080.6,1534.9 1083.2,1534.8 1085.8,1534.7 1088.4,1534.6 1091,1534.6 1093.6,1534.5 1096.2,1534.4 1098.8,1534.4 1101.4,1534.3 1104,1534.2 1106.6,1534.1 1109.2,1534 1111.8,1534 1114.4,1533.9 1117,1533.8 1119.6,1533.7 1122.2,1533.6 1124.8,1533.5 1127.4,1533.5 1130,1533.4 1132.6,1533.3 1135.2,1533.2 1137.8,1533.1 1140.4,1533 1143,1532.9 1145.6,1532.8 1148.2,1532.7 1150.8,1532.6 1153.4,1532.5 1156,1532.4 1158.6,1532.3 1161.2,1532.2 1163.8,1532 1166.4,1531.9 1169,1531.8 1171.6,1531.7 1174.1,1531.6 1176.7,1531.4 1179.3,1531.3 1181.9,1531.2 1184.5,1531.1 1187.1,1530.9 1189.7,1530.8 1192.3,1530.6 1194.9,1530.5 1197.5,1530.3 1200.1,1530.2 1202.7,1530 1205.3,1529.9 1207.9,1529.7 1210.5,1529.6 1213.1,1529.4 1215.7,1529.2 1218.3,1529 1220.9,1528.8 1223.5,1528.7 1226.1,1528.5 1228.7,1528.3 1231.3,1528.1 1233.9,1527.9 1236.4,1527.7 1239,1527.4 1241.6,1527.2 1244.2,1527 1246.8,1526.8 1249.4,1526.5 1252,1526.3 1254.6,1526 1257.2,1525.8 1259.8,1525.5 1262.3,1525.2 1264.9,1524.9 1267.5,1524.6 1270.1,1524.3 1272.7,1523.9 1275.2,1523.5 1277.8,1523.1 1280.4,1522.7 1282.9,1522.3 1285.5,1521.9 1288.1,1521.4 1290.6,1520.9 1293.2,1520.4 1295.7,1519.9 1298.3,1519.3 1300.8,1518.8 1303.3,1518.2 1305.8,1517.5 1308.4,1516.9 1310.9,1516.1 1313.3,1515.3 1315.8,1514.5 1318.2,1513.6 1320.6,1512.6 1323,1511.5 1325.4,1510.4 1327.7,1509.2 1329.9,1508 1332.2,1506.6 1334.4,1505.2 1336.5,1503.7 1338.5,1502.1 1340.5,1500.4 1342.3,1498.5 1344.5,1495.3 1347,1489.5 1348.9,1482.8 1350.6,1476 1352.2,1469.1 1353.6,1462.3 1354.8,1455.4 1356.1,1448.5 1357.3,1441.6 1358.4,1434.7 1359.6,1427.8 1360.7,1420.9 1361.8,1413.9 1362.9,1407 1364.1,1400.1 1365.3,1393.2 1366.5,1386.3 1367.6,1379.4 1368.7,1372.5 1369.7,1365.6 1370.6,1358.6 1371.5,1351.7 1372.4,1344.7 1373.3,1337.8 1374.2,1330.9 1375.1,1323.9 1376,1317 1376.9,1310 1377.9,1303.1 1378.8,1296.2 1379.8,1289.2 1380.8,1282.3 1381.9,1275.4 1383.2,1268.5 1384.6,1261.6 1386.1,1254.8 1387.8,1248"/><polyline class="m k" points="419,1378 419.7,1385 420.3,1391.9 420.9,1398.9 421.5,1405.9 422,1412.8 422.5,1419.8 423,1426.8 423.5,1433.8 424.1,1440.8 424.6,1447.7 425.1,1454.7 425.6,1461.7 426.1,1468.7 426.6,1475.6 427.2,1482.6 427.8,1489.6 428.5,1496.5 429.1,1503.5 429.9,1510.5 430.7,1517.4 431.6,1524.4 432.5,1531.3 433.6,1538.2 434.9,1545.1 436.5,1551.9 438.5,1558.5 441,1563.7 443,1566 445.1,1567.5 447.4,1568.7 449.9,1569.7 452.4,1570.3 454.9,1570.8 457.5,1571.2 460.1,1571.4 462.7,1571.6 465.3,1571.7 467.9,1571.8 470.5,1572 473.1,1572.1 475.7,1572.2 478.2,1572.3 480.8,1572.4 483.4,1572.5 486,1572.6 488.6,1572.6 491.2,1572.7 493.8,1572.8 496.4,1572.9 499,1572.9 501.6,1573 504.2,1573 506.8,1573.1 509.4,1573.1 512,1573.2 514.6,1573.2 517.2,1573.3 519.8,1573.3 522.4,1573.4 525,1573.4 527.6,1573.4 530.2,1573.5 532.8,1573.5 535.4,1573.6 538,1573.6 540.6,1573.6 543.2,1573.7 545.8,1573.7 548.4,1573.7 551,1573.8 553.6,1573.8 556.2,1573.8 558.8,1573.9 561.4,1573.9 564,1574 566.6,1574 569.2,1574.1 571.8,1574.1 574.4,1574.2 577,1574.2 579.6,1574.3 582.2,1574.3 584.8,1574.4 587.4,1574.5 590,1574.5 592.5,1574.6 595.1,1574.7 597.7,1574.8 600.3,1574.9 602.9,1575 605.5,1575.1 608.1,1575.2 610.7,1575.3 613.3,1575.4 615.9,1575.5 618.5,1575.6 621.1,1575.8 623.7,1575.9 626.3,1576.1 628.9,1576.2 631.5,1576.4 634.1,1576.5 636.7,1576.7 639.3,1576.9 641.9,1577 644.4,1577.2 647,1577.4 649.6,1577.6 652.2,1577.8 654.8,1578 657.4,1578.2 660,1578.4 662.6,1578.7 665.2,1578.9 667.8,1579.1 670.3,1579.4 672.9,1579.6 675.5,1579.9 678.1,1580.1 680.7,1580.4 683.3,1580.7 685.8,1581 688.4,1581.3 691,1581.6 693.6,1581.9 696.2,1582.3 698.7,1582.6 701.3,1583 703.9,1583.5 706.4,1583.9 709,1584.4 711.5,1584.9 714,1585.5 716.6,1586.2 719.1,1586.8 721.5,1587.6 724,1588.6 726.3,1589.7 728.6,1590.8 730.9,1592.2 733,1593.6 735,1595.3 736.9,1597.2 739.3,1601.2 741.7,1607.2 743.9,1613.9 745.6,1620.6 747.2,1627.5 748.6,1634.3 750.3,1641.1 752,1647.9 753.9,1654.6 755.8,1661.3 757.8,1668 760,1672.1 761.9,1670.4 763.7,1668.3 765.5,1666.5 767.3,1664.6 769.2,1662.8 771.1,1661 773,1659.3 775,1657.6 777,1655.9 779,1654.3 781.1,1652.8 783.3,1651.4 785.6,1650.1 787.8,1648.8 790.1,1647.6 792.5,1646.5 794.9,1645.5 797.3,1644.5 799.7,1643.6 802.1,1642.7 804.6,1641.8 807,1640.9 809.5,1640.1 812,1639.3 814.5,1638.6 817,1637.9 819.5,1637.2 822,1636.6 824.5,1636 827.1,1635.5 829.6,1635.1 832.2,1634.7 834.8,1634.3 837.4,1633.9 839.9,1633.5 842.5,1633.2 845.1,1632.9 847.7,1632.6 850.2,1632.2 852.8,1632 855.4,1631.7 858,1631.4 860.6,1631.1 863.2,1630.9 865.7,1630.6 868.3,1630.4 870.9,1630.2 873.5,1630 876.1,1629.8 878.7,1629.5 881.3,1629.3 883.9,1629.1 886.5,1629 889.1,1628.8 891.6,1628.6 894.2,1628.4 896.8,1628.2 899.4,1628 902,1627.9 904.6,1627.7 907.2,1627.5 909.8,1627.3 912.4,1627.2 915,1627 917.6,1626.8 920.2,1626.7 922.8,1626.5 925.3,1626.4 927.9,1626.2 930.5,1626 933.1,1625.9 935.7,1625.7 938.3,1625.6 940.9,1625.4 943.5,1625.3 946.1,1625.2 948.7,1625 951.3,1624.9 953.9,1624.7 956.5,1624.6 959.1,1624.5 961.7,1624.4 964.3,1624.3 966.9,1624.1 969.5,1624 972.1,1623.9 974.7,1623.8 977.2,1623.7 979.8,1623.6 982.4,1623.5 985,1623.4 987.6,1623.3 990.2,1623.3 992.8,1623.2 995.4,1623.1 998,1623 1000.6,1623 1003.2,1622.9 1005.8,1622.9 1008.4,1622.8 1011,1622.7 1013.6,1622.7 1016.2,1622.6 1018.8,1622.6 1021.4,1622.5 1024,1622.4 1026.6,1622.4 1029.2,1622.3 1031.8,1622.3 1034.4,1622.2 1037,1622.2 1039.6,1622.1 1042.2,1622.1 1044.8,1622 1047.4,1622 1050,1621.9 1052.6,1621.9 1055.2,1621.9 1057.8,1621.8 1060.4,1621.8 1063,1621.8 1065.6,1621.7 1068.2,1621.7 1070.8,1621.7 1073.4,1621.7 1076,1621.6 1078.6,1621.6 1081.2,1621.6 1083.8,1621.6 1086.4,1621.6 1089,1621.6 1091.5,1621.6 1094.1,1621.6 1096.7,1621.6 1099.3,1621.7 1101.9,1621.7 1104.5,1621.7 1107.1,1621.8 1109.7,1621.8 1112.3,1621.9 1114.9,1621.9 1117.5,1622 1120.1,1622 1122.7,1622.1 1125.3,1622.2 1127.9,1622.3 1130.5,1622.3 1133.1,1622.4 1135.7,1622.5 1138.3,1622.6 1140.9,1622.7 1143.5,1622.8 1146.1,1622.9 1148.7,1623 1151.3,1623.1 1153.9,1623.3 1156.5,1623.4 1159.1,1623.5 1161.7,1623.6 1164.3,1623.8 1166.9,1623.9 1169.5,1624 1172,1624.1 1174.6,1624.3 1177.2,1624.4 1179.8,1624.6 1182.4,1624.7 1185,1624.8 1187.6,1625 1190.2,1625.1 1192.8,1625.3 1195.4,1625.4 1198,1625.6 1200.6,1625.7 1203.2,1625.9 1205.8,1626 1208.4,1626.2 1211,1626.4 1213.6,1626.6 1216.1,1626.8 1218.7,1627 1221.3,1627.2 1223.9,1627.5 1226.5,1627.7 1229.1,1628 1231.7,1628.2 1234.2,1628.5 1236.8,1628.8 1239.4,1629.1 1242,1629.4 1244.6,1629.7 1247.2,1630 1249.7,1630.3 1252.3,1630.6 1254.9,1630.9 1257.5,1631.2 1260.1,1631.5 1262.6,1631.8 1265.2,1632.1 1267.8,1632.4 1270.4,1632.7 1273,1633 1275.6,1633.2 1278.1,1633.5 1280.7,1633.7 1283.3,1634 1285.9,1634.3 1288.5,1634.6 1291,1634.9 1293.6,1635.3 1296.2,1635.6 1298.8,1636 1301.3,1636.5 1303.9,1636.9 1306.4,1637.5 1309,1638 1311.5,1638.8 1313.9,1639.6 1316.3,1640.6 1318.7,1641.7 1321,1642.9 1323.2,1644.2 1325.4,1645.6 1327.5,1647.1 1329.5,1648.8 1331.3,1650.6 1333.2,1652.7 1335.4,1655.7 1337.9,1660.1 1340.2,1666.4 1341.8,1673.2 1343,1680.1 1343.6,1687.1 1344.1,1694 1344.5,1701 1344.8,1708 1344.8,1715 1344.8,1722 1344.8,1729 1344.8,1736"/><polyline class="m k" points="1344.8,1746.3 1344.8,1761 1349.8,1777 1349.8,1793.3 1349.8,1809.4 1349.8,1825.5 1349.8,1843 1349.8,1859.3 1349.8,1877 1349.8,1894.5 1349.8,1912"/><polyline class="m k" points="1355,1930 1355,1932.6 1355,1935.3 1355,1937.9 1355,1940.5 1355,1943.1 1355,1945.8 1355,1948.4 1355,1951 1355,1953.7 1355,1956.3 1355,1958.9 1355,1961.5 1355,1964.2 1355,1966.8 1355,1969.4 1355,1972 1355,1974.7 1355,1977.3 1355,1979.9 1355,1982.6 1355,1985.2 1355,1987.8 1355,1990.4 1355,1993.1 1355,1995.7"/><polyline class="m r" points="419,1799.3 420,1766.6 420,1724.5 420,1692 420,1669.7"/><polyline class="m r" points="421.5,1657 422.3,1650 422.7,1643 423,1636 423.4,1629 423.9,1622.1 424.3,1615.1 424.9,1608.1 425.4,1601.1 426.1,1594.1 426.8,1587.1 427.6,1580.2 428.5,1573.2 429.6,1566.3 430.7,1559.4 432.7,1552.8 434.9,1549.3 436.8,1547.5 439.1,1546.2 441.6,1545.8 444.2,1545.6 446.8,1545.4 449.4,1545.3 452,1545.3 454.6,1545.3 457.2,1545.3 459.8,1545.3 462.4,1545.3 465,1545.3 467.6,1545.3 470.2,1545.3 472.8,1545.3 475.4,1545.3 478,1545.3 480.6,1545.3 483.2,1545.3 485.8,1545.3 488.4,1545.3 491.1,1545.3 493.7,1545.3 496.3,1545.3 498.9,1545.3 501.5,1545.3 504.1,1545.3 506.7,1545.3 509.3,1545.3 511.9,1545.3 514.5,1545.3 517.1,1545.3 519.7,1545.3 522.3,1545.3 524.9,1545.3 527.5,1545.3 530.1,1545.3 532.7,1545.3 535.3,1545.3 537.9,1545.3 540.5,1545.3 543.1,1545.3 545.7,1545.3 548.3,1545.3 550.9,1545.3 553.5,1545.3 556.1,1545.3 558.7,1545.3 561.3,1545.3 563.9,1545.3 566.5,1545.3 569.1,1545.3 571.7,1545.3 574.3,1545.3 576.9,1545.3 579.5,1545.3 582.1,1545.3 584.7,1545.3 587.3,1545.3 589.9,1545.3 592.6,1545.3 595.2,1545.3 597.8,1545.3 600.4,1545.3 603,1545.3 605.6,1545.3 608.2,1545.3 610.8,1545.3 613.4,1545.3 616,1545.3 618.6,1545.3 621.2,1545.3 623.8,1545.3 626.4,1545.3 629,1545.3 631.6,1545.3 634.2,1545.3 636.8,1545.3 639.4,1545.3 642,1545.3 644.6,1545.3 647.2,1545.3 649.8,1545.3 652.4,1545.3 655,1545.3 657.6,1545.3 660.2,1545.3 662.8,1545.3 665.4,1545.3 668,1545.3 670.6,1545.3 673.2,1545.2 675.8,1545.2 678.4,1545.2 681,1545.2 683.6,1545.2 686.2,1545.1 688.8,1545.1 691.4,1545.1 694,1545.1 696.7,1545 699.3,1545 701.9,1545 704.5,1544.9 707.1,1544.9 709.7,1544.9 712.3,1544.8 714.9,1544.8 717.5,1544.7 720.1,1544.7 722.7,1544.6 725.3,1544.6 727.9,1544.5 730.5,1544.5 733.1,1544.4 735.7,1544.4 738.3,1544.3 740.9,1544.3 743.5,1544.2 746.1,1544.2 748.7,1544.1 751.3,1544.1 753.9,1544 756.5,1543.9 759.1,1543.9 761.7,1543.8 764.3,1543.8 766.9,1543.7 769.5,1543.6 772.1,1543.6 774.7,1543.5 777.3,1543.4 779.9,1543.4 782.5,1543.3 785.1,1543.2 787.7,1543.2 790.3,1543.1 792.9,1543 795.5,1543 798.1,1542.9 800.7,1542.8 803.3,1542.8 805.9,1542.7 808.5,1542.6 811.1,1542.6 813.7,1542.5 816.3,1542.4 818.9,1542.4 821.5,1542.3 824.1,1542.2 826.7,1542.2 829.3,1542.1 832,1542 834.6,1542 837.2,1541.9 839.8,1541.9 842.4,1541.8 845,1541.7 847.6,1541.7 850.2,1541.6 852.8,1541.5 855.4,1541.5 858,1541.4 860.6,1541.4 863.2,1541.3 865.8,1541.2 868.4,1541.2 871,1541.1 873.6,1541 876.2,1541 878.8,1540.9 881.4,1540.8 884,1540.8 886.6,1540.7 889.2,1540.6 891.8,1540.5 894.4,1540.5 897,1540.4 899.6,1540.3 902.2,1540.2 904.8,1540.1 907.4,1540.1 910,1540 912.6,1539.9 915.2,1539.8 917.8,1539.7 920.4,1539.6 923,1539.6 925.6,1539.5 928.2,1539.4 930.8,1539.3 933.4,1539.2 936,1539.2 938.6,1539.1 941.2,1539 943.8,1538.9 946.4,1538.8 949,1538.8 951.6,1538.7 954.2,1538.6 956.8,1538.5 959.4,1538.5 962,1538.4 964.6,1538.3 967.2,1538.3 969.8,1538.2 972.4,1538.1 975,1538.1 977.6,1538 980.2,1538 982.8,1537.9 985.4,1537.9 988,1537.8 990.6,1537.8 993.2,1537.7 995.9,1537.7 998.5,1537.6 1001.1,1537.6 1003.7,1537.5 1006.3,1537.5 1008.9,1537.5 1011.5,1537.4 1014.1,1537.4 1016.7,1537.4 1019.3,1537.4 1021.9,1537.3 1024.5,1537.3 1027.1,1537.3 1029.7,1537.3 1032.3,1537.2 1034.9,1537.2 1037.5,1537.2 1040.1,1537.2 1042.7,1537.1 1045.3,1537.1 1047.9,1537.1 1050.5,1537.1 1053.1,1537.1 1055.7,1537 1058.3,1537 1060.9,1537 1063.5,1537 1066.1,1537 1068.7,1536.9 1071.3,1536.9 1073.9,1536.9 1076.5,1536.9 1079.1,1536.9 1081.7,1536.8 1084.3,1536.8 1086.9,1536.8 1089.5,1536.8 1092.1,1536.8 1094.7,1536.7 1097.3,1536.7 1099.9,1536.7 1102.5,1536.6 1105.2,1536.6 1107.8,1536.6 1110.4,1536.6 1113,1536.5 1115.6,1536.5 1118.2,1536.4 1120.8,1536.4 1123.4,1536.4 1126,1536.3 1128.6,1536.3 1131.2,1536.2 1133.8,1536.2 1136.4,1536.1 1139,1536.1 1141.6,1536 1144.2,1535.9 1146.8,1535.8 1149.4,1535.8 1152,1535.7 1154.6,1535.6 1157.2,1535.5 1159.8,1535.4 1162.4,1535.3 1165,1535.2 1167.6,1535.1 1170.2,1535 1172.8,1534.9 1175.4,1534.8 1178,1534.6 1180.6,1534.5 1183.2,1534.4 1185.8,1534.3 1188.4,1534.1 1191,1534 1193.6,1533.8 1196.2,1533.7 1198.8,1533.6 1201.4,1533.4 1204,1533.3 1206.6,1533.1 1209.2,1533 1211.8,1532.8 1214.4,1532.7 1217,1532.5 1219.6,1532.3 1222.2,1532.2 1224.8,1532 1227.4,1531.8 1230,1531.7 1232.6,1531.5 1235.2,1531.3 1237.7,1531.2 1240.3,1531 1242.9,1530.8 1245.5,1530.6 1248.1,1530.5 1250.7,1530.3 1253.3,1530.1 1255.9,1529.9 1258.5,1529.8 1261.1,1529.6 1263.7,1529.4 1266.3,1529.2 1268.9,1529 1271.5,1528.9 1274.1,1528.7 1276.7,1528.5 1279.3,1528.3 1281.9,1528.1 1284.5,1527.9 1287.1,1527.7 1289.7,1527.5 1292.3,1527.2 1294.9,1527 1297.4,1526.8 1300,1526.5 1302.6,1526.2 1305.2,1526 1307.8,1525.7 1310.4,1525.4 1313,1525.1 1315.5,1524.7 1318.1,1524.4 1320.7,1524 1323.3,1523.6 1325.9,1523.3 1328.4,1522.8 1331,1522.4 1333.5,1521.9 1336.1,1521.4 1338.6,1520.8 1341.1,1520.1 1343.6,1519.3 1346.1,1518.5 1348.5,1517.5 1350.9,1516.5 1353.3,1515.4 1355.6,1514.2 1357.8,1512.9 1359.9,1511.3 1361.8,1509.6 1363.6,1507.7 1365.5,1505.4 1367.9,1501.8 1370.5,1496.3 1372.6,1489.7 1374.3,1482.9 1376,1476.1 1377.8,1469.3 1379.6,1462.5 1381.3,1455.7 1382.9,1448.9 1384.3,1442 1385.8,1435.2 1387.1,1428.3 1388.4,1421.4 1389.7,1414.5 1391,1407.6 1392.2,1400.7 1393.4,1393.8 1394.5,1386.9 1395.6,1380 1396.7,1373.1 1397.7,1366.1 1398.6,1359.2 1399.5,1352.3 1400.4,1345.3 1401.3,1338.4 1402.3,1331.4 1403.2,1324.5 1404.1,1317.5 1405,1310.6 1406,1303.6 1406.9,1296.7 1407.8,1289.7 1408.7,1282.8 1409.6,1275.8 1410.5,1268.9 1411.3,1261.9 1412,1255 1412.8,1248"/><polyline class="m r" points="418.4,1340 419,1352 420,1372"/><polyline class="m r" points="421,1390 421.5,1397 421.9,1404 422.4,1410.9 422.9,1417.9 423.3,1424.9 423.8,1431.9 424.2,1438.8 424.7,1445.8 425.2,1452.8 425.7,1459.8 426.2,1466.7 426.7,1473.7 427.2,1480.7 427.8,1487.7 428.4,1494.6 429,1501.6 429.7,1508.6 430.3,1515.5 431.1,1522.5 431.9,1529.4 432.8,1536.3 433.7,1543.3 434.8,1550.2 436.2,1557 438.2,1563.7 440.7,1569.1 442.8,1571.8 444.8,1573.4 447.1,1574.7 449.5,1575.6 452.1,1576 454.7,1576.2 457.3,1576.4 459.9,1576.6 462.4,1576.8 465,1577 467.6,1577.1 470.2,1577.3 472.8,1577.4 475.4,1577.5 478,1577.6 480.6,1577.7 483.2,1577.8 485.8,1577.8 488.4,1577.9 491,1578 493.6,1578 496.2,1578.1 498.8,1578.1 501.4,1578.2 504,1578.2 506.6,1578.3 509.2,1578.3 511.8,1578.4 514.4,1578.4 517,1578.4 519.6,1578.5 522.1,1578.5 524.7,1578.6 527.3,1578.7 529.9,1578.7 532.5,1578.8 535.1,1578.9 537.7,1579 540.3,1579.1 542.9,1579.2 545.5,1579.3 548.1,1579.4 550.7,1579.6 553.3,1579.7 555.9,1579.9 558.5,1580.1 561.1,1580.3 563.6,1580.5 566.2,1580.8 568.8,1581 571.4,1581.3 574,1581.6 576.6,1581.9 579.1,1582.2 581.7,1582.6 584.3,1582.9 586.9,1583.3 589.4,1583.7 592,1584 594.6,1584.4 597.1,1584.9 599.7,1585.3 602.3,1585.7 604.8,1586.1 607.4,1586.6 609.9,1587.1 612.4,1587.7 615,1588.3 617.5,1588.9 620,1589.6 622.5,1590.2 625,1591 627.5,1591.7 630,1592.5 632.4,1593.4 634.9,1594.3 637.3,1595.2 639.7,1596.3 642,1597.3 644.4,1598.5 646.7,1599.6 649,1600.8 651.2,1602.1 653.5,1603.4 655.7,1604.7 657.9,1606.1 660,1607.7 661.9,1609.4 663.9,1611.6 666.4,1615.9 668.9,1621.4 671.4,1626.9 673.9,1632.6 676.4,1637.9 678.7,1638.9 681,1637.7 683,1636.2 685,1634.5 687,1632.8 689,1631.2 690.9,1629.4 692.8,1627.6 694.6,1625.8 696.6,1624 698.7,1622.6 701.1,1621.6 703.6,1620.8 706.1,1620 708.6,1619.4 711.1,1618.8 713.6,1618.2 716.2,1617.8 718.8,1617.3 721.3,1617 723.9,1616.6 726.5,1616.3 729.1,1616.1 731.7,1615.9 734.2,1615.7 736.8,1615.5 739.4,1615.3 742,1615.2 744.6,1615 747.2,1614.9 749.8,1614.8 752.4,1614.7 755,1614.6 757.6,1614.6 760.2,1614.5 762.8,1614.4 765.4,1614.4 768,1614.3 770.6,1614.3 773.2,1614.2 775.8,1614.2 778.4,1614.1 781,1614.1 783.6,1614 786.2,1614 788.7,1614 791.3,1613.9 793.9,1613.9 796.5,1613.9 799.1,1613.8 801.7,1613.8 804.3,1613.8 806.9,1613.7 809.5,1613.7 812.1,1613.7 814.7,1613.7 817.3,1613.7 819.9,1613.6 822.5,1613.6 825.1,1613.6 827.7,1613.6 830.3,1613.6 832.9,1613.6 835.5,1613.6 838.1,1613.6 840.7,1613.6 843.3,1613.6 845.9,1613.6 848.5,1613.6 851.1,1613.6 853.7,1613.6 856.3,1613.6 858.9,1613.6 861.5,1613.6 864.1,1613.6 866.7,1613.6 869.3,1613.6 871.9,1613.6 874.5,1613.6 877.1,1613.6 879.6,1613.6 882.2,1613.6 884.8,1613.6 887.4,1613.6 890,1613.6 892.6,1613.6 895.2,1613.6 897.8,1613.6 900.4,1613.6 903,1613.6 905.6,1613.6 908.2,1613.6 910.8,1613.6 913.4,1613.6 916,1613.7 918.6,1613.7 921.2,1613.8 923.8,1613.9 926.4,1614.1 929,1614.2 931.6,1614.4 934.2,1614.6 936.8,1614.8 939.3,1615 941.9,1615.2 944.5,1615.5 947.1,1615.7 949.7,1616 952.3,1616.3 954.9,1616.5 957.4,1616.8 960,1617.1 962.6,1617.4 965.2,1617.7 967.8,1617.9 970.3,1618.2 972.9,1618.5 975.5,1618.8 978.1,1619.1 980.7,1619.3 983.3,1619.6 985.8,1619.8 988.4,1620.1 991,1620.3 993.6,1620.5 996.2,1620.7 998.8,1620.9 1001.4,1621.1 1004,1621.3 1006.6,1621.4 1009.1,1621.6 1011.7,1621.7 1014.3,1621.9 1016.9,1622 1019.5,1622.2 1022.1,1622.3 1024.7,1622.4 1027.3,1622.6 1029.9,1622.7 1032.5,1622.8 1035.1,1623 1037.7,1623.1 1040.3,1623.2 1042.9,1623.4 1045.5,1623.5 1048.1,1623.6 1050.6,1623.8 1053.2,1623.9 1055.8,1624 1058.4,1624.2 1061,1624.3 1063.6,1624.4 1066.2,1624.6 1068.8,1624.7 1071.4,1624.9 1074,1625 1076.6,1625.2 1079.2,1625.4 1081.8,1625.6 1084.4,1625.7 1086.9,1625.9 1089.5,1626.1 1092.1,1626.3 1094.7,1626.5 1097.3,1626.7 1099.9,1626.9 1102.5,1627.2 1105.1,1627.4 1107.7,1627.6 1110.2,1627.9 1112.8,1628.1 1115.4,1628.3 1118,1628.6 1120.6,1628.9 1123.2,1629.1 1125.7,1629.4 1128.3,1629.7 1130.9,1630 1133.5,1630.3 1136.1,1630.6 1138.6,1630.9 1141.2,1631.3 1143.8,1631.6 1146.4,1632 1148.9,1632.3 1151.5,1632.7 1154.1,1633.1 1156.6,1633.5 1159.2,1633.9 1161.8,1634.3 1164.3,1634.7 1166.9,1635.2 1169.4,1635.7 1172,1636.2 1174.5,1636.7 1177.1,1637.3 1179.6,1637.8 1182.1,1638.4 1184.6,1639.1 1187.2,1639.7 1189.7,1640.4 1192.2,1641.1 1194.6,1641.9 1197.1,1642.7 1199.6,1643.6 1202,1644.5 1204.4,1645.5 1206.7,1646.6 1209.1,1647.8 1211.3,1649.1 1213.5,1650.5 1215.5,1652.1 1217.5,1653.8 1219.3,1655.7 1221.1,1657.8 1223.3,1660.8 1225.9,1665 1228.2,1671.1 1230,1677.8 1231.3,1684.7 1232.1,1691.7 1232.7,1698.6 1233.1,1705.6 1233.3,1712.6"/><polyline class="m r" points="1233.3,1712.6 1233.5,1723.5 1233.7,1734.4 1233.9,1745.3 1234.1,1756.2 1234.2,1767.1 1234.4,1778 1234.6,1788.9 1234.9,1799.8 1235.4,1810.7 1236.1,1821.5 1236.6,1832.4 1237.2,1843.3 1237.7,1854.2 1238.2,1865.1 1238.7,1876 1239.4,1886.9 1240.1,1897.7 1241,1908.6 1241.7,1919.5 1242.4,1930.4 1243,1941.2 1243.4,1952.1 1243.7,1963 1244.1,1973.9 1244.5,1984.8 1245,1995.7"/><polyline class="m b" points="417,1560 417.1,1553 417.3,1546 417.6,1539 417.9,1532 418.3,1525.1 418.8,1518.1 419.8,1511.2 422,1505.6 424,1503.5 426.4,1502.7 429,1502.4 431.6,1502.2 434.2,1502.1 436.8,1502 439.4,1502 442,1502 444.6,1502 447.2,1502.1 449.8,1502.1 452.4,1502.2 455,1502.3 457.6,1502.4 460.2,1502.5 462.8,1502.6 465.4,1502.7 468,1502.8 470.5,1503 473.1,1503.1 475.7,1503.3 478.3,1503.4 480.9,1503.6 483.5,1503.7 486.1,1503.9 488.7,1504.1 491.3,1504.2 493.9,1504.4 496.5,1504.6 499.1,1504.7 501.7,1504.9 504.3,1505.1 506.8,1505.2 509.4,1505.4 512,1505.5 514.6,1505.7 517.2,1505.9 519.8,1506 522.4,1506.1 525,1506.3 527.6,1506.4 530.2,1506.5 532.8,1506.6 535.4,1506.7 538,1506.8 540.6,1506.8 543.2,1506.9 545.8,1506.9 548.4,1507 551,1507 553.6,1507 556.2,1507 558.8,1507 561.4,1507 564,1507 566.6,1507 569.2,1507 571.8,1507 574.3,1507 576.9,1507 579.5,1507 582.1,1507 584.7,1507 587.3,1507 589.9,1507 592.5,1507 595.1,1507 597.7,1507 600.3,1507 602.9,1507 605.5,1507 608.1,1507 610.7,1507 613.3,1507 615.9,1507 618.5,1507 621.1,1507 623.7,1507 626.3,1507 628.9,1507 631.5,1507 634.1,1507 636.7,1507 639.3,1507 641.9,1507 644.5,1507 647.1,1507 649.7,1507 652.3,1507 654.9,1507 657.5,1507 660.1,1507 662.7,1507 665.3,1507 667.9,1507 670.5,1507 673.1,1507 675.7,1507 678.3,1507 680.9,1507 683.5,1507 686.1,1507 688.7,1507 691.3,1507 693.9,1507 696.4,1507 699,1507 701.6,1507 704.2,1507 706.8,1507 709.4,1507 712,1507 714.6,1507 717.2,1506.9 719.8,1506.9 722.4,1506.9 725,1506.9 727.6,1506.8 730.2,1506.8 732.8,1506.7 735.4,1506.7 738,1506.6 740.6,1506.6 743.2,1506.5 745.8,1506.4 748.4,1506.4 751,1506.3 753.6,1506.2 756.2,1506.1 758.8,1506 761.4,1506 764,1505.9 766.6,1505.8 769.2,1505.7 771.8,1505.6 774.4,1505.5 777,1505.4 779.6,1505.3 782.2,1505.2 784.7,1505.1 787.3,1505 789.9,1504.9 792.5,1504.7 795.1,1504.6 797.7,1504.5 800.3,1504.4 802.9,1504.3 805.5,1504.2 808.1,1504.1 810.7,1504 813.3,1503.9 815.9,1503.7 818.5,1503.6 821.1,1503.5 823.7,1503.4 826.3,1503.3 828.9,1503.2 831.5,1503.1 834.1,1503 836.7,1502.9 839.3,1502.7 841.8,1502.6 844.4,1502.5 847,1502.4 849.6,1502.3 852.2,1502.2 854.8,1502.1 857.4,1502.1 860,1502 862.6,1501.9 865.2,1501.8 867.8,1501.7 870.4,1501.6 873,1501.5 875.6,1501.5 878.2,1501.4 880.8,1501.3 883.4,1501.2 886,1501.1 888.6,1501.1 891.2,1501 893.8,1500.9 896.4,1500.8 899,1500.8 901.6,1500.7 904.2,1500.6 906.8,1500.5 909.4,1500.5 912,1500.4 914.6,1500.3 917.1,1500.2 919.7,1500.2 922.3,1500.1 924.9,1500 927.5,1499.9 930.1,1499.8 932.7,1499.8 935.3,1499.7 937.9,1499.6 940.5,1499.5 943.1,1499.4 945.7,1499.3 948.3,1499.2 950.9,1499.1 953.5,1499 956.1,1498.9 958.7,1498.8 961.3,1498.7 963.9,1498.6 966.5,1498.5 969.1,1498.4 971.7,1498.3 974.3,1498.2 976.9,1498.1 979.5,1497.9 982,1497.8 984.6,1497.7 987.2,1497.5 989.8,1497.4 992.4,1497.2 995,1497.1 997.6,1496.9 1000.2,1496.8 1002.8,1496.6 1005.4,1496.4 1008,1496.2 1010.6,1496 1013.1,1495.7 1015.7,1495.5 1018.3,1495.2 1020.9,1494.9 1023.5,1494.6 1026.1,1494.3 1028.6,1493.9 1031.2,1493.6 1033.8,1493.2 1036.4,1492.9 1038.9,1492.5 1041.5,1492.1 1044.1,1491.7 1046.6,1491.3 1049.2,1490.9 1051.8,1490.5 1054.3,1490.1 1056.9,1489.7 1059.5,1489.3 1062,1488.9 1064.6,1488.5 1067.2,1488.1 1069.7,1487.7 1072.3,1487.3 1074.9,1486.9 1077.4,1486.5 1080,1486.1 1082.6,1485.6 1085.1,1485.2 1087.7,1484.8 1090.2,1484.4 1092.8,1484 1095.4,1483.5 1097.9,1483.1 1100.5,1482.6 1103,1482.2 1105.6,1481.7 1108.2,1481.3 1110.7,1480.8 1113.3,1480.4 1115.8,1479.9 1118.4,1479.4 1120.9,1478.9 1123.5,1478.4 1126,1478 1128.6,1477.5 1131.1,1477 1133.7,1476.5 1136.2,1476 1138.8,1475.5 1141.3,1475 1143.9,1474.4 1146.4,1473.9 1149,1473.4 1151.5,1472.9 1154.1,1472.4 1156.6,1471.9 1159.2,1471.3 1161.7,1470.8 1164.2,1470.2 1166.8,1469.7 1169.3,1469.1 1171.8,1468.6 1174.4,1468 1176.9,1467.4 1179.5,1466.9 1182,1466.3 1184.5,1465.7 1187,1465.1 1189.6,1464.5 1192.1,1463.9 1194.6,1463.3 1197.1,1462.7 1199.7,1462.1 1202.2,1461.4 1204.7,1460.8 1207.2,1460.2 1209.8,1459.6 1212.3,1459 1214.8,1458.4 1217.3,1457.8 1219.9,1457.1 1222.4,1456.5 1224.9,1455.9 1227.4,1455.3 1229.9,1454.6 1232.5,1454 1235,1453.3 1237.5,1452.6 1240,1451.9 1242.5,1451.1 1244.9,1450.4 1247.4,1449.6 1249.9,1448.8 1252.3,1448 1254.8,1447.1 1257.2,1446.2 1259.6,1445.2 1262,1444.2 1264.4,1443.2 1266.8,1442.1 1269.1,1441 1271.4,1439.8 1273.7,1438.6 1276,1437.3 1278.2,1435.9 1280.4,1434.5 1282.5,1432.9 1284.5,1431.3 1286.5,1429.6 1288.4,1427.9 1290.2,1426.1 1292,1424.2 1293.8,1422.3 1295.6,1420.1 1297.7,1417.5 1300,1414.3 1302.5,1410.4 1305,1405.9 1307.6,1400.8 1310.2,1395.4 1312.7,1389.6 1315,1383.3"/><polyline class="m b" points="1317.6,1370.5 1320.2,1355.2 1322.7,1337.3 1324.5,1318.2 1326.5,1296.5 1329,1273.6 1331.6,1248"/><polyline class="m b" points="418,1425 418.2,1432 418.4,1439 418.6,1446 418.8,1453 419,1460 419.2,1467 419.4,1474 419.6,1481 419.8,1488 420.1,1495 420.3,1501.9 420.6,1508.9 420.8,1515.9 421.1,1522.9 421.4,1529.9 421.8,1536.9 422.1,1543.9 422.5,1550.9 423,1557.9 423.5,1564.8 424.2,1571.8 425,1578.8 426,1585.7 427.4,1592.5 429.3,1599.3 431.8,1605 434,1608.2 436.2,1609.5 438.8,1610 441.4,1610.3 444,1610.5 446.5,1610.7 449.1,1610.8 451.7,1611 454.3,1611.1 456.9,1611.2 459.5,1611.3 462.1,1611.3 464.7,1611.4 467.3,1611.5 469.9,1611.6 472.5,1611.7 475.1,1611.7 477.7,1611.8 480.3,1611.9 482.9,1612 485.5,1612 488.1,1612.1 490.7,1612.2 493.3,1612.2 495.9,1612.3 498.5,1612.3 501.1,1612.4 503.7,1612.5 506.3,1612.5 508.9,1612.6 511.5,1612.6 514.1,1612.7 516.7,1612.7 519.3,1612.8 521.9,1612.8 524.5,1612.9 527.1,1612.9 529.7,1612.9 532.3,1613 534.9,1613 537.5,1613.1 540.1,1613.1 542.7,1613.1 545.3,1613.2 547.9,1613.2 550.5,1613.3 553.1,1613.3 555.7,1613.3 558.3,1613.4 560.9,1613.4 563.5,1613.4 566.1,1613.5 568.7,1613.5 571.3,1613.5 573.9,1613.5 576.5,1613.6 579.1,1613.6 581.7,1613.6 584.3,1613.7 586.9,1613.7 589.5,1613.7 592.1,1613.7 594.7,1613.8 597.3,1613.8 599.9,1613.8 602.5,1613.9 605.1,1613.9 607.7,1613.9 610.3,1613.9 612.9,1614 615.5,1614 618.1,1614 620.7,1614.1 623.3,1614.1 625.9,1614.1 628.5,1614.2 631.1,1614.2 633.7,1614.2 636.3,1614.3 638.9,1614.3 641.4,1614.3 644,1614.4 646.6,1614.4 649.2,1614.4 651.8,1614.5 654.4,1614.5 657,1614.5 659.6,1614.6 662.2,1614.6 664.8,1614.7 667.4,1614.7 670,1614.8 672.6,1614.8 675.2,1614.8 677.8,1614.9 680.4,1614.9 683,1615 685.6,1615 688.2,1615.1 690.8,1615.1 693.4,1615.2 696,1615.3 698.6,1615.3 701.2,1615.4 703.8,1615.4 706.4,1615.5 709,1615.6 711.6,1615.6 714.2,1615.7 716.8,1615.8 719.4,1615.9 722,1615.9 724.6,1616 727.2,1616.1 729.8,1616.2 732.4,1616.3 735,1616.3 737.6,1616.4 740.2,1616.5 742.8,1616.6 745.4,1616.7 748,1616.8 750.6,1616.9 753.2,1617 755.8,1617.1 758.4,1617.2 761,1617.3 763.6,1617.4 766.2,1617.5 768.8,1617.6 771.4,1617.7 774,1617.8 776.6,1618 779.2,1618.1 781.8,1618.2 784.3,1618.3 786.9,1618.4 789.5,1618.6 792.1,1618.7 794.7,1618.8 797.3,1618.9 799.9,1619.1 802.5,1619.2 805.1,1619.3 807.7,1619.5 810.3,1619.6 812.9,1619.8 815.5,1619.9 818.1,1620.1 820.7,1620.2 823.3,1620.4 825.9,1620.6 828.5,1620.8 831.1,1620.9 833.7,1621.1 836.2,1621.3 838.8,1621.5 841.4,1621.7 844,1621.9 846.6,1622.1 849.2,1622.4 851.8,1622.6 854.4,1622.8 857,1623 859.6,1623.2 862.2,1623.5 864.7,1623.7 867.3,1623.9 869.9,1624.2 872.5,1624.4 875.1,1624.6 877.7,1624.9 880.3,1625.1 882.9,1625.4 885.4,1625.6 888,1625.9 890.6,1626.1 893.2,1626.4 895.8,1626.6 898.4,1626.9 901,1627.1 903.6,1627.4 906.1,1627.6 908.7,1627.9 911.3,1628.1 913.9,1628.4 916.5,1628.6 919.1,1628.9 921.7,1629.1 924.3,1629.4 926.8,1629.6 929.4,1629.8 932,1630.1 934.6,1630.3 937.2,1630.6 939.8,1630.8 942.4,1631.1 945,1631.3 947.5,1631.6 950.1,1631.9 952.7,1632.1 955.3,1632.4 957.9,1632.7 960.5,1633 963,1633.3 965.6,1633.6 968.2,1633.9 970.8,1634.2 973.4,1634.5 975.9,1634.8 978.5,1635.2 981.1,1635.5 983.7,1635.9 986.2,1636.3 988.8,1636.7 991.4,1637.1 994,1637.5 996.5,1637.9 999.1,1638.3 1001.6,1638.8 1004.2,1639.3 1006.7,1639.8 1009.3,1640.4 1011.8,1641 1014.3,1641.6 1016.8,1642.3 1019.3,1643 1021.8,1643.7 1024.3,1644.4 1026.8,1645.2 1029.3,1646 1031.8,1646.8 1034.2,1647.6 1036.7,1648.5 1039.1,1649.3 1041.6,1650.2 1044,1651.1 1046.5,1652 1048.9,1652.9 1051.3,1653.9 1053.7,1654.8 1056.1,1655.8 1058.6,1656.7 1061,1657.7 1063.3,1658.8 1065.7,1659.8 1068.1,1661 1070.4,1662.1 1072.7,1663.3 1075,1664.5 1077.3,1665.8 1079.6,1667 1081.8,1668.3 1084.1,1669.6 1086.3,1670.9 1088.5,1672.2 1090.8,1673.6 1093,1674.9 1095.2,1676.2 1097.5,1677.6 1099.7,1678.9 1101.9,1680.3 1104.2,1681.6 1106.4,1682.9 1108.7,1684.2 1110.9,1685.5 1113.2,1686.7 1115.5,1688 1117.8,1689.2 1120.1,1690.4 1122.4,1691.6 1124.7,1692.8 1127,1693.9 1129.3,1695.1 1131.7,1696.3 1134,1697.4 1136.3,1698.6 1138.6,1699.8 1141,1700.9 1143.3,1702.1 1145.6,1703.3 1147.9,1704.4 1150.2,1705.6 1152.5,1706.8 1154.8,1708 1157.1,1709.3 1159.4,1710.5 1161.7,1711.7 1164,1712.9 1166.4,1714.1 1168.7,1715.2 1171,1716.3 1173.4,1717.4 1175.8,1718.4 1178.2,1719.4 1180.6,1720.3 1183.1,1721.2 1185.6,1722 1188,1722.8 1190.5,1723.6 1193,1724.4 1195.5,1725.2 1197.9,1726 1200.4,1726.8 1202.8,1727.7 1205.3,1728.6 1207.7,1729.6 1210.1,1730.5 1212.5,1731.5 1214.9,1732.5 1217.3,1733.5 1219.7,1734.5 1222.1,1735.5 1224.5,1736.6 1226.8,1737.7 1229.1,1738.9 1231.4,1740.1 1233.7,1741.4 1235.9,1742.8 1238.1,1744.2 1240.2,1745.7 1242.2,1747.3 1244.3,1748.9 1246.2,1750.6 1248.2,1752.3 1250.1,1754.1 1251.9,1756 1253.7,1757.8 1255.5,1759.7 1257.2,1761.7 1259.1,1763.9 1261.2,1766.5 1263.4,1769.6 1265.8,1773 1268.4,1777.1 1270.9,1781.8 1273.5,1787.2 1275.9,1793.2 1278.3,1799.4 1280.7,1805.6 1283,1811.9 1285.2,1818.5 1287.2,1825.2 1289,1832 1290.5,1838.8"/><polyline class="m b" points="1294.9,1860.8 1297.8,1878.4 1299.9,1901.8 1302.2,1941.5 1304.6,1982.5 1306.6,1995.7"/><polyline class="m t" points="417,1550 417.1,1543 417.4,1536 417.7,1529 418.2,1522 419,1515 420.6,1508.4 422.8,1505.3 425,1504 427.6,1503.8 430.2,1503.7 432.8,1503.6 435.4,1503.5 438,1503.5 440.6,1503.5 443.2,1503.5 445.8,1503.6 448.4,1503.6 451,1503.6 453.7,1503.7 456.3,1503.8 458.9,1503.8 461.5,1503.9 464.1,1504 466.7,1504.1 469.3,1504.2 471.9,1504.3 474.5,1504.5 477.1,1504.6 479.7,1504.7 482.3,1504.8 484.9,1505 487.5,1505.1 490.1,1505.2 492.7,1505.4 495.3,1505.5 497.9,1505.6 500.5,1505.8 503.1,1505.9 505.7,1506 508.3,1506.2 510.9,1506.3 513.5,1506.4 516.1,1506.5 518.7,1506.6 521.3,1506.8 523.9,1506.9 526.5,1507 529.1,1507.1 531.7,1507.1 534.3,1507.2 536.9,1507.3 539.5,1507.3 542.1,1507.4 544.7,1507.4 547.3,1507.5 549.9,1507.5 552.5,1507.5 555.1,1507.5 557.7,1507.5 560.3,1507.5 562.9,1507.5 565.5,1507.5 568.1,1507.5 570.7,1507.5 573.3,1507.5 575.9,1507.5 578.5,1507.4 581.1,1507.4 583.7,1507.4 586.3,1507.4 588.9,1507.4 591.6,1507.4 594.2,1507.4 596.8,1507.3 599.4,1507.3 602,1507.3 604.6,1507.3 607.2,1507.3 609.8,1507.2 612.4,1507.2 615,1507.2 617.6,1507.2 620.2,1507.2 622.8,1507.1 625.4,1507.1 628,1507.1 630.6,1507 633.2,1507 635.8,1507 638.4,1507 641,1506.9 643.6,1506.9 646.2,1506.9 648.8,1506.8 651.4,1506.8 654,1506.8 656.6,1506.7 659.2,1506.7 661.8,1506.7 664.4,1506.6 667,1506.6 669.6,1506.6 672.3,1506.5 674.9,1506.5 677.5,1506.4 680.1,1506.4 682.7,1506.4 685.3,1506.3 687.9,1506.3 690.5,1506.2 693.1,1506.2 695.7,1506.2 698.3,1506.1 700.9,1506.1 703.5,1506 706.1,1506 708.7,1506 711.3,1505.9 713.9,1505.9 716.5,1505.8 719.1,1505.7 721.7,1505.7 724.3,1505.6 726.9,1505.5 729.5,1505.4 732.1,1505.4 734.7,1505.3 737.3,1505.2 739.9,1505.1 742.5,1505 745.1,1504.9 747.7,1504.8 750.3,1504.7 752.9,1504.6 755.5,1504.5 758.1,1504.3 760.7,1504.2 763.3,1504.1 765.9,1504 768.5,1503.9 771.1,1503.7 773.7,1503.6 776.3,1503.5 778.9,1503.3 781.5,1503.2 784.1,1503.1 786.7,1502.9 789.3,1502.8 791.9,1502.7 794.5,1502.5 797.1,1502.4 799.7,1502.2 802.3,1502.1 804.9,1502 807.5,1501.8 810.1,1501.7 812.7,1501.5 815.3,1501.4 817.9,1501.2 820.5,1501.1 823.1,1500.9 825.7,1500.8 828.3,1500.6 830.9,1500.5 833.5,1500.4 836.1,1500.2 838.7,1500.1 841.3,1499.9 843.9,1499.8 846.5,1499.7 849.1,1499.5 851.7,1499.4 854.3,1499.2 856.9,1499.1 859.5,1499 862.1,1498.8 864.7,1498.7 867.3,1498.6 869.9,1498.5 872.5,1498.3 875.1,1498.2 877.7,1498.1 880.3,1498 882.9,1497.9 885.5,1497.7 888.1,1497.6 890.7,1497.5 893.3,1497.4 895.9,1497.3 898.5,1497.2 901.1,1497 903.7,1496.9 906.3,1496.8 908.9,1496.7 911.5,1496.6 914.1,1496.5 916.7,1496.3 919.3,1496.2 921.9,1496.1 924.5,1496 927.1,1495.8 929.7,1495.7 932.3,1495.6 934.9,1495.5 937.5,1495.3 940.1,1495.2 942.7,1495.1 945.3,1494.9 947.9,1494.8 950.5,1494.6 953.1,1494.5 955.7,1494.3 958.3,1494.2 960.9,1494 963.5,1493.8 966.1,1493.7 968.7,1493.5 971.3,1493.3 973.9,1493.1 976.5,1492.9 979.1,1492.7 981.7,1492.5 984.3,1492.3 986.9,1492.1 989.5,1491.9 992.1,1491.7 994.7,1491.5 997.3,1491.2 999.9,1491 1002.5,1490.8 1005,1490.5 1007.6,1490.2 1010.2,1489.8 1012.8,1489.5 1015.4,1489.1 1017.9,1488.7 1020.5,1488.2 1023.1,1487.8 1025.6,1487.3 1028.2,1486.8 1030.7,1486.3 1033.3,1485.8 1035.8,1485.3 1038.4,1484.7 1040.9,1484.2 1043.5,1483.6 1046,1483.1 1048.6,1482.5 1051.1,1481.9 1053.6,1481.4 1056.2,1480.8 1058.7,1480.2 1061.3,1479.7 1063.8,1479.1 1066.4,1478.5 1068.9,1478 1071.4,1477.5 1074,1476.9 1076.5,1476.4 1079.1,1475.9 1081.6,1475.4 1084.2,1474.8 1086.7,1474.3 1089.3,1473.8 1091.8,1473.2 1094.4,1472.7 1096.9,1472.2 1099.5,1471.7 1102,1471.1 1104.6,1470.6 1107.1,1470 1109.7,1469.5 1112.2,1468.9 1114.8,1468.4 1117.3,1467.8 1119.8,1467.3 1122.4,1466.7 1124.9,1466.2 1127.5,1465.6 1130,1465 1132.6,1464.5 1135.1,1463.9 1137.6,1463.3 1140.2,1462.8 1142.7,1462.2 1145.3,1461.6 1147.8,1461 1150.3,1460.4 1152.9,1459.8 1155.4,1459.2 1157.9,1458.6 1160.5,1458.1 1163,1457.5 1165.5,1456.9 1168.1,1456.3 1170.6,1455.7 1173.1,1455 1175.7,1454.4 1178.2,1453.8 1180.7,1453.2 1183.2,1452.6 1185.8,1451.9 1188.3,1451.3 1190.8,1450.6 1193.3,1450 1195.8,1449.3 1198.4,1448.6 1200.9,1447.9 1203.4,1447.2 1205.9,1446.5 1208.4,1445.8 1210.9,1445 1213.4,1444.3 1215.9,1443.6 1218.4,1442.9 1220.9,1442.2 1223.4,1441.4 1225.9,1440.6 1228.3,1439.8 1230.8,1438.9 1233.2,1438.1 1235.7,1437.1 1238.1,1436.2 1240.5,1435.1 1242.8,1434 1245.2,1432.9 1247.4,1431.6 1249.7,1430.3 1251.9,1428.9 1254,1427.4 1256.2,1425.9 1258.3,1424.4 1260.3,1422.8 1262.3,1421.2 1264.3,1419.5 1266.3,1417.8 1268.3,1416.1 1270.2,1414.3 1272,1412.5 1273.9,1410.6 1275.7,1408.7 1277.4,1406.8 1279.2,1404.7 1281.2,1402.2 1283.5,1399.3 1285.9,1395.8 1288.4,1391.6 1291,1386.9 1293.6,1381.6 1296,1375.6"/><polyline class="m t" points="1302.3,1359 1304.8,1347.6 1307.4,1329.7 1310,1308 1312.5,1281.2 1316.3,1251.9"/><polyline class="m t" points="418,1395 418.1,1402 418.2,1409 418.3,1416 418.5,1423 418.6,1430 418.7,1437 418.9,1444 419,1451 419.2,1458 419.3,1465 419.5,1472 419.7,1479 419.9,1486 420.1,1493 420.3,1500 420.5,1507 420.8,1514 421,1521 421.3,1528 421.6,1535 421.9,1542 422.2,1549 422.6,1556 423.1,1563 423.6,1570 424.2,1577 424.9,1584 426,1590.9 427.4,1597.7 429.5,1604.3 432,1609.4 434.1,1611.9 436.4,1613.1 439,1613.4 441.5,1613.6 444.1,1613.8 446.7,1613.9 449.3,1614 451.9,1614.1 454.5,1614.2 457.1,1614.3 459.7,1614.4 462.3,1614.5 464.9,1614.5 467.5,1614.6 470.1,1614.7 472.7,1614.8 475.3,1614.8 477.9,1614.9 480.5,1615 483.1,1615.1 485.7,1615.1 488.3,1615.2 490.9,1615.3 493.5,1615.3 496.2,1615.4 498.8,1615.4 501.4,1615.5 504,1615.5 506.6,1615.6 509.2,1615.7 511.8,1615.7 514.4,1615.8 517,1615.8 519.6,1615.9 522.2,1615.9 524.8,1615.9 527.4,1616 530,1616 532.6,1616.1 535.2,1616.1 537.8,1616.2 540.4,1616.2 543,1616.2 545.6,1616.3 548.2,1616.3 550.8,1616.3 553.4,1616.4 556,1616.4 558.6,1616.5 561.2,1616.5 563.8,1616.5 566.4,1616.6 569,1616.6 571.6,1616.6 574.2,1616.7 576.8,1616.7 579.4,1616.7 582,1616.8 584.6,1616.8 587.2,1616.8 589.8,1616.9 592.4,1616.9 595,1616.9 597.6,1616.9 600.2,1617 602.8,1617 605.4,1617 608,1617.1 610.6,1617.1 613.2,1617.1 615.8,1617.2 618.4,1617.2 621,1617.3 623.6,1617.3 626.2,1617.3 628.8,1617.4 631.4,1617.4 634,1617.4 636.6,1617.5 639.2,1617.5 641.8,1617.6 644.4,1617.6 647,1617.6 649.6,1617.7 652.2,1617.7 654.8,1617.8 657.4,1617.8 660,1617.9 662.6,1617.9 665.2,1618 667.8,1618 670.4,1618.1 673,1618.1 675.7,1618.2 678.3,1618.3 680.9,1618.3 683.5,1618.4 686.1,1618.5 688.7,1618.5 691.3,1618.6 693.9,1618.7 696.5,1618.7 699.1,1618.8 701.7,1618.9 704.3,1618.9 706.9,1619 709.5,1619.1 712.1,1619.2 714.7,1619.3 717.3,1619.4 719.9,1619.5 722.5,1619.6 725.1,1619.7 727.7,1619.8 730.3,1619.9 732.9,1620.1 735.5,1620.2 738.1,1620.3 740.7,1620.5 743.3,1620.6 745.8,1620.7 748.4,1620.9 751,1621 753.6,1621.2 756.2,1621.3 758.8,1621.5 761.4,1621.7 764,1621.8 766.6,1622 769.2,1622.2 771.8,1622.3 774.4,1622.5 777,1622.7 779.6,1622.9 782.2,1623.1 784.8,1623.2 787.4,1623.4 790,1623.6 792.6,1623.8 795.2,1624 797.8,1624.2 800.4,1624.4 803,1624.6 805.6,1624.8 808.1,1625 810.7,1625.2 813.3,1625.4 815.9,1625.7 818.5,1625.9 821.1,1626.1 823.7,1626.4 826.3,1626.6 828.9,1626.9 831.5,1627.2 834,1627.5 836.6,1627.7 839.2,1628 841.8,1628.3 844.4,1628.6 847,1628.9 849.6,1629.2 852.1,1629.6 854.7,1629.9 857.3,1630.2 859.9,1630.5 862.5,1630.8 865,1631.2 867.6,1631.5 870.2,1631.8 872.8,1632.2 875.4,1632.5 877.9,1632.8 880.5,1633.2 883.1,1633.5 885.7,1633.9 888.3,1634.2 890.8,1634.5 893.4,1634.9 896,1635.2 898.6,1635.5 901.2,1635.9 903.7,1636.2 906.3,1636.5 908.9,1636.9 911.5,1637.2 914.1,1637.5 916.7,1637.8 919.2,1638.1 921.8,1638.4 924.4,1638.7 927,1639 929.6,1639.3 932.2,1639.6 934.7,1639.9 937.3,1640.2 939.9,1640.5 942.5,1640.8 945.1,1641.1 947.7,1641.4 950.2,1641.7 952.8,1642.1 955.4,1642.4 958,1642.7 960.6,1643 963.2,1643.3 965.7,1643.7 968.3,1644 970.9,1644.4 973.5,1644.7 976.1,1645.1 978.6,1645.5 981.2,1645.8 983.8,1646.2 986.3,1646.6 988.9,1647.1 991.5,1647.5 994,1647.9 996.6,1648.4 999.2,1648.8 1001.7,1649.3 1004.3,1649.9 1006.8,1650.4 1009.3,1651 1011.9,1651.6 1014.4,1652.3 1016.9,1652.9 1019.4,1653.6 1021.9,1654.3 1024.4,1655 1026.9,1655.8 1029.4,1656.5 1031.9,1657.3 1034.4,1658.1 1036.9,1658.9 1039.3,1659.6 1041.8,1660.4 1044.3,1661.2 1046.8,1662 1049.3,1662.8 1051.8,1663.5 1054.2,1664.3 1056.7,1665 1059.2,1665.8 1061.7,1666.5 1064.2,1667.2 1066.7,1668 1069.2,1668.7 1071.7,1669.4 1074.2,1670.2 1076.7,1670.9 1079.2,1671.7 1081.7,1672.4 1084.2,1673.2 1086.7,1673.9 1089.2,1674.7 1091.6,1675.4 1094.1,1676.2 1096.6,1676.9 1099.1,1677.7 1101.6,1678.4 1104.1,1679.2 1106.6,1679.9 1109.1,1680.7 1111.6,1681.4 1114.1,1682.2 1116.6,1682.9 1119,1683.7 1121.6,1684.4 1124.1,1685 1126.6,1685.6 1129.1,1686.3 1131.7,1686.9 1134.2,1687.6 1136.7,1688.2 1139.2,1689 1141.6,1689.8 1144.1,1690.8 1146.4,1691.9 1148.7,1693.1 1150.8,1694.6 1152.8,1696.3 1154.7,1698.1 1156.4,1700 1158.3,1702.2 1160.4,1704.8 1162.6,1707.8 1164.9,1710.9 1167.1,1714 1169.3,1716.8 1171.3,1719.3 1173.1,1721.3 1174.9,1723.2 1176.8,1725 1178.7,1726.8 1180.7,1728.5 1182.6,1730.2 1184.6,1731.8 1186.6,1733.5 1188.7,1735.1 1190.7,1736.7 1192.8,1738.3 1194.8,1739.9 1196.9,1741.5 1199,1743 1201.1,1744.6 1203.2,1746.1 1205.3,1747.7 1207.4,1749.2 1209.5,1750.7 1211.6,1752.2 1213.8,1753.6 1216,1755.1 1218.1,1756.5 1220.3,1757.9 1222.5,1759.4 1224.6,1760.8 1226.8,1762.3 1228.9,1763.8 1231,1765.3 1233,1766.9 1235.1,1768.6 1237,1770.3 1239,1772 1241,1773.7 1242.9,1775.5 1244.8,1777.2 1246.6,1779 1248.5,1780.9 1250.3,1782.8 1252,1784.8 1253.9,1787.1 1256.2,1790.1 1258.5,1793.5 1261,1797.4 1263.6,1802 1266.2,1807.4 1268.5,1813.7 1270.4,1820.4 1272.2,1827.2 1274,1834 1275.7,1840.8 1277.3,1847.6"/><polyline class="m t" points="1280.2,1865.2 1283.2,1884.2 1286,1906.2 1290.5,1940 1292.8,1969.3 1294.9,1995.7"/><polyline class="m p" points="417,1545 417.1,1538 417.4,1531 417.8,1524 418.2,1517 418.8,1510.1 420,1503.2 422.3,1499 424.2,1497.3 426.8,1496.7 429.3,1496.4 431.9,1496.2 434.5,1496.1 437.1,1496 439.7,1496 442.3,1496 444.9,1496 447.5,1496.1 450.1,1496.1 452.7,1496.2 455.3,1496.2 457.9,1496.3 460.5,1496.4 463.1,1496.5 465.7,1496.6 468.3,1496.7 470.9,1496.8 473.5,1496.9 476.1,1497 478.7,1497.1 481.3,1497.3 483.9,1497.4 486.5,1497.5 489.1,1497.7 491.7,1497.8 494.3,1497.9 496.9,1498.1 499.5,1498.2 502.1,1498.3 504.7,1498.5 507.3,1498.6 509.8,1498.7 512.4,1498.9 515,1499 517.6,1499.1 520.2,1499.2 522.8,1499.3 525.4,1499.4 528,1499.5 530.6,1499.6 533.2,1499.7 535.8,1499.8 538.4,1499.8 541,1499.9 543.6,1499.9 546.2,1500 548.8,1500 551.4,1500 554,1500 556.6,1500 559.2,1500 561.8,1500 564.4,1500 567,1500 569.6,1500 572.2,1500 574.8,1500 577.4,1500 580,1500 582.6,1500 585.2,1499.9 587.8,1499.9 590.4,1499.9 593,1499.9 595.6,1499.9 598.2,1499.9 600.8,1499.9 603.4,1499.9 606,1499.9 608.6,1499.9 611.2,1499.8 613.8,1499.8 616.4,1499.8 619,1499.8 621.6,1499.8 624.2,1499.8 626.8,1499.7 629.4,1499.7 632,1499.7 634.6,1499.7 637.2,1499.7 639.8,1499.7 642.4,1499.6 645,1499.6 647.6,1499.6 650.2,1499.6 652.8,1499.5 655.4,1499.5 658,1499.5 660.6,1499.5 663.2,1499.5 665.8,1499.4 668.4,1499.4 671,1499.4 673.6,1499.4 676.2,1499.3 678.8,1499.3 681.4,1499.3 684,1499.2 686.6,1499.2 689.2,1499.2 691.8,1499.2 694.4,1499.1 697,1499.1 699.6,1499.1 702.2,1499 704.8,1499 707.4,1499 710,1498.9 712.6,1498.9 715.2,1498.8 717.7,1498.8 720.3,1498.7 722.9,1498.6 725.5,1498.6 728.1,1498.5 730.7,1498.4 733.3,1498.3 735.9,1498.2 738.5,1498.1 741.1,1498 743.7,1497.9 746.3,1497.7 748.9,1497.6 751.5,1497.5 754.1,1497.3 756.7,1497.2 759.3,1497 761.9,1496.9 764.5,1496.7 767.1,1496.6 769.7,1496.4 772.3,1496.3 774.9,1496.1 777.5,1495.9 780,1495.8 782.6,1495.6 785.2,1495.4 787.8,1495.2 790.4,1495 793,1494.9 795.6,1494.7 798.2,1494.5 800.8,1494.3 803.4,1494.1 806,1493.9 808.6,1493.7 811.2,1493.5 813.8,1493.3 816.3,1493.1 818.9,1492.9 821.5,1492.7 824.1,1492.5 826.7,1492.3 829.3,1492.2 831.9,1492 834.5,1491.8 837.1,1491.6 839.7,1491.4 842.3,1491.2 844.9,1491 847.4,1490.8 850,1490.6 852.6,1490.4 855.2,1490.3 857.8,1490.1 860.4,1489.9 863,1489.7 865.6,1489.6 868.2,1489.4 870.8,1489.2 873.4,1489 876,1488.9 878.6,1488.7 881.2,1488.5 883.8,1488.3 886.3,1488.2 888.9,1488 891.5,1487.8 894.1,1487.7 896.7,1487.5 899.3,1487.3 901.9,1487.1 904.5,1487 907.1,1486.8 909.7,1486.6 912.3,1486.4 914.9,1486.3 917.5,1486.1 920.1,1485.9 922.6,1485.7 925.2,1485.5 927.8,1485.3 930.4,1485.1 933,1484.9 935.6,1484.7 938.2,1484.5 940.8,1484.3 943.4,1484.1 946,1483.9 948.6,1483.7 951.2,1483.5 953.7,1483.3 956.3,1483 958.9,1482.8 961.5,1482.6 964.1,1482.3 966.7,1482.1 969.3,1481.9 971.9,1481.6 974.4,1481.3 977,1481.1 979.6,1480.8 982.2,1480.5 984.8,1480.3 987.4,1480 990,1479.7 992.5,1479.4 995.1,1479.1 997.7,1478.8 1000.3,1478.5 1002.9,1478.1 1005.4,1477.8 1008,1477.4 1010.6,1477 1013.1,1476.6 1015.7,1476.1 1018.2,1475.6 1020.8,1475.1 1023.3,1474.6 1025.9,1474.1 1028.4,1473.6 1031,1473.1 1033.5,1472.5 1036.1,1471.9 1038.6,1471.3 1041.1,1470.8 1043.7,1470.2 1046.2,1469.6 1048.7,1469 1051.2,1468.4 1053.8,1467.7 1056.3,1467.1 1058.8,1466.5 1061.3,1465.9 1063.9,1465.3 1066.4,1464.7 1068.9,1464.1 1071.5,1463.5 1074,1462.9 1076.5,1462.3 1079,1461.7 1081.6,1461.2 1084.1,1460.6 1086.7,1460 1089.2,1459.5 1091.7,1458.9 1094.3,1458.4 1096.8,1457.8 1099.3,1457.2 1101.9,1456.6 1104.4,1456 1106.9,1455.4 1109.5,1454.8 1112,1454.2 1114.5,1453.5 1117,1452.8 1119.5,1452.1 1122,1451.4 1124.5,1450.6 1127,1449.8 1129.4,1449 1131.9,1448.1 1134.3,1447.2 1136.7,1446.2 1139.1,1445.2 1141.5,1444.1 1143.8,1443 1146.2,1441.9 1148.5,1440.7 1150.8,1439.6 1153.1,1438.4 1155.4,1437.2 1157.7,1435.9 1160,1434.7 1162.2,1433.4 1164.5,1432.1 1166.8,1430.8 1169,1429.5 1171.3,1428.2 1173.5,1426.9 1175.8,1425.6 1178,1424.3 1180.3,1423 1182.5,1421.7 1184.7,1420.4 1187,1419 1189.2,1417.7 1191.4,1416.3 1193.6,1414.9 1195.8,1413.5 1197.9,1412.1 1200.1,1410.6 1202.3,1409.2 1204.4,1407.7 1206.5,1406.2 1208.6,1404.7 1210.7,1403.2 1212.8,1401.6 1214.9,1400.1 1217,1398.5 1219,1396.9 1221,1395.2 1223,1393.6 1225,1391.9 1227,1390.2 1228.9,1388.5 1230.9,1386.8 1232.8,1385 1234.7,1383.2 1236.5,1381.4 1238.4,1379.6 1240.2,1377.7 1242,1375.9 1243.8,1374 1245.6,1372.1 1247.4,1370.2 1249.1,1368.3 1250.9,1366.3 1252.6,1364.4 1254.4,1362.3 1256.4,1359.9 1258.4,1357.4 1260.6,1354.5 1262.9,1351.2 1265.4,1347.4 1268,1343.2 1270.5,1338.5 1273.1,1333.4 1275.7,1327.8 1278.1,1321.8 1280.4,1315.3 1282.5,1308.6 1284.3,1301.9 1286,1295.1 1287.6,1288.3 1289,1281.4 1290.2,1274.5 1291.3,1267.6 1292.3,1260.7 1293.2,1253.8 1293.9,1246.8"/><polyline class="m p" points="417,1410 417.1,1417 417.2,1424 417.4,1431 417.5,1438 417.7,1445 417.8,1452 418,1459 418.1,1466 418.3,1473 418.5,1480 418.7,1487 418.9,1494 419.1,1501 419.4,1508 419.6,1515 419.9,1522 420.2,1528.9 420.4,1535.9 420.7,1542.9 421.1,1549.9 421.4,1556.9 421.8,1563.9 422.3,1570.9 422.8,1577.9 423.5,1584.8 424.3,1591.8 425.5,1598.7 427.1,1605.5 429.5,1611.5 432,1615.3 433.9,1617.1 436.4,1617.7 439,1618 441.6,1618.2 444.2,1618.3 446.8,1618.4 449.4,1618.5 452,1618.6 454.6,1618.7 457.2,1618.8 459.8,1618.9 462.4,1618.9 465,1619 467.6,1619.1 470.2,1619.2 472.8,1619.3 475.4,1619.4 478,1619.5 480.6,1619.6 483.2,1619.7 485.8,1619.8 488.4,1619.8 491,1619.9 493.6,1620 496.2,1620.1 498.8,1620.1 501.4,1620.2 504,1620.3 506.5,1620.3 509.1,1620.4 511.7,1620.5 514.3,1620.5 516.9,1620.6 519.5,1620.7 522.1,1620.7 524.7,1620.8 527.3,1620.9 529.9,1620.9 532.5,1621 535.1,1621.1 537.7,1621.1 540.3,1621.2 542.9,1621.2 545.5,1621.3 548.1,1621.4 550.7,1621.4 553.3,1621.5 555.9,1621.6 558.5,1621.6 561.1,1621.7 563.7,1621.8 566.3,1621.8 568.9,1621.9 571.5,1621.9 574.1,1622 576.7,1622 579.3,1622.1 581.9,1622.1 584.5,1622.2 587.1,1622.3 589.7,1622.3 592.3,1622.4 594.9,1622.4 597.5,1622.4 600.1,1622.5 602.7,1622.5 605.3,1622.6 607.9,1622.6 610.5,1622.7 613.1,1622.7 615.7,1622.8 618.3,1622.8 620.9,1622.9 623.5,1622.9 626.1,1623 628.7,1623 631.3,1623.1 633.9,1623.1 636.5,1623.2 639.1,1623.2 641.7,1623.3 644.3,1623.3 646.9,1623.4 649.5,1623.4 652.1,1623.5 654.7,1623.5 657.3,1623.6 659.9,1623.7 662.5,1623.7 665.1,1623.8 667.7,1623.8 670.3,1623.9 672.9,1624 675.5,1624 678.1,1624.1 680.7,1624.2 683.3,1624.3 685.9,1624.3 688.5,1624.4 691.1,1624.5 693.7,1624.6 696.3,1624.7 698.9,1624.7 701.5,1624.8 704.1,1624.9 706.7,1625 709.3,1625.1 711.9,1625.2 714.5,1625.3 717.1,1625.5 719.7,1625.6 722.3,1625.7 724.9,1625.9 727.5,1626 730,1626.2 732.6,1626.3 735.2,1626.5 737.8,1626.7 740.4,1626.9 743,1627 745.6,1627.2 748.2,1627.4 750.8,1627.6 753.4,1627.8 756,1628 758.6,1628.2 761.2,1628.5 763.8,1628.7 766.3,1628.9 768.9,1629.1 771.5,1629.4 774.1,1629.6 776.7,1629.8 779.3,1630.1 781.9,1630.3 784.5,1630.6 787,1630.8 789.6,1631.1 792.2,1631.4 794.8,1631.6 797.4,1631.9 800,1632.2 802.6,1632.4 805.2,1632.7 807.7,1633 810.3,1633.3 812.9,1633.5 815.5,1633.8 818.1,1634.1 820.7,1634.5 823.2,1634.8 825.8,1635.1 828.4,1635.5 831,1635.8 833.5,1636.2 836.1,1636.5 838.7,1636.9 841.3,1637.3 843.8,1637.7 846.4,1638.1 849,1638.5 851.5,1638.9 854.1,1639.3 856.7,1639.7 859.2,1640.2 861.8,1640.6 864.3,1641.1 866.9,1641.5 869.5,1642 872,1642.4 874.6,1642.9 877.1,1643.4 879.7,1643.9 882.2,1644.4 884.8,1644.8 887.4,1645.3 889.9,1645.9 892.5,1646.4 895,1646.9 897.5,1647.4 900.1,1647.9 902.6,1648.4 905.2,1649 907.7,1649.5 910.3,1650.1 912.8,1650.6 915.3,1651.2 917.9,1651.7 920.4,1652.3 922.9,1652.9 925.5,1653.5 928,1654.2 930.5,1654.8 933,1655.4 935.5,1656.1 938.1,1656.8 940.6,1657.5 943.1,1658.2 945.6,1658.9 948,1659.7 950.5,1660.5 953,1661.3 955.5,1662.1 957.9,1662.9 960.4,1663.8 962.8,1664.7 965.3,1665.6 967.7,1666.6 970.1,1667.6 972.4,1668.7 974.8,1669.8 977.1,1670.9 979.5,1672 981.8,1673.2 984.1,1674.4 986.4,1675.6 988.7,1676.8 991,1678 993.3,1679.3 995.5,1680.5 997.8,1681.8 1000.1,1683.1 1002.4,1684.3 1004.6,1685.6 1006.8,1687 1009,1688.4 1011.2,1689.8 1013.4,1691.2 1015.6,1692.6 1017.7,1694.1 1019.9,1695.5 1022,1697 1024.2,1698.4 1026.3,1699.9 1028.5,1701.3 1030.7,1702.8 1032.8,1704.2 1035,1705.6 1037.2,1707 1039.5,1708.3 1041.7,1709.7 1043.9,1711 1046.2,1712.2 1048.5,1713.5 1050.8,1714.7 1053.1,1715.8 1055.5,1717 1057.8,1718.1 1060.1,1719.3 1062.5,1720.4 1064.8,1721.5 1067.2,1722.6 1069.5,1723.7 1071.9,1724.9 1074.2,1726 1076.6,1727.1 1078.9,1728.3 1081.2,1729.4 1083.5,1730.6 1085.8,1731.8 1088.1,1733.1 1090.4,1734.3 1092.7,1735.5 1095,1736.8 1097.3,1738 1099.6,1739.2 1101.9,1740.4 1104.1,1741.7 1106.4,1742.9 1108.7,1744.2 1111,1745.5 1113.2,1746.8 1115.5,1748.1 1117.7,1749.4 1119.9,1750.8 1122.1,1752.2 1124.2,1753.7 1126.3,1755.2 1128.4,1756.7 1130.5,1758.3 1132.5,1759.9 1134.5,1761.6 1136.5,1763.2 1138.5,1764.9 1140.5,1766.6 1142.5,1768.3 1144.4,1770.1 1146.3,1771.9 1148.1,1773.7 1149.9,1775.6 1151.7,1777.6 1153.8,1780.3 1156.2,1784.1 1158.7,1789.6 1160.1,1796.5 1161.1,1803.4 1163,1809.8 1165,1812 1167.2,1813.5 1169.4,1814.7 1171.8,1815.8 1174.2,1816.9 1176.5,1817.9 1178.9,1819.1 1181.1,1820.4 1183.2,1821.9 1185.3,1823.5 1187.3,1825.1 1189.3,1826.8 1191.2,1828.6 1193.1,1830.3 1195,1832.1 1196.9,1833.9 1198.8,1835.7 1200.7,1837.4 1202.6,1839.2 1204.6,1840.9 1206.5,1842.7 1208.5,1844.4 1210.4,1846.1 1212.4,1847.8 1214.4,1849.4 1216.4,1851.1 1218.3,1852.8 1220.3,1854.5 1222.3,1856.2 1224.2,1857.9 1226.2,1859.7 1228.1,1861.4 1230,1863.2 1231.9,1864.9 1233.9,1866.6 1235.9,1868.3 1237.8,1870 1239.8,1871.7 1241.7,1873.5 1243.6,1875.2 1245.5,1877 1247.3,1878.9 1249.1,1881.1 1251.4,1884.2 1254,1888.8 1256.5,1894.6 1258.8,1900.9 1260.9,1907.6 1262.9,1914.3 1264.9,1921 1266.9,1927.7 1268.7,1934.5 1270.5,1941.3 1272.3,1948 1274.2,1954.8 1276.2,1961.5 1278.2,1968.2 1279.8,1975 1281.2,1981.9 1282.3,1988.8 1283.2,1995.7"/><polyline class="m o" points="417,1540 417.2,1533 417.6,1526 418.1,1519 418.6,1512.1 419.5,1505.1 421.7,1500 423.6,1498.1 426,1497.4 428.6,1497.1 431.2,1497 433.8,1496.9 436.4,1496.8 439,1496.8 441.6,1496.8 444.2,1496.8 446.8,1496.9 449.4,1496.9 452,1497 454.6,1497 457.2,1497.1 459.8,1497.2 462.4,1497.2 465,1497.3 467.6,1497.4 470.2,1497.5 472.8,1497.6 475.4,1497.7 478,1497.9 480.6,1498 483.2,1498.1 485.8,1498.2 488.4,1498.3 491,1498.5 493.6,1498.6 496.2,1498.7 498.8,1498.9 501.4,1499 504,1499.1 506.6,1499.2 509.2,1499.4 511.8,1499.5 514.3,1499.6 516.9,1499.7 519.5,1499.8 522.1,1499.9 524.7,1500 527.3,1500.1 529.9,1500.2 532.5,1500.3 535.1,1500.4 537.7,1500.4 540.3,1500.5 542.9,1500.5 545.5,1500.6 548.1,1500.6 550.7,1500.6 553.3,1500.6 555.9,1500.6 558.5,1500.6 561.1,1500.6 563.7,1500.6 566.3,1500.6 568.9,1500.6 571.5,1500.5 574.1,1500.5 576.7,1500.5 579.3,1500.5 581.9,1500.5 584.5,1500.5 587.1,1500.4 589.7,1500.4 592.3,1500.4 594.9,1500.4 597.5,1500.3 600.1,1500.3 602.7,1500.3 605.3,1500.2 607.9,1500.2 610.5,1500.1 613.1,1500.1 615.7,1500.1 618.3,1500 620.9,1500 623.5,1499.9 626.1,1499.9 628.7,1499.8 631.3,1499.8 633.9,1499.7 636.5,1499.7 639.1,1499.6 641.7,1499.6 644.3,1499.5 646.9,1499.5 649.5,1499.4 652.1,1499.4 654.7,1499.3 657.3,1499.2 659.9,1499.2 662.5,1499.1 665.1,1499.1 667.7,1499 670.3,1498.9 672.9,1498.9 675.5,1498.8 678.1,1498.7 680.7,1498.7 683.3,1498.6 685.9,1498.5 688.5,1498.5 691.1,1498.4 693.7,1498.3 696.3,1498.3 698.9,1498.2 701.5,1498.1 704.1,1498.1 706.7,1498 709.3,1497.9 711.9,1497.8 714.5,1497.7 717.1,1497.6 719.7,1497.5 722.3,1497.4 724.9,1497.3 727.5,1497.2 730.1,1497.1 732.7,1496.9 735.3,1496.8 737.9,1496.7 740.5,1496.5 743,1496.4 745.6,1496.2 748.2,1496.1 750.8,1495.9 753.4,1495.7 756,1495.6 758.6,1495.4 761.2,1495.2 763.8,1495 766.4,1494.8 769,1494.7 771.6,1494.5 774.2,1494.3 776.8,1494.1 779.4,1493.9 781.9,1493.6 784.5,1493.4 787.1,1493.2 789.7,1493 792.3,1492.8 794.9,1492.6 797.5,1492.3 800.1,1492.1 802.7,1491.9 805.3,1491.7 807.9,1491.4 810.4,1491.2 813,1491 815.6,1490.7 818.2,1490.5 820.8,1490.2 823.4,1490 826,1489.8 828.6,1489.5 831.1,1489.3 833.7,1489 836.3,1488.8 838.9,1488.5 841.5,1488.3 844.1,1488 846.7,1487.8 849.3,1487.5 851.9,1487.3 854.4,1487 857,1486.8 859.6,1486.5 862.2,1486.3 864.8,1486 867.4,1485.8 870,1485.5 872.6,1485.3 875.1,1485 877.7,1484.7 880.3,1484.5 882.9,1484.2 885.5,1483.9 888.1,1483.6 890.7,1483.4 893.2,1483.1 895.8,1482.8 898.4,1482.5 901,1482.2 903.6,1481.9 906.1,1481.6 908.7,1481.3 911.3,1481 913.9,1480.7 916.5,1480.4 919.1,1480 921.6,1479.7 924.2,1479.4 926.8,1479.1 929.4,1478.7 931.9,1478.4 934.5,1478 937.1,1477.7 939.7,1477.4 942.3,1477 944.8,1476.6 947.4,1476.3 950,1475.9 952.6,1475.6 955.1,1475.2 957.7,1474.8 960.3,1474.4 962.8,1474 965.4,1473.7 968,1473.3 970.6,1472.9 973.1,1472.5 975.7,1472.1 978.3,1471.7 980.8,1471.2 983.4,1470.8 986,1470.4 988.5,1470 991.1,1469.5 993.6,1469.1 996.2,1468.7 998.8,1468.2 1001.3,1467.8 1003.9,1467.3 1006.4,1466.8 1009,1466.3 1011.5,1465.8 1014.1,1465.3 1016.6,1464.7 1019.2,1464.2 1021.7,1463.6 1024.2,1463.1 1026.8,1462.5 1029.3,1461.9 1031.8,1461.3 1034.4,1460.7 1036.9,1460 1039.4,1459.4 1041.9,1458.8 1044.5,1458.1 1047,1457.5 1049.5,1456.8 1052,1456.2 1054.5,1455.5 1057,1454.8 1059.5,1454.2 1062,1453.5 1064.6,1452.8 1067.1,1452.1 1069.6,1451.5 1072.1,1450.8 1074.6,1450.1 1077.1,1449.4 1079.6,1448.8 1082.1,1448.1 1084.6,1447.4 1087.2,1446.7 1089.7,1446 1092.2,1445.3 1094.7,1444.6 1097.2,1443.9 1099.7,1443.2 1102.2,1442.5 1104.7,1441.8 1107.2,1441 1109.6,1440.3 1112.1,1439.5 1114.6,1438.7 1117.1,1437.9 1119.5,1437.1 1122,1436.3 1124.5,1435.4 1126.9,1434.5 1129.4,1433.7 1131.8,1432.8 1134.2,1431.8 1136.6,1430.9 1139.1,1429.9 1141.5,1429 1143.9,1428 1146.3,1427 1148.7,1425.9 1151,1424.9 1153.4,1423.8 1155.8,1422.7 1158.1,1421.7 1160.5,1420.5 1162.8,1419.4 1165.2,1418.3 1167.5,1417.1 1169.8,1415.9 1172.1,1414.8 1174.4,1413.5 1176.7,1412.3 1179,1411.1 1181.3,1409.8 1183.6,1408.6 1185.8,1407.3 1188.1,1406 1190.3,1404.6 1192.5,1403.3 1194.8,1401.9 1197,1400.6 1199.1,1399.2 1201.3,1397.7 1203.4,1396.2 1205.6,1394.8 1207.7,1393.2 1209.7,1391.6 1211.8,1390 1213.8,1388.4 1215.8,1386.7 1217.7,1385 1219.6,1383.2 1221.4,1381.3 1223.2,1379.5 1225,1377.5 1226.7,1375.5 1228.6,1373.3 1230.6,1370.8 1232.7,1368.2 1234.9,1365.3 1237.1,1362.3 1239.4,1359.2 1241.7,1356 1244,1352.8 1246.3,1349.6 1248.7,1346.1 1251.1,1342.5 1253.6,1338.7 1256.2,1334.5 1258.8,1329.8 1261.3,1324.6 1263.9,1319 1266.3,1313 1268.6,1306.7 1270.9,1300.2 1273,1293.5 1274.9,1286.8 1276.8,1280 1278.8,1273.3 1280.6,1266.5 1282.5,1259.8 1284.7,1253.2 1287,1246.8"/><polyline class="m o" points="419,1415 419.1,1422 419.3,1429 419.4,1436 419.6,1443 419.8,1450 419.9,1457 420.1,1464 420.3,1471 420.5,1478 420.7,1485 420.9,1492 421.1,1499 421.3,1506 421.5,1513 421.8,1520 422.1,1527 422.4,1534 422.7,1541 423,1548 423.3,1554.9 423.7,1561.9 424.2,1568.9 424.7,1575.9 425.2,1582.9 425.9,1589.9 426.8,1596.8 428.1,1603.7 430.3,1609.8 432.5,1612.8 434.3,1614.6 436.6,1615.9 439.1,1616.4 441.7,1616.7 444.3,1616.9 446.9,1617.1 449.5,1617.3 452.1,1617.5 454.7,1617.7 457.3,1617.9 459.9,1618.1 462.5,1618.3 465,1618.5 467.6,1618.7 470.2,1618.8 472.8,1619 475.4,1619.2 478,1619.4 480.6,1619.5 483.2,1619.7 485.8,1619.9 488.4,1620 491,1620.2 493.6,1620.3 496.2,1620.5 498.8,1620.6 501.4,1620.8 504,1620.9 506.6,1621.1 509.2,1621.2 511.8,1621.4 514.4,1621.5 517,1621.7 519.6,1621.8 522.2,1622 524.7,1622.1 527.3,1622.3 529.9,1622.4 532.5,1622.6 535.1,1622.7 537.7,1622.9 540.3,1623 542.9,1623.2 545.5,1623.3 548.1,1623.5 550.7,1623.7 553.3,1623.8 555.9,1624 558.5,1624.2 561.1,1624.3 563.7,1624.5 566.3,1624.6 568.9,1624.8 571.5,1625 574.1,1625.1 576.7,1625.3 579.3,1625.4 581.8,1625.6 584.4,1625.7 587,1625.9 589.6,1626.1 592.2,1626.2 594.8,1626.4 597.4,1626.5 600,1626.7 602.6,1626.8 605.2,1627 607.8,1627.1 610.4,1627.3 613,1627.4 615.6,1627.6 618.2,1627.8 620.8,1627.9 623.4,1628.1 626,1628.2 628.6,1628.4 631.2,1628.5 633.8,1628.7 636.4,1628.9 639,1629 641.5,1629.2 644.1,1629.4 646.7,1629.5 649.3,1629.7 651.9,1629.9 654.5,1630 657.1,1630.2 659.7,1630.4 662.3,1630.6 664.9,1630.8 667.5,1630.9 670.1,1631.1 672.7,1631.3 675.3,1631.5 677.9,1631.7 680.5,1631.9 683.1,1632.1 685.6,1632.3 688.2,1632.5 690.8,1632.7 693.4,1632.9 696,1633.1 698.6,1633.4 701.2,1633.6 703.8,1633.8 706.4,1634 709,1634.3 711.6,1634.5 714.1,1634.7 716.7,1635 719.3,1635.3 721.9,1635.5 724.5,1635.8 727.1,1636.1 729.7,1636.3 732.3,1636.6 734.8,1636.9 737.4,1637.2 740,1637.5 742.6,1637.8 745.2,1638.1 747.8,1638.4 750.3,1638.7 752.9,1639 755.5,1639.3 758.1,1639.7 760.7,1640 763.2,1640.3 765.8,1640.7 768.4,1641 771,1641.3 773.5,1641.7 776.1,1642.1 778.7,1642.4 781.3,1642.8 783.8,1643.1 786.4,1643.5 789,1643.9 791.6,1644.2 794.1,1644.6 796.7,1645 799.3,1645.4 801.9,1645.8 804.4,1646.2 807,1646.5 809.6,1646.9 812.1,1647.3 814.7,1647.7 817.3,1648.2 819.8,1648.6 822.4,1649 825,1649.4 827.5,1649.9 830.1,1650.3 832.7,1650.8 835.2,1651.2 837.8,1651.7 840.3,1652.1 842.9,1652.6 845.4,1653.1 848,1653.6 850.6,1654.1 853.1,1654.6 855.7,1655.1 858.2,1655.6 860.8,1656.1 863.3,1656.6 865.9,1657.1 868.4,1657.6 871,1658.2 873.5,1658.7 876,1659.2 878.6,1659.8 881.1,1660.3 883.7,1660.9 886.2,1661.5 888.7,1662 891.3,1662.6 893.8,1663.2 896.3,1663.8 898.9,1664.4 901.4,1664.9 903.9,1665.5 906.5,1666.1 909,1666.8 911.5,1667.4 914.1,1668 916.6,1668.6 919.1,1669.3 921.6,1669.9 924.1,1670.6 926.6,1671.3 929.1,1671.9 931.7,1672.6 934.2,1673.3 936.7,1674 939.2,1674.7 941.7,1675.5 944.2,1676.2 946.7,1676.9 949.1,1677.7 951.6,1678.4 954.1,1679.2 956.6,1680 959.1,1680.7 961.6,1681.5 964,1682.3 966.5,1683.1 969,1683.9 971.5,1684.7 973.9,1685.5 976.4,1686.3 978.9,1687.2 981.3,1688 983.8,1688.8 986.3,1689.7 988.7,1690.5 991.2,1691.4 993.6,1692.2 996.1,1693.1 998.5,1694 1001,1694.8 1003.4,1695.7 1005.9,1696.7 1008.3,1697.6 1010.7,1698.5 1013.1,1699.5 1015.5,1700.4 1017.9,1701.4 1020.3,1702.4 1022.7,1703.4 1025.1,1704.4 1027.5,1705.5 1029.9,1706.5 1032.3,1707.5 1034.7,1708.5 1037.1,1709.6 1039.5,1710.6 1041.8,1711.7 1044.2,1712.7 1046.6,1713.7 1049,1714.8 1051.4,1715.9 1053.7,1716.9 1056.1,1718 1058.5,1719.1 1060.8,1720.2 1063.2,1721.3 1065.5,1722.4 1067.9,1723.5 1070.2,1724.6 1072.6,1725.7 1074.9,1726.8 1077.3,1728 1079.6,1729.1 1082,1730.2 1084.3,1731.3 1086.7,1732.4 1089.1,1733.5 1091.4,1734.6 1093.8,1735.6 1096.2,1736.7 1098.6,1737.7 1100.9,1738.7 1103.3,1739.8 1105.7,1740.8 1108.1,1741.8 1110.5,1742.9 1112.9,1743.9 1115.2,1745 1117.6,1746.1 1119.9,1747.2 1122.3,1748.4 1124.6,1749.5 1126.9,1750.8 1129.2,1752 1131.4,1753.3 1133.6,1754.7 1135.8,1756.1 1138,1757.6 1140.1,1759.1 1142.2,1760.6 1144.2,1762.2 1146.3,1763.8 1148.3,1765.4 1150.3,1767.1 1152.3,1768.8 1154.2,1770.5 1156.2,1772.2 1158.1,1774 1160,1775.7 1161.9,1777.5 1163.8,1779.3 1165.7,1781.1 1167.5,1782.9 1169.3,1784.8 1171.1,1786.7 1172.9,1788.6 1174.7,1790.5 1176.4,1792.4 1178.2,1794.3 1179.9,1796.4 1181.7,1798.5 1183.6,1800.7 1185.5,1803 1187.5,1805.4 1189.6,1808 1191.6,1810.6 1193.9,1813.7 1196.3,1817.2 1198.8,1820.9 1201.3,1824.8 1203.7,1828.6 1206.1,1832.1 1208.4,1835.2 1210.5,1837.8 1212.3,1840 1214.1,1841.9 1215.9,1843.8 1217.7,1845.6 1219.6,1847.4 1221.5,1849.2 1223.5,1850.9 1225.5,1852.4 1227.7,1853.9 1229.9,1855.3 1232,1856.8 1234,1858.5 1235.8,1860.6 1238,1863.5 1240.5,1867.3 1243,1872 1245.6,1877.3 1248.1,1882.9 1250.7,1888.6 1253.1,1894.6 1255.5,1900.8 1257.7,1907.3 1259.9,1913.9 1262,1920.6 1264,1927.3 1265.9,1934.1 1267.6,1940.9 1269.4,1947.6 1271,1954.4 1272.6,1961.3 1274.1,1968.1 1275.5,1975 1276.7,1981.9 1277.8,1988.8 1278.8,1995.7"/>
<polyline class="dk" points="1892.2,1296 1895.8,1312.5 1899.3,1315.5 1902.9,1315.7 1906.5,1315.7 1910.1,1316.2 1913.7,1317.4 1917.2,1317.7 1920.8,1318.3 1924.4,1318.5 1928,1319.4 1931.6,1319.5 1935.1,1319.9 1938.7,1320.8 1942.3,1321 1945.9,1321.6 1949.5,1322.7 1953,1322.7 1956.6,1323.6 1960.2,1324 1963.8,1324.6 1967.4,1324.8 1970.9,1325.6 1974.5,1326.1 1978.1,1325.8 1981.7,1325.8 1985.3,1326.5 1988.8,1326.7 1992.4,1326.7 1996,1326.4 1999.6,1326.1 2003.2,1326.1 2006.7,1325.6 2010.3,1325.4 2013.9,1325.6 2017.5,1325.7 2021,1324.9 2024.6,1324.7 2028.2,1324.6 2031.8,1324.5 2035.4,1324.1 2038.9,1323.8 2042.5,1323.7 2046.1,1323.4 2049.7,1323 2053.3,1322.5 2056.8,1322.7 2060.4,1322.9 2064,1322.8 2067.6,1322.6 2071.2,1322.7 2074.7,1322.6 2078.3,1322.2 2081.9,1322.6 2085.5,1322.1 2089.1,1322.1 2092.6,1321.7 2096.2,1321.5 2099.8,1321.5 2103.4,1322.2 2107,1323.3 2110.5,1323.7 2114.1,1324.8 2117.7,1325.3 2121.3,1326.3 2124.9,1326.9 2128.4,1327.8 2132,1328.2 2135.6,1328 2139.2,1329.3 2142.8,1329.4 2146.3,1329.9 2149.9,1330.4 2153.5,1330.9 2157.1,1331 2160.7,1331.8 2164.2,1332 2167.8,1332.1 2171.4,1332.4 2175,1332.7 2178.6,1332.9 2182.1,1332.7 2185.7,1333.3 2189.3,1332.7 2192.9,1333.2 2196.5,1333.6 2200,1333.7 2203.6,1334.4 2207.2,1333.9 2210.8,1334.3 2214.4,1334.6 2217.9,1335.1 2221.5,1334.9 2225.1,1335.3 2228.7,1335.6 2232.3,1335.3 2235.8,1335.6 2239.4,1335.9 2243,1335.7 2246.6,1336.1 2250.1,1336.1 2253.7,1335.5 2257.3,1335.5 2260.9,1335.3 2264.5,1335.4 2268,1335.7 2271.6,1336.2 2275.2,1335.8 2278.8,1335.3 2282.4,1335.1 2285.9,1335 2289.5,1334.7 2293.1,1334.6 2296.7,1334.3 2300.3,1334 2303.8,1332.8 2307.4,1333.1 2311,1333.6 2314.6,1333.3 2318.2,1333.7 2321.7,1333.5 2325.3,1333 2328.9,1333 2332.5,1333.2 2336.1,1333.4 2339.6,1333 2343.2,1332.7 2346.8,1333.3 2350.4,1333.6 2354,1333.7 2357.5,1333.7 2361.1,1333 2364.7,1333.5 2368.3,1333.3 2371.9,1334.1 2375.4,1334.2 2379,1333.8 2382.6,1333.8 2386.2,1334.4 2389.8,1334.8 2393.3,1334.1 2396.9,1334.9 2400.5,1334.5 2404.1,1335.2 2407.7,1334.8 2411.2,1334.8 2414.8,1335 2418.4,1335.5 2422,1335.2 2425.6,1336 2429.1,1335.9 2432.7,1335.9 2436.3,1335.6 2439.9,1336.4 2443.5,1335.8 2447,1336 2450.6,1336 2454.2,1336.7 2457.8,1337 2461.4,1337.1 2464.9,1336.6 2468.5,1336.6 2472.1,1337 2475.7,1337.4 2479.3,1337.8 2482.8,1337.4 2486.4,1337.5 2490,1338.5 2493.6,1338.5 2497.1,1338.1 2500.7,1338.2 2504.3,1338.9 2507.9,1339.1 2511.5,1339.2 2515,1339.2 2518.6,1339.8 2522.2,1339.3 2525.8,1339.7 2529.4,1339.5 2532.9,1340.2 2536.5,1339.5 2540.1,1339.8 2543.7,1340.4 2547.3,1339.8 2550.8,1340.2 2554.4,1340.1 2558,1341.1 2561.6,1341.1 2565.2,1340.5 2568.7,1341.1 2572.3,1340.8 2575.9,1341.1 2579.5,1340.2 2583.1,1340.6 2586.6,1340.1 2590.2,1340.8 2593.8,1340.3 2597.4,1340.7 2601,1358.4 2604.5,1359.1 2608.1,1359.7 2611.7,1360 2615.3,1359.8 2618.9,1360.5 2622.4,1360.7 2626,1360.7 2629.6,1360.8 2633.2,1361 2636.8,1361.2 2640.3,1361.7 2643.9,1361.7 2647.5,1362.5 2651.1,1362.6 2654.7,1362.3 2658.2,1362.8 2661.8,1362.6 2665.4,1362.3 2669,1361.9 2672.6,1362.2 2676.1,1362 2679.7,1361.4 2683.3,1361.5 2686.9,1360.8 2690.5,1360.5 2694,1360.5 2697.6,1360.2 2701.2,1360.4 2704.8,1360.5 2708.4,1360.1 2711.9,1360.2 2715.5,1360 2719.1,1360.4 2722.7,1360.4 2726.2,1359.8 2729.8,1360.3 2733.4,1360.2 2737,1359.6 2740.6,1360.3 2744.1,1360.4 2747.7,1359.9 2751.3,1360 2754.9,1360 2758.5,1360.5 2762,1360.5 2765.6,1361.3 2769.2,1361.4 2772.8,1361.3 2776.4,1362.4 2779.9,1362.5 2783.5,1362.1 2787.1,1362.5 2790.7,1363.4 2794.3,1363.5 2797.8,1364 2801.4,1364.5 2805,1364.5 2808.6,1365.5 2812.2,1364.9 2815.7,1365.7 2819.3,1364.8 2822.9,1365 2826.5,1365.2 2830.1,1365 2833.6,1365.2 2837.2,1364.9 2840.8,1365.6 2844.4,1365.2 2848,1364.8 2851.5,1364.8 2855.1,1365.5 2858.7,1365.4 2862.3,1364.8 2865.9,1365.5 2869.4,1365.9 2873,1365.3 2876.6,1365.7 2880.2,1365.5 2883.8,1365.9 2887.3,1383.1 2890.9,1365.9 2894.5,1366.6 2898.1,1366.4 2901.7,1367.2 2905.2,1367.6 2908.8,1368 2912.4,1369.2 2916,1369 2919.6,1369.6 2923.1,1370.4 2926.7,1370.9 2930.3,1371.4 2933.9,1370.8 2937.5,1371.4 2941,1371.1 2944.6,1371.5 2948.2,1371.6 2951.8,1371.1 2955.4,1371.2 2958.9,1371.1 2962.5,1371 2966.1,1370.8 2969.7,1371.8 2973.2,1371.3 2976.8,1371.4 2980.4,1371.3 2984,1371.5 2987.6,1371.5 2991.1,1371.2 2994.7,1371.7 2998.3,1371.7 3001.9,1371.6 3005.5,1372.2 3009,1371.9 3012.6,1372.3 3016.2,1372.4 3019.8,1372.5 3023.4,1372.4 3026.9,1372.4 3030.5,1372.2 3034.1,1372.2 3037.7,1372 3041.3,1372.4 3044.8,1372 3048.4,1372.6 3052,1372.3 3055.6,1372.5 3059.2,1372.5 3062.7,1372.9 3066.3,1372.3 3069.9,1372.5 3073.5,1373.2"/>
<polyline class="dr" points="1892.2,1326.8 1895.8,1321.7 1899.3,1335.1 1902.9,1339.5 1906.5,1342.1 1910.1,1344.4 1913.7,1342.7 1917.2,1343.6 1920.8,1343.4 1924.4,1354.2 1928,1342.8 1931.6,1344.3 1935.1,1343.5 1938.7,1344.8 1942.3,1343.2 1945.9,1343.4 1949.5,1341.6 1953,1341.5 1956.6,1353.4 1960.2,1344.1 1963.8,1343.9 1967.4,1343.8 1970.9,1342.3 1974.5,1342.9 1978.1,1343 1981.7,1343.2 1985.3,1344.6 1988.8,1343.5 1992.4,1341.9 1996,1342.4 1999.6,1343.2 2003.2,1344.3 2006.7,1350.6 2010.3,1351.3 2013.9,1350.1 2017.5,1344.9 2021,1344.6 2024.6,1344.5 2028.2,1344.4 2031.8,1345.4 2035.4,1343.6 2038.9,1345 2042.5,1343.8 2046.1,1343.7 2049.7,1343.5 2053.3,1344.7 2056.8,1344.7 2060.4,1343.4 2064,1344.4 2067.6,1345.1 2071.2,1344.6 2074.7,1348.8 2078.3,1348 2081.9,1351.3 2085.5,1352.7 2089.1,1351.2 2092.6,1352.9 2096.2,1352.3 2099.8,1353.3 2103.4,1352.1 2107,1352.8 2110.5,1353.7 2114.1,1355 2117.7,1354.4 2121.3,1354.2 2124.9,1354.9 2128.4,1354.2 2132,1355.1 2135.6,1354.3 2139.2,1354.2 2142.8,1353.8 2146.3,1353.6 2149.9,1353.7 2153.5,1354.5 2157.1,1354.4 2160.7,1353.3 2164.2,1354.7 2167.8,1353.6 2171.4,1352.9 2175,1353.1 2178.6,1354.2 2182.1,1354.9 2185.7,1354 2189.3,1353.8 2192.9,1354.2 2196.5,1354.8 2200,1354.4 2203.6,1355.5 2207.2,1354.9 2210.8,1355.3 2214.4,1353.8 2217.9,1353 2221.5,1355.3 2225.1,1355.6 2228.7,1351.7 2232.3,1350.9 2235.8,1350.5 2239.4,1351.7 2243,1351.4 2246.6,1349.9 2250.1,1350.2 2253.7,1349.5 2257.3,1349.2 2260.9,1350.9 2264.5,1350.1 2268,1350.6 2271.6,1350.5 2275.2,1350.8 2278.8,1349.1 2282.4,1350.3 2285.9,1351.7 2289.5,1350.3 2293.1,1349.7 2296.7,1350 2300.3,1351.1 2303.8,1352.7 2307.4,1350.6 2311,1350.4 2314.6,1351.1 2318.2,1352 2321.7,1352.3 2325.3,1351.4 2328.9,1353.3 2332.5,1351.5 2336.1,1352.5 2339.6,1353.8 2343.2,1351.8 2346.8,1353.1 2350.4,1354.1 2354,1354 2357.5,1352.2 2361.1,1354.2 2364.7,1352.6 2368.3,1352.7 2371.9,1354.9 2375.4,1354 2379,1353.1 2382.6,1354.1 2386.2,1353.2 2389.8,1354.7 2393.3,1354.1 2396.9,1355.5 2400.5,1353.9 2404.1,1354.1 2407.7,1355 2411.2,1355.9 2414.8,1356 2418.4,1355.4 2422,1356.9 2425.6,1356 2429.1,1356.8 2432.7,1356.9 2436.3,1357.1 2439.9,1355.8 2443.5,1357.8 2447,1357.8 2450.6,1358.2 2454.2,1358.8 2457.8,1357.8 2461.4,1356.8 2464.9,1356.8 2468.5,1358.2 2472.1,1358.2 2475.7,1356.7 2479.3,1357.5 2482.8,1357.3 2486.4,1356.8 2490,1358.2 2493.6,1355.9 2497.1,1357.7 2500.7,1356.3 2504.3,1355 2507.9,1365.1 2511.5,1365.8 2515,1364.9 2518.6,1364.5 2522.2,1365.5 2525.8,1367.2 2529.4,1365 2532.9,1367.6 2536.5,1365.9 2540.1,1365.4 2543.7,1367.7 2547.3,1366.8 2550.8,1366.4 2554.4,1368.1 2558,1368 2561.6,1368.7 2565.2,1368.6 2568.7,1368.8 2572.3,1368.6 2575.9,1367.6 2579.5,1368 2583.1,1368.1 2586.6,1368.7 2590.2,1368.6 2593.8,1370.7 2597.4,1369.8 2601,1371.6 2604.5,1370.6 2608.1,1369.8 2611.7,1371.2 2615.3,1371.9 2618.9,1372.3 2622.4,1372.2 2626,1371 2629.6,1371.1 2633.2,1372.1 2636.8,1371.7 2640.3,1372.6 2643.9,1374.2 2647.5,1374.1 2651.1,1373.5 2654.7,1373.8 2658.2,1374.2 2661.8,1375 2665.4,1376.2 2669,1374.1 2672.6,1376.5 2676.1,1374.6 2679.7,1377.2 2683.3,1375.1 2686.9,1377.1 2690.5,1376.1 2694,1378.6 2697.6,1377.6 2701.2,1378.4 2704.8,1377.4 2708.4,1377.5 2711.9,1378 2715.5,1377.3 2719.1,1376.5 2722.7,1378.9 2726.2,1377.6 2729.8,1377.2 2733.4,1377.3 2737,1378.3 2740.6,1376.5 2744.1,1378.2 2747.7,1376.5 2751.3,1377.5 2754.9,1378.4 2758.5,1376.4 2762,1378.7 2765.6,1376.8 2769.2,1377.5 2772.8,1376.8 2776.4,1377.2 2779.9,1378.4 2783.5,1379.3 2787.1,1379.1 2790.7,1380 2794.3,1378.3 2797.8,1380 2801.4,1379.9 2805,1379.8 2808.6,1379.5 2812.2,1378.7 2815.7,1379.4 2819.3,1379.3 2822.9,1380.4 2826.5,1379.7 2830.1,1380.1 2833.6,1378.6 2837.2,1380.6 2840.8,1378.9 2844.4,1378.7 2848,1379.3 2851.5,1380.6 2855.1,1380 2858.7,1380 2862.3,1379.9 2865.9,1379.9 2869.4,1377.9 2873,1378.4"/>
<polyline class="db" points="1892.2,1338.3 1895.8,1418.3 1899.3,1391.4 1902.9,1390.6 1906.5,1404.3 1910.1,1428.3 1913.7,1459.9 1917.2,1481 1920.8,1472 1924.4,1432.7 1928,1407.8 1931.6,1389.8 1935.1,1399.7 1938.7,1406.1 1942.3,1417.2 1945.9,1429.3 1949.5,1426.7 1953,1420.6 1956.6,1410.2 1960.2,1399.7 1963.8,1390.4 1967.4,1381.6 1970.9,1374.5 1974.5,1371.4 1978.1,1373.2 1981.7,1380.1 1985.3,1388.5 1988.8,1395.3 1992.4,1396.5 1996,1396.5 1999.6,1394.5 2003.2,1389.1 2006.7,1382 2010.3,1374.8 2013.9,1368.6 2017.5,1365 2021,1364.6 2024.6,1365.5 2028.2,1366.7 2031.8,1366.4 2035.4,1367.3 2038.9,1367.9 2042.5,1367.2 2046.1,1368.1 2049.7,1367.4 2053.3,1367.6 2056.8,1368.5 2060.4,1368.4 2064,1368.1 2067.6,1368.4 2071.2,1368.7 2074.7,1369.4 2078.3,1369.3 2081.9,1368.9 2085.5,1369.4 2089.1,1369.2 2092.6,1369.4 2096.2,1367 2099.8,1364.5 2103.4,1363.6 2107,1364.1 2110.5,1367.3 2114.1,1371.5 2117.7,1371.9 2121.3,1371.9 2124.9,1372 2128.4,1372.8 2132,1371.8 2135.6,1371.7 2139.2,1372 2142.8,1371.8 2146.3,1372.6 2149.9,1372.8 2153.5,1372.5 2157.1,1372.8 2160.7,1372.4 2164.2,1364.2 2167.8,1365.5 2171.4,1365.3 2175,1368.8 2178.6,1372.1 2182.1,1371.4 2185.7,1371.8 2189.3,1372.1 2192.9,1371.8 2196.5,1371.2 2200,1371.6 2203.6,1372.4 2207.2,1371.5 2210.8,1372.7 2214.4,1372.4 2217.9,1372.5 2221.5,1371.7 2225.1,1373.2 2228.7,1372.3 2232.3,1372.6 2235.8,1373.2 2239.4,1372.5 2243,1372.3 2246.6,1372.5 2250.1,1371.8 2253.7,1369 2257.3,1368 2260.9,1367.2 2264.5,1367.7 2268,1368.4 2271.6,1370.3 2275.2,1373.4 2278.8,1373.7 2282.4,1373.6 2285.9,1374.1 2289.5,1374.9 2293.1,1373.7 2296.7,1374.8 2300.3,1375 2303.8,1375.5 2307.4,1374.9 2311,1375 2314.6,1376.1 2318.2,1376 2321.7,1377.2 2325.3,1377.5 2328.9,1380.2 2332.5,1382.8 2336.1,1470.7 2339.6,1469.7 2343.2,1466.3 2346.8,1374.5 2350.4,1375.1 2354,1375 2357.5,1375.3 2361.1,1375.5 2364.7,1374.6 2368.3,1374.9 2371.9,1374.1 2375.4,1375.5 2379,1374.3 2382.6,1375.5 2386.2,1375.3 2389.8,1375.5 2393.3,1374.9 2396.9,1375.4 2400.5,1375.6 2404.1,1374.8 2407.7,1375.5 2411.2,1375.2 2414.8,1375.4 2418.4,1376.4 2422,1376.1 2425.6,1377 2429.1,1376.9 2432.7,1376.6 2436.3,1377 2439.9,1377.9 2443.5,1378.1 2447,1377.2 2450.6,1377.4 2454.2,1377.7 2457.8,1378.5 2461.4,1377.8 2464.9,1378.3 2468.5,1379.2 2472.1,1379.3 2475.7,1378.8 2479.3,1378.5 2482.8,1379.3 2486.4,1379.9 2490,1379.4 2493.6,1380.4 2497.1,1379.9 2500.7,1380.5 2504.3,1381.3 2507.9,1380.8 2511.5,1381.2 2515,1380.9 2518.6,1381.5 2522.2,1382.4 2525.8,1382.2 2529.4,1383.2 2532.9,1382.9 2536.5,1383.3 2540.1,1383.6 2543.7,1384.6 2547.3,1384.1 2550.8,1377.3 2554.4,1369.9 2558,1379 2561.6,1385.9 2565.2,1386.1 2568.7,1387.1 2572.3,1388.3 2575.9,1387.5 2579.5,1388.5 2583.1,1389.4 2586.6,1389.4 2590.2,1389.5 2593.8,1391.1 2597.4,1390.9 2601,1391.2 2604.5,1394.6 2608.1,1390.9 2611.7,1390 2615.3,1389.5 2618.9,1389.4 2622.4,1389 2626,1389.1 2629.6,1389 2633.2,1388.9 2636.8,1389.4 2640.3,1388.2 2643.9,1388.5 2647.5,1389.1 2651.1,1387.7 2654.7,1388.4 2658.2,1388.9 2661.8,1390.3 2665.4,1389.8 2669,1390.8 2672.6,1390.6 2676.1,1392 2679.7,1392.2 2683.3,1393.1 2686.9,1393.7 2690.5,1393.7 2694,1393.5 2697.6,1394.4 2701.2,1395.1 2704.8,1394.6 2708.4,1400 2711.9,1398.8 2715.5,1398.9 2719.1,1398.2 2722.7,1396.1 2726.2,1396.5 2729.8,1433.9 2733.4,1395.2 2737,1386.6 2740.6,1377.9 2744.1,1379.1 2747.7,1380.2 2751.3,1387.6 2754.9,1394.2 2758.5,1395.7 2762,1397.8 2765.6,1398.4 2769.2,1393.9 2772.8,1390.5 2776.4,1389.1 2779.9,1387.9 2783.5,1387.5 2787.1,1385.5 2790.7,1382.4 2794.3,1380.5 2797.8,1382.3 2801.4,1400"/>
<polyline class="dk L" points="2664,1499.7 2762.4,1499.7"/>
<polyline class="m k" points="2713.2,1499.7"/>
<polyline class="dr L" points="2664,1556 2762.4,1556"/>
<polyline class="m r" points="2713.2,1556"/>
<polyline class="db L" points="2664,1613 2762.4,1613"/>
<polyline class="m b" points="2713.2,1613"/>
</g>
<g font-family="'Liberation Serif','Noto Serif CJK SC',serif" fill="#231f20">
<polyline class="m k" points="1409.2,381.8"/><text x="1438" y="394.4" font-size="54">1<tspan font-size="32" dy="-19.5">st</tspan></text><polyline class="m r" points="1409.2,443.3"/><text x="1438" y="455.9" font-size="54">2<tspan font-size="32" dy="-19.5">nd</tspan></text><polyline class="m b" points="1409.2,506"/><text x="1438" y="518.6" font-size="54">50<tspan font-size="32" dy="-19.5">th</tspan></text><polyline class="m t" points="1409.2,567.2"/><text x="1438" y="579.8" font-size="54">100<tspan font-size="32" dy="-19.5">th</tspan></text><polyline class="m p" points="1409.2,629"/><text x="1438" y="641.6" font-size="54">200<tspan font-size="32" dy="-19.5">th</tspan></text><polyline class="m o" points="1409.2,691"/><text x="1438" y="703.6" font-size="54">300<tspan font-size="32" dy="-19.5">th</tspan></text>
<polyline class="m k" points="2882.3,460.2"/><text x="2911" y="472.8" font-size="54">1<tspan font-size="32" dy="-19.5">st</tspan></text><polyline class="m r" points="2882.3,522.2"/><text x="2911" y="534.8" font-size="54">2<tspan font-size="32" dy="-19.5">nd</tspan></text><polyline class="m b" points="2882.3,585.6"/><text x="2911" y="598.2" font-size="54">50<tspan font-size="32" dy="-19.5">th</tspan></text><polyline class="m t" points="2882.3,645.6"/><text x="2911" y="658.2" font-size="54">100<tspan font-size="32" dy="-19.5">th</tspan></text><polyline class="m p" points="2882.3,707.6"/><text x="2911" y="720.2" font-size="54">200<tspan font-size="32" dy="-19.5">th</tspan></text><polyline class="m o" points="2882.3,770"/><text x="2911" y="782.6" font-size="54">250<tspan font-size="32" dy="-19.5">th</tspan></text>
<polyline class="m k" points="1409,1514.6"/><text x="1440.5" y="1527.2" font-size="54">1<tspan font-size="32" dy="-19.5">st</tspan></text><polyline class="m r" points="1409,1576.3"/><text x="1440.5" y="1588.9" font-size="54">2<tspan font-size="32" dy="-19.5">nd</tspan></text><polyline class="m b" points="1409,1639.2"/><text x="1440.5" y="1651.8" font-size="54">50<tspan font-size="32" dy="-19.5">th</tspan></text><polyline class="m t" points="1409,1700.3"/><text x="1440.5" y="1712.9" font-size="54">100<tspan font-size="32" dy="-19.5">th</tspan></text><polyline class="m p" points="1409,1762.5"/><text x="1440.5" y="1775.1" font-size="54">200<tspan font-size="32" dy="-19.5">th</tspan></text><polyline class="m o" points="1409,1824"/><text x="1440.5" y="1836.6" font-size="54">250<tspan font-size="32" dy="-19.5">th</tspan></text>
<text x="2786.4" y="1515.4" text-anchor="start" font-size="54.5">NaH-NVP</text>
<text x="2786.4" y="1571.7" text-anchor="start" font-size="54.5">GaH-NVP</text>
<text x="2786.4" y="1628.4" text-anchor="start" font-size="54.5">GC-NVP</text>
</g>
</svg>
</body></html>
